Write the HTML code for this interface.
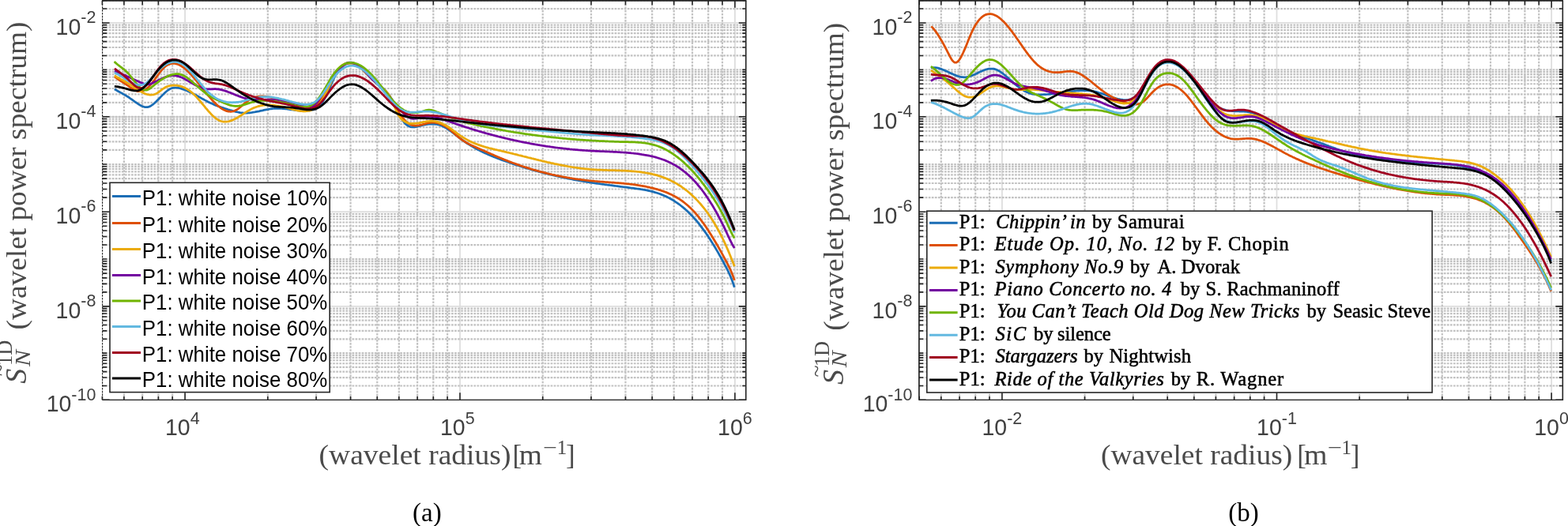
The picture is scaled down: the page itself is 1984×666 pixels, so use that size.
<!DOCTYPE html>
<html><head><meta charset="utf-8"><title>Wavelet power spectrum</title><style>html,body{margin:0;padding:0;background:#fff;overflow:hidden}svg{display:block}</style></head><body>
<svg width="1984" height="666" viewBox="0 0 1984 666">
<style>.tk{font-family:"Liberation Sans",Arial,sans-serif;font-size:28.5px;fill:#404040}.tx{font-size:21.5px}.sr{font-family:"Liberation Serif","Times New Roman",serif;fill:#4a4a4a}.lg{font-family:"Liberation Sans",Arial,sans-serif;font-size:28px;fill:#000}.lb{font-family:"Liberation Serif","Times New Roman",serif;font-size:24.5px;fill:#000;stroke:#000;stroke-width:0.55px}.cap{font-family:"Liberation Serif","Times New Roman",serif;font-size:33px;fill:#000}</style>
<rect width="100%" height="100%" fill="#fff"/>
<path d="M234.1 0.7V506.3M582 0.7V506.3M929.9 0.7V506.3M129.6 506.3H943.8M129.6 387.9H943.8M129.6 268.25H943.8M129.6 147.8H943.8M129.6 28.93H943.8" stroke="#dedede" stroke-width="1.8" fill="none"/>
<path d="M156.92 0.7V506.3M180.21 0.7V506.3M200.39 0.7V506.3M218.18 0.7V506.3M338.83 0.7V506.3M400.09 0.7V506.3M443.56 0.7V506.3M477.27 0.7V506.3M504.82 0.7V506.3M528.11 0.7V506.3M548.29 0.7V506.3M566.08 0.7V506.3M686.73 0.7V506.3M747.99 0.7V506.3M791.46 0.7V506.3M825.17 0.7V506.3M852.72 0.7V506.3M876.01 0.7V506.3M896.19 0.7V506.3M913.98 0.7V506.3M129.6 488.48H943.8M129.6 478.05H943.8M129.6 470.66H943.8M129.6 464.92H943.8M129.6 460.23H943.8M129.6 456.27H943.8M129.6 452.84H943.8M129.6 449.81H943.8M129.6 447.1H943.8M129.6 429.28H943.8M129.6 418.85H943.8M129.6 411.46H943.8M129.6 405.72H943.8M129.6 401.03H943.8M129.6 397.07H943.8M129.6 393.64H943.8M129.6 390.61H943.8M129.6 369.89H943.8M129.6 359.36H943.8M129.6 351.88H943.8M129.6 346.08H943.8M129.6 341.35H943.8M129.6 337.34H943.8M129.6 333.87H943.8M129.6 330.81H943.8M129.6 328.07H943.8M129.6 310.07H943.8M129.6 299.53H943.8M129.6 292.06H943.8M129.6 286.26H943.8M129.6 281.52H943.8M129.6 277.52H943.8M129.6 274.05H943.8M129.6 270.99H943.8M129.6 250.12H943.8M129.6 239.52H943.8M129.6 231.99H943.8M129.6 226.15H943.8M129.6 221.39H943.8M129.6 217.35H943.8M129.6 213.86H943.8M129.6 210.78H943.8M129.6 208.03H943.8M129.6 189.9H943.8M129.6 179.29H943.8M129.6 171.77H943.8M129.6 165.93H943.8M129.6 161.16H943.8M129.6 157.13H943.8M129.6 153.64H943.8M129.6 150.56H943.8M129.6 129.91H943.8M129.6 119.44H943.8M129.6 112.02H943.8M129.6 106.26H943.8M129.6 101.55H943.8M129.6 97.57H943.8M129.6 94.12H943.8M129.6 91.08H943.8M129.6 88.37H943.8M129.6 70.47H943.8M129.6 60.01H943.8M129.6 52.58H943.8M129.6 46.82H943.8M129.6 42.12H943.8M129.6 38.14H943.8M129.6 34.69H943.8M129.6 31.65H943.8M129.6 11.04H943.8M129.6 0.57H943.8M129.6 147.8H943.8" stroke="#c2c2c2" stroke-width="2.2" stroke-dasharray="2.7 1.35" fill="none"/>
<path d="M234.1 506.3v-9.0M234.1 0.7v9.0M582 506.3v-9.0M582 0.7v9.0M929.9 506.3v-9.0M929.9 0.7v9.0M129.37 506.3v-4.5M129.37 0.7v5.5M156.92 506.3v-4.5M156.92 0.7v5.5M180.21 506.3v-4.5M180.21 0.7v5.5M200.39 506.3v-4.5M200.39 0.7v5.5M218.18 506.3v-4.5M218.18 0.7v5.5M338.83 506.3v-4.5M338.83 0.7v5.5M400.09 506.3v-4.5M400.09 0.7v5.5M443.56 506.3v-4.5M443.56 0.7v5.5M477.27 506.3v-4.5M477.27 0.7v5.5M504.82 506.3v-4.5M504.82 0.7v5.5M528.11 506.3v-4.5M528.11 0.7v5.5M548.29 506.3v-4.5M548.29 0.7v5.5M566.08 506.3v-4.5M566.08 0.7v5.5M686.73 506.3v-4.5M686.73 0.7v5.5M747.99 506.3v-4.5M747.99 0.7v5.5M791.46 506.3v-4.5M791.46 0.7v5.5M825.17 506.3v-4.5M825.17 0.7v5.5M852.72 506.3v-4.5M852.72 0.7v5.5M876.01 506.3v-4.5M876.01 0.7v5.5M896.19 506.3v-4.5M896.19 0.7v5.5M913.98 506.3v-4.5M913.98 0.7v5.5M129.6 506.3h9.0M943.8 506.3h-9.0M129.6 387.9h9.0M943.8 387.9h-9.0M129.6 268.25h9.0M943.8 268.25h-9.0M129.6 147.8h9.0M943.8 147.8h-9.0M129.6 28.93h9.0M943.8 28.93h-9.0M129.6 488.48h5.5M943.8 488.48h-4.5M129.6 478.05h5.5M943.8 478.05h-4.5M129.6 470.66h5.5M943.8 470.66h-4.5M129.6 464.92h5.5M943.8 464.92h-4.5M129.6 460.23h5.5M943.8 460.23h-4.5M129.6 456.27h5.5M943.8 456.27h-4.5M129.6 452.84h5.5M943.8 452.84h-4.5M129.6 449.81h5.5M943.8 449.81h-4.5M129.6 447.1h5.5M943.8 447.1h-4.5M129.6 429.28h5.5M943.8 429.28h-4.5M129.6 418.85h5.5M943.8 418.85h-4.5M129.6 411.46h5.5M943.8 411.46h-4.5M129.6 405.72h5.5M943.8 405.72h-4.5M129.6 401.03h5.5M943.8 401.03h-4.5M129.6 397.07h5.5M943.8 397.07h-4.5M129.6 393.64h5.5M943.8 393.64h-4.5M129.6 390.61h5.5M943.8 390.61h-4.5M129.6 369.89h5.5M943.8 369.89h-4.5M129.6 359.36h5.5M943.8 359.36h-4.5M129.6 351.88h5.5M943.8 351.88h-4.5M129.6 346.08h5.5M943.8 346.08h-4.5M129.6 341.35h5.5M943.8 341.35h-4.5M129.6 337.34h5.5M943.8 337.34h-4.5M129.6 333.87h5.5M943.8 333.87h-4.5M129.6 330.81h5.5M943.8 330.81h-4.5M129.6 328.07h5.5M943.8 328.07h-4.5M129.6 310.07h5.5M943.8 310.07h-4.5M129.6 299.53h5.5M943.8 299.53h-4.5M129.6 292.06h5.5M943.8 292.06h-4.5M129.6 286.26h5.5M943.8 286.26h-4.5M129.6 281.52h5.5M943.8 281.52h-4.5M129.6 277.52h5.5M943.8 277.52h-4.5M129.6 274.05h5.5M943.8 274.05h-4.5M129.6 270.99h5.5M943.8 270.99h-4.5M129.6 250.12h5.5M943.8 250.12h-4.5M129.6 239.52h5.5M943.8 239.52h-4.5M129.6 231.99h5.5M943.8 231.99h-4.5M129.6 226.15h5.5M943.8 226.15h-4.5M129.6 221.39h5.5M943.8 221.39h-4.5M129.6 217.35h5.5M943.8 217.35h-4.5M129.6 213.86h5.5M943.8 213.86h-4.5M129.6 210.78h5.5M943.8 210.78h-4.5M129.6 208.03h5.5M943.8 208.03h-4.5M129.6 189.9h5.5M943.8 189.9h-4.5M129.6 179.29h5.5M943.8 179.29h-4.5M129.6 171.77h5.5M943.8 171.77h-4.5M129.6 165.93h5.5M943.8 165.93h-4.5M129.6 161.16h5.5M943.8 161.16h-4.5M129.6 157.13h5.5M943.8 157.13h-4.5M129.6 153.64h5.5M943.8 153.64h-4.5M129.6 150.56h5.5M943.8 150.56h-4.5M129.6 129.91h5.5M943.8 129.91h-4.5M129.6 119.44h5.5M943.8 119.44h-4.5M129.6 112.02h5.5M943.8 112.02h-4.5M129.6 106.26h5.5M943.8 106.26h-4.5M129.6 101.55h5.5M943.8 101.55h-4.5M129.6 97.57h5.5M943.8 97.57h-4.5M129.6 94.12h5.5M943.8 94.12h-4.5M129.6 91.08h5.5M943.8 91.08h-4.5M129.6 88.37h5.5M943.8 88.37h-4.5M129.6 70.47h5.5M943.8 70.47h-4.5M129.6 60.01h5.5M943.8 60.01h-4.5M129.6 52.58h5.5M943.8 52.58h-4.5M129.6 46.82h5.5M943.8 46.82h-4.5M129.6 42.12h5.5M943.8 42.12h-4.5M129.6 38.14h5.5M943.8 38.14h-4.5M129.6 34.69h5.5M943.8 34.69h-4.5M129.6 31.65h5.5M943.8 31.65h-4.5M129.6 11.04h5.5M943.8 11.04h-4.5M129.6 0.57h5.5M943.8 0.57h-4.5" stroke="#262626" stroke-width="1.6" fill="none"/>
<path d="M129.6 506.3H943.8" stroke="#262626" stroke-width="1.3" fill="none"/>
<path d="M943.8 506.95V0.7" stroke="#262626" stroke-width="1.6" fill="none"/>
<path d="M129 0.8H944.4" stroke="#262626" stroke-width="1.7" fill="none"/>
<path d="M129.6 0.7V506.3" stroke="#262626" stroke-width="1.1" stroke-dasharray="2.7 1.1" fill="none"/>
<g transform="translate(121.4,43.83) scale(1,1.035)"><text x="0" y="0" text-anchor="end" class="tk">10<tspan dy="-14.2" class="tx">-2</tspan></text></g>
<g transform="translate(121.4,162.7) scale(1,1.035)"><text x="0" y="0" text-anchor="end" class="tk">10<tspan dy="-14.2" class="tx">-4</tspan></text></g>
<g transform="translate(121.4,283.15) scale(1,1.035)"><text x="0" y="0" text-anchor="end" class="tk">10<tspan dy="-14.2" class="tx">-6</tspan></text></g>
<g transform="translate(121.4,402.8) scale(1,1.035)"><text x="0" y="0" text-anchor="end" class="tk">10<tspan dy="-14.2" class="tx">-8</tspan></text></g>
<g transform="translate(121.4,521.2) scale(1,1.035)"><text x="0" y="0" text-anchor="end" class="tk">10<tspan dy="-14.2" class="tx">-10</tspan></text></g>
<g transform="translate(230.8,551) scale(1,1.035)"><text x="0" y="0" text-anchor="middle" class="tk">10<tspan dy="-13.3" class="tx">4</tspan></text></g>
<g transform="translate(578.8,551) scale(1,1.035)"><text x="0" y="0" text-anchor="middle" class="tk">10<tspan dy="-13.3" class="tx">5</tspan></text></g>
<g transform="translate(929.9,551) scale(1,1.035)"><text x="0" y="0" text-anchor="middle" class="tk">10<tspan dy="-13.3" class="tx">6</tspan></text></g>
<path d="M1267.9 0.7V506.3M1615.5 0.7V506.3M1963.1 0.7V506.3M1162.6 506.3H1977.3M1162.6 387.9H1977.3M1162.6 268.25H1977.3M1162.6 147.8H1977.3M1162.6 28.93H1977.3" stroke="#dedede" stroke-width="1.8" fill="none"/>
<path d="M1190.79 0.7V506.3M1214.06 0.7V506.3M1234.21 0.7V506.3M1251.99 0.7V506.3M1372.54 0.7V506.3M1433.75 0.7V506.3M1477.18 0.7V506.3M1510.86 0.7V506.3M1538.39 0.7V506.3M1561.66 0.7V506.3M1581.81 0.7V506.3M1599.59 0.7V506.3M1720.14 0.7V506.3M1781.35 0.7V506.3M1824.78 0.7V506.3M1858.46 0.7V506.3M1885.99 0.7V506.3M1909.26 0.7V506.3M1929.41 0.7V506.3M1947.19 0.7V506.3M1162.6 488.48H1977.3M1162.6 478.05H1977.3M1162.6 470.66H1977.3M1162.6 464.92H1977.3M1162.6 460.23H1977.3M1162.6 456.27H1977.3M1162.6 452.84H1977.3M1162.6 449.81H1977.3M1162.6 447.1H1977.3M1162.6 429.28H1977.3M1162.6 418.85H1977.3M1162.6 411.46H1977.3M1162.6 405.72H1977.3M1162.6 401.03H1977.3M1162.6 397.07H1977.3M1162.6 393.64H1977.3M1162.6 390.61H1977.3M1162.6 369.89H1977.3M1162.6 359.36H1977.3M1162.6 351.88H1977.3M1162.6 346.08H1977.3M1162.6 341.35H1977.3M1162.6 337.34H1977.3M1162.6 333.87H1977.3M1162.6 330.81H1977.3M1162.6 328.07H1977.3M1162.6 310.07H1977.3M1162.6 299.53H1977.3M1162.6 292.06H1977.3M1162.6 286.26H1977.3M1162.6 281.52H1977.3M1162.6 277.52H1977.3M1162.6 274.05H1977.3M1162.6 270.99H1977.3M1162.6 250.12H1977.3M1162.6 239.52H1977.3M1162.6 231.99H1977.3M1162.6 226.15H1977.3M1162.6 221.39H1977.3M1162.6 217.35H1977.3M1162.6 213.86H1977.3M1162.6 210.78H1977.3M1162.6 208.03H1977.3M1162.6 189.9H1977.3M1162.6 179.29H1977.3M1162.6 171.77H1977.3M1162.6 165.93H1977.3M1162.6 161.16H1977.3M1162.6 157.13H1977.3M1162.6 153.64H1977.3M1162.6 150.56H1977.3M1162.6 129.91H1977.3M1162.6 119.44H1977.3M1162.6 112.02H1977.3M1162.6 106.26H1977.3M1162.6 101.55H1977.3M1162.6 97.57H1977.3M1162.6 94.12H1977.3M1162.6 91.08H1977.3M1162.6 88.37H1977.3M1162.6 70.47H1977.3M1162.6 60.01H1977.3M1162.6 52.58H1977.3M1162.6 46.82H1977.3M1162.6 42.12H1977.3M1162.6 38.14H1977.3M1162.6 34.69H1977.3M1162.6 31.65H1977.3M1162.6 11.04H1977.3M1162.6 0.57H1977.3M1162.6 147.8H1977.3" stroke="#c2c2c2" stroke-width="2.2" stroke-dasharray="2.7 1.35" fill="none"/>
<path d="M1267.9 506.3v-9.0M1267.9 0.7v9.0M1615.5 506.3v-9.0M1615.5 0.7v9.0M1963.1 506.3v-9.0M1963.1 0.7v9.0M1163.26 506.3v-4.5M1163.26 0.7v5.5M1190.79 506.3v-4.5M1190.79 0.7v5.5M1214.06 506.3v-4.5M1214.06 0.7v5.5M1234.21 506.3v-4.5M1234.21 0.7v5.5M1251.99 506.3v-4.5M1251.99 0.7v5.5M1372.54 506.3v-4.5M1372.54 0.7v5.5M1433.75 506.3v-4.5M1433.75 0.7v5.5M1477.18 506.3v-4.5M1477.18 0.7v5.5M1510.86 506.3v-4.5M1510.86 0.7v5.5M1538.39 506.3v-4.5M1538.39 0.7v5.5M1561.66 506.3v-4.5M1561.66 0.7v5.5M1581.81 506.3v-4.5M1581.81 0.7v5.5M1599.59 506.3v-4.5M1599.59 0.7v5.5M1720.14 506.3v-4.5M1720.14 0.7v5.5M1781.35 506.3v-4.5M1781.35 0.7v5.5M1824.78 506.3v-4.5M1824.78 0.7v5.5M1858.46 506.3v-4.5M1858.46 0.7v5.5M1885.99 506.3v-4.5M1885.99 0.7v5.5M1909.26 506.3v-4.5M1909.26 0.7v5.5M1929.41 506.3v-4.5M1929.41 0.7v5.5M1947.19 506.3v-4.5M1947.19 0.7v5.5M1162.6 506.3h9.0M1977.3 506.3h-9.0M1162.6 387.9h9.0M1977.3 387.9h-9.0M1162.6 268.25h9.0M1977.3 268.25h-9.0M1162.6 147.8h9.0M1977.3 147.8h-9.0M1162.6 28.93h9.0M1977.3 28.93h-9.0M1162.6 488.48h5.5M1977.3 488.48h-4.5M1162.6 478.05h5.5M1977.3 478.05h-4.5M1162.6 470.66h5.5M1977.3 470.66h-4.5M1162.6 464.92h5.5M1977.3 464.92h-4.5M1162.6 460.23h5.5M1977.3 460.23h-4.5M1162.6 456.27h5.5M1977.3 456.27h-4.5M1162.6 452.84h5.5M1977.3 452.84h-4.5M1162.6 449.81h5.5M1977.3 449.81h-4.5M1162.6 447.1h5.5M1977.3 447.1h-4.5M1162.6 429.28h5.5M1977.3 429.28h-4.5M1162.6 418.85h5.5M1977.3 418.85h-4.5M1162.6 411.46h5.5M1977.3 411.46h-4.5M1162.6 405.72h5.5M1977.3 405.72h-4.5M1162.6 401.03h5.5M1977.3 401.03h-4.5M1162.6 397.07h5.5M1977.3 397.07h-4.5M1162.6 393.64h5.5M1977.3 393.64h-4.5M1162.6 390.61h5.5M1977.3 390.61h-4.5M1162.6 369.89h5.5M1977.3 369.89h-4.5M1162.6 359.36h5.5M1977.3 359.36h-4.5M1162.6 351.88h5.5M1977.3 351.88h-4.5M1162.6 346.08h5.5M1977.3 346.08h-4.5M1162.6 341.35h5.5M1977.3 341.35h-4.5M1162.6 337.34h5.5M1977.3 337.34h-4.5M1162.6 333.87h5.5M1977.3 333.87h-4.5M1162.6 330.81h5.5M1977.3 330.81h-4.5M1162.6 328.07h5.5M1977.3 328.07h-4.5M1162.6 310.07h5.5M1977.3 310.07h-4.5M1162.6 299.53h5.5M1977.3 299.53h-4.5M1162.6 292.06h5.5M1977.3 292.06h-4.5M1162.6 286.26h5.5M1977.3 286.26h-4.5M1162.6 281.52h5.5M1977.3 281.52h-4.5M1162.6 277.52h5.5M1977.3 277.52h-4.5M1162.6 274.05h5.5M1977.3 274.05h-4.5M1162.6 270.99h5.5M1977.3 270.99h-4.5M1162.6 250.12h5.5M1977.3 250.12h-4.5M1162.6 239.52h5.5M1977.3 239.52h-4.5M1162.6 231.99h5.5M1977.3 231.99h-4.5M1162.6 226.15h5.5M1977.3 226.15h-4.5M1162.6 221.39h5.5M1977.3 221.39h-4.5M1162.6 217.35h5.5M1977.3 217.35h-4.5M1162.6 213.86h5.5M1977.3 213.86h-4.5M1162.6 210.78h5.5M1977.3 210.78h-4.5M1162.6 208.03h5.5M1977.3 208.03h-4.5M1162.6 189.9h5.5M1977.3 189.9h-4.5M1162.6 179.29h5.5M1977.3 179.29h-4.5M1162.6 171.77h5.5M1977.3 171.77h-4.5M1162.6 165.93h5.5M1977.3 165.93h-4.5M1162.6 161.16h5.5M1977.3 161.16h-4.5M1162.6 157.13h5.5M1977.3 157.13h-4.5M1162.6 153.64h5.5M1977.3 153.64h-4.5M1162.6 150.56h5.5M1977.3 150.56h-4.5M1162.6 129.91h5.5M1977.3 129.91h-4.5M1162.6 119.44h5.5M1977.3 119.44h-4.5M1162.6 112.02h5.5M1977.3 112.02h-4.5M1162.6 106.26h5.5M1977.3 106.26h-4.5M1162.6 101.55h5.5M1977.3 101.55h-4.5M1162.6 97.57h5.5M1977.3 97.57h-4.5M1162.6 94.12h5.5M1977.3 94.12h-4.5M1162.6 91.08h5.5M1977.3 91.08h-4.5M1162.6 88.37h5.5M1977.3 88.37h-4.5M1162.6 70.47h5.5M1977.3 70.47h-4.5M1162.6 60.01h5.5M1977.3 60.01h-4.5M1162.6 52.58h5.5M1977.3 52.58h-4.5M1162.6 46.82h5.5M1977.3 46.82h-4.5M1162.6 42.12h5.5M1977.3 42.12h-4.5M1162.6 38.14h5.5M1977.3 38.14h-4.5M1162.6 34.69h5.5M1977.3 34.69h-4.5M1162.6 31.65h5.5M1977.3 31.65h-4.5M1162.6 11.04h5.5M1977.3 11.04h-4.5M1162.6 0.57h5.5M1977.3 0.57h-4.5" stroke="#262626" stroke-width="1.6" fill="none"/>
<path d="M1162.6 506.3H1977.3" stroke="#262626" stroke-width="1.3" fill="none"/>
<path d="M1977.3 506.95V0.7" stroke="#262626" stroke-width="1.6" fill="none"/>
<path d="M1162 0.8H1977.9" stroke="#262626" stroke-width="1.7" fill="none"/>
<path d="M1162.9 0.7V506.3" stroke="#262626" stroke-width="1.7" fill="none"/>
<g transform="translate(1154.4,43.83) scale(1,1.035)"><text x="0" y="0" text-anchor="end" class="tk">10<tspan dy="-14.2" class="tx">-2</tspan></text></g>
<g transform="translate(1154.4,162.7) scale(1,1.035)"><text x="0" y="0" text-anchor="end" class="tk">10<tspan dy="-14.2" class="tx">-4</tspan></text></g>
<g transform="translate(1154.4,283.15) scale(1,1.035)"><text x="0" y="0" text-anchor="end" class="tk">10<tspan dy="-14.2" class="tx">-6</tspan></text></g>
<g transform="translate(1154.4,402.8) scale(1,1.035)"><text x="0" y="0" text-anchor="end" class="tk">10<tspan dy="-14.2" class="tx">-8</tspan></text></g>
<g transform="translate(1154.4,521.2) scale(1,1.035)"><text x="0" y="0" text-anchor="end" class="tk">10<tspan dy="-14.2" class="tx">-10</tspan></text></g>
<g transform="translate(1267.9,551) scale(1,1.035)"><text x="0" y="0" text-anchor="middle" class="tk">10<tspan dy="-13.3" class="tx">-2</tspan></text></g>
<g transform="translate(1615.5,551) scale(1,1.035)"><text x="0" y="0" text-anchor="middle" class="tk">10<tspan dy="-13.3" class="tx">-1</tspan></text></g>
<g transform="translate(1963.1,551) scale(1,1.035)"><text x="0" y="0" text-anchor="middle" class="tk">10<tspan dy="-13.3" class="tx">0</tspan></text></g>
<g fill="none" stroke-width="2.75" stroke-linejoin="round" stroke-linecap="butt">
<path d="M144.9 112.8 L146.4 113.7 L147.9 114.6 L149.4 115.5 L150.9 116.3 L152.4 117.1 L153.9 117.9 L155.4 118.8 L156.9 119.6 L158.4 120.5 L159.9 121.3 L161.4 122.3 L162.9 123.2 L164.4 124.3 L165.9 125.3 L167.4 126.4 L168.9 127.5 L170.4 128.6 L171.9 129.6 L173.4 130.7 L174.9 131.7 L176.4 132.6 L177.9 133.5 L179.4 134.2 L180.9 134.8 L182.4 135.3 L183.9 135.6 L185.4 135.7 L186.9 135.6 L188.4 135.2 L189.9 134.6 L191.4 133.7 L192.9 132.7 L194.4 131.5 L195.9 130.2 L197.4 128.8 L198.9 127.3 L200.4 125.8 L201.9 124.2 L203.4 122.6 L204.9 121.1 L206.4 119.6 L207.9 118.1 L209.4 116.8 L210.9 115.5 L212.4 114.3 L213.9 113.3 L215.4 112.5 L216.9 111.8 L218.4 111.4 L219.9 111.1 L221.4 111.0 L222.9 111.0 L224.4 111.1 L225.9 111.4 L227.4 111.7 L228.9 112.1 L230.4 112.6 L231.9 113.1 L233.4 113.6 L234.9 114.2 L236.4 114.8 L237.9 115.5 L239.4 116.2 L240.9 116.9 L242.4 117.6 L243.9 118.4 L245.4 119.2 L246.9 120.0 L248.4 120.8 L249.9 121.6 L251.4 122.5 L252.9 123.3 L254.4 124.1 L255.9 125.0 L257.4 125.8 L258.9 126.6 L260.4 127.4 L261.9 128.2 L263.4 129.0 L264.9 129.7 L266.4 130.4 L267.9 131.1 L269.4 131.8 L270.9 132.5 L272.4 133.1 L273.9 133.7 L275.4 134.2 L276.9 134.8 L278.4 135.3 L279.9 135.9 L281.4 136.4 L282.9 136.9 L284.4 137.4 L285.9 137.8 L287.4 138.3 L288.9 138.8 L290.4 139.2 L291.9 139.7 L293.4 140.1 L294.9 140.6 L296.4 141.0 L297.9 141.3 L299.4 141.7 L300.9 142.0 L302.4 142.3 L303.9 142.6 L305.4 142.8 L306.9 142.9 L308.4 143.0 L309.9 143.1 L311.4 143.1 L312.9 143.1 L314.4 143.0 L315.9 142.8 L317.4 142.7 L318.9 142.5 L320.4 142.2 L321.9 142.0 L323.4 141.7 L324.9 141.4 L326.4 141.1 L327.9 140.8 L329.4 140.4 L330.9 140.1 L332.4 139.8 L333.9 139.4 L335.4 139.1 L336.9 138.8 L338.4 138.5 L339.9 138.3 L341.4 138.0 L342.9 137.8 L344.4 137.6 L345.9 137.5 L347.4 137.4 L348.9 137.3 L350.4 137.3 L351.9 137.3 L353.4 137.3 L354.9 137.4 L356.4 137.5 L357.9 137.6 L359.4 137.7 L360.9 137.9 L362.4 138.0 L363.9 138.2 L365.4 138.4 L366.9 138.6 L368.4 138.8 L369.9 139.0 L371.4 139.2 L372.9 139.4 L374.4 139.6 L375.9 139.7 L377.4 139.9 L378.9 140.0 L380.4 140.1 L381.9 140.2 L383.4 140.2 L384.9 140.2 L386.4 140.2 L387.9 140.2 L389.4 140.1 L390.9 139.9 L392.4 139.8 L393.9 139.5 L395.4 139.2 L396.9 138.8 L398.4 138.2 L399.9 137.4 L401.4 136.5 L402.9 135.4 L404.4 134.0 L405.9 132.3 L407.4 130.4 L408.9 128.1 L410.4 125.6 L411.9 122.9 L413.4 119.9 L414.9 116.7 L416.4 113.2 L417.9 109.7 L419.4 106.2 L420.9 102.7 L422.4 99.5 L423.9 96.5 L425.4 93.7 L426.9 91.2 L428.4 88.9 L429.9 86.9 L431.4 85.1 L432.9 83.6 L434.4 82.3 L435.9 81.2 L437.4 80.3 L438.9 79.7 L440.4 79.3 L441.9 79.0 L443.4 79.0 L444.9 79.2 L446.4 79.5 L447.9 80.0 L449.4 80.7 L450.9 81.5 L452.4 82.5 L453.9 83.6 L455.4 84.8 L456.9 86.2 L458.4 87.6 L459.9 89.1 L461.4 90.6 L462.9 92.2 L464.4 93.8 L465.9 95.4 L467.4 97.0 L468.9 98.5 L470.4 100.0 L471.9 101.4 L473.4 102.7 L474.9 103.9 L476.4 105.1 L477.9 106.3 L479.4 107.5 L480.9 108.7 L482.4 109.9 L483.9 111.2 L485.4 112.5 L486.9 114.0 L488.4 115.5 L489.9 117.3 L491.4 119.1 L492.9 121.2 L494.4 123.5 L495.9 126.0 L497.4 128.7 L498.9 131.6 L500.4 134.7 L501.9 137.8 L503.4 140.9 L504.9 144.0 L506.4 146.9 L507.9 149.6 L509.4 152.1 L510.9 154.3 L512.4 156.1 L513.9 157.6 L515.4 158.7 L516.9 159.6 L518.4 160.3 L519.9 160.7 L521.4 160.9 L522.9 160.9 L524.4 160.9 L525.9 160.6 L527.4 160.4 L528.9 160.0 L530.4 159.6 L531.9 159.2 L533.4 158.8 L534.9 158.5 L536.4 158.1 L537.9 157.8 L539.4 157.6 L540.9 157.4 L542.4 157.2 L543.9 157.1 L545.4 157.0 L546.9 157.0 L548.4 157.0 L549.9 157.1 L551.4 157.3 L552.9 157.5 L554.4 157.9 L555.9 158.2 L557.4 158.7 L558.9 159.3 L560.4 159.9 L561.9 160.7 L563.4 161.5 L564.9 162.3 L566.4 163.3 L567.9 164.3 L569.4 165.3 L570.9 166.4 L572.4 167.6 L573.9 168.7 L575.4 169.9 L576.9 171.1 L578.4 172.2 L579.9 173.4 L581.4 174.6 L582.9 175.7 L584.4 176.8 L585.9 177.9 L587.4 179.0 L588.9 180.0 L590.4 181.0 L591.9 182.0 L593.4 182.9 L594.9 183.9 L596.4 184.8 L597.9 185.6 L599.4 186.5 L600.9 187.4 L602.4 188.2 L603.9 189.0 L605.4 189.8 L606.9 190.5 L608.4 191.3 L609.9 192.0 L611.4 192.8 L612.9 193.5 L614.4 194.1 L615.9 194.8 L617.4 195.5 L618.9 196.1 L620.4 196.8 L621.9 197.4 L623.4 198.0 L624.9 198.6 L626.4 199.2 L627.9 199.8 L629.4 200.4 L630.9 200.9 L632.4 201.5 L633.9 202.1 L635.4 202.6 L636.9 203.2 L638.4 203.7 L639.9 204.2 L641.4 204.8 L642.9 205.3 L644.4 205.8 L645.9 206.3 L647.4 206.8 L648.9 207.4 L650.4 207.9 L651.9 208.4 L653.4 208.8 L654.9 209.3 L656.4 209.8 L657.9 210.3 L659.4 210.8 L660.9 211.2 L662.4 211.7 L663.9 212.2 L665.4 212.6 L666.9 213.1 L668.4 213.5 L669.9 214.0 L671.4 214.4 L672.9 214.8 L674.4 215.3 L675.9 215.7 L677.4 216.1 L678.9 216.5 L680.4 216.9 L681.9 217.3 L683.4 217.7 L684.9 218.1 L686.4 218.5 L687.9 218.9 L689.4 219.3 L690.9 219.7 L692.4 220.0 L693.9 220.4 L695.4 220.8 L696.9 221.1 L698.4 221.5 L699.9 221.9 L701.4 222.2 L702.9 222.6 L704.4 222.9 L705.9 223.2 L707.4 223.6 L708.9 223.9 L710.4 224.2 L711.9 224.6 L713.4 224.9 L714.9 225.2 L716.4 225.5 L717.9 225.8 L719.4 226.1 L720.9 226.4 L722.4 226.7 L723.9 227.0 L725.4 227.3 L726.9 227.6 L728.4 227.8 L729.9 228.1 L731.4 228.4 L732.9 228.7 L734.4 228.9 L735.9 229.2 L737.4 229.5 L738.9 229.7 L740.4 230.0 L741.9 230.2 L743.4 230.5 L744.9 230.7 L746.4 230.9 L747.9 231.2 L749.4 231.4 L750.9 231.6 L752.4 231.8 L753.9 232.1 L755.4 232.3 L756.9 232.5 L758.4 232.7 L759.9 232.9 L761.4 233.1 L762.9 233.3 L764.4 233.5 L765.9 233.8 L767.4 234.0 L768.9 234.2 L770.4 234.3 L771.9 234.5 L773.4 234.7 L774.9 234.9 L776.4 235.1 L777.9 235.3 L779.4 235.5 L780.9 235.7 L782.4 235.9 L783.9 236.1 L785.4 236.3 L786.9 236.5 L788.4 236.7 L789.9 236.8 L791.4 237.0 L792.9 237.2 L794.4 237.4 L795.9 237.6 L797.4 237.8 L798.9 238.0 L800.4 238.2 L801.9 238.4 L803.4 238.6 L804.9 238.8 L806.4 239.0 L807.9 239.2 L809.4 239.4 L810.9 239.7 L812.4 239.9 L813.9 240.2 L815.4 240.4 L816.9 240.7 L818.4 241.0 L819.9 241.3 L821.4 241.6 L822.9 242.0 L824.4 242.3 L825.9 242.7 L827.4 243.1 L828.9 243.6 L830.4 244.0 L831.9 244.5 L833.4 245.0 L834.9 245.5 L836.4 246.1 L837.9 246.7 L839.4 247.3 L840.9 248.0 L842.4 248.6 L843.9 249.3 L845.4 250.1 L846.9 250.9 L848.4 251.7 L849.9 252.5 L851.4 253.4 L852.9 254.3 L854.4 255.3 L855.9 256.3 L857.4 257.3 L858.9 258.4 L860.4 259.5 L861.9 260.7 L863.4 261.9 L864.9 263.1 L866.4 264.4 L867.9 265.7 L869.4 267.1 L870.9 268.5 L872.4 270.0 L873.9 271.5 L875.4 273.0 L876.9 274.6 L878.4 276.3 L879.9 278.0 L881.4 279.7 L882.9 281.5 L884.4 283.4 L885.9 285.3 L887.4 287.3 L888.9 289.3 L890.4 291.3 L891.9 293.4 L893.4 295.5 L894.9 297.7 L896.4 300.0 L897.9 302.2 L899.4 304.6 L900.9 306.9 L902.4 309.4 L903.9 311.8 L905.4 314.3 L906.9 316.9 L908.4 319.4 L909.9 322.1 L911.4 324.7 L912.9 327.5 L914.4 330.2 L915.9 333.0 L917.4 335.8 L918.9 338.7 L920.4 341.7 L921.9 344.7 L923.4 348.0 L924.9 351.5 L926.4 355.3 L927.9 359.5 L929.3 363.8" stroke="#1a6db5"/>
<path d="M144.9 97.1 L146.4 98.2 L147.9 99.2 L149.4 100.3 L150.9 101.3 L152.4 102.3 L153.9 103.2 L155.4 104.2 L156.9 105.2 L158.4 106.2 L159.9 107.2 L161.4 108.2 L162.9 109.2 L164.4 110.3 L165.9 111.3 L167.4 112.3 L168.9 113.2 L170.4 114.0 L171.9 114.7 L173.4 115.3 L174.9 115.6 L176.4 115.7 L177.9 115.6 L179.4 115.4 L180.9 114.9 L182.4 114.2 L183.9 113.4 L185.4 112.4 L186.9 111.1 L188.4 109.7 L189.9 108.1 L191.4 106.4 L192.9 104.5 L194.4 102.5 L195.9 100.5 L197.4 98.4 L198.9 96.3 L200.4 94.2 L201.9 92.2 L203.4 90.2 L204.9 88.4 L206.4 86.8 L207.9 85.3 L209.4 84.0 L210.9 82.9 L212.4 82.1 L213.9 81.4 L215.4 80.9 L216.9 80.5 L218.4 80.3 L219.9 80.3 L221.4 80.5 L222.9 80.8 L224.4 81.2 L225.9 81.8 L227.4 82.5 L228.9 83.3 L230.4 84.3 L231.9 85.3 L233.4 86.5 L234.9 87.7 L236.4 89.1 L237.9 90.5 L239.4 92.0 L240.9 93.5 L242.4 95.2 L243.9 96.8 L245.4 98.6 L246.9 100.4 L248.4 102.2 L249.9 104.0 L251.4 105.9 L252.9 107.8 L254.4 109.7 L255.9 111.6 L257.4 113.5 L258.9 115.3 L260.4 117.2 L261.9 119.1 L263.4 120.9 L264.9 122.7 L266.4 124.4 L267.9 126.1 L269.4 127.7 L270.9 129.3 L272.4 130.8 L273.9 132.3 L275.4 133.6 L276.9 134.9 L278.4 136.0 L279.9 137.1 L281.4 138.1 L282.9 138.9 L284.4 139.6 L285.9 140.3 L287.4 140.7 L288.9 141.1 L290.4 141.2 L291.9 141.3 L293.4 141.2 L294.9 140.9 L296.4 140.5 L297.9 139.8 L299.4 139.0 L300.9 138.1 L302.4 137.0 L303.9 135.8 L305.4 134.5 L306.9 133.2 L308.4 131.9 L309.9 130.6 L311.4 129.4 L312.9 128.3 L314.4 127.2 L315.9 126.2 L317.4 125.4 L318.9 124.7 L320.4 124.0 L321.9 123.5 L323.4 123.0 L324.9 122.6 L326.4 122.3 L327.9 122.1 L329.4 122.0 L330.9 121.9 L332.4 121.9 L333.9 122.0 L335.4 122.1 L336.9 122.3 L338.4 122.5 L339.9 122.8 L341.4 123.1 L342.9 123.4 L344.4 123.8 L345.9 124.2 L347.4 124.7 L348.9 125.1 L350.4 125.6 L351.9 126.1 L353.4 126.6 L354.9 127.1 L356.4 127.6 L357.9 128.1 L359.4 128.6 L360.9 129.0 L362.4 129.5 L363.9 129.9 L365.4 130.4 L366.9 130.8 L368.4 131.2 L369.9 131.6 L371.4 132.0 L372.9 132.3 L374.4 132.7 L375.9 133.0 L377.4 133.3 L378.9 133.7 L380.4 134.0 L381.9 134.2 L383.4 134.5 L384.9 134.8 L386.4 135.0 L387.9 135.3 L389.4 135.5 L390.9 135.7 L392.4 135.7 L393.9 135.5 L395.4 135.2 L396.9 134.5 L398.4 133.6 L399.9 132.4 L401.4 130.9 L402.9 129.2 L404.4 127.3 L405.9 125.2 L407.4 122.9 L408.9 120.5 L410.4 118.0 L411.9 115.3 L413.4 112.7 L414.9 109.9 L416.4 107.2 L417.9 104.5 L419.4 101.8 L420.9 99.1 L422.4 96.6 L423.9 94.1 L425.4 91.8 L426.9 89.7 L428.4 87.7 L429.9 86.0 L431.4 84.5 L432.9 83.2 L434.4 82.1 L435.9 81.2 L437.4 80.5 L438.9 80.0 L440.4 79.7 L441.9 79.5 L443.4 79.5 L444.9 79.6 L446.4 79.9 L447.9 80.3 L449.4 80.9 L450.9 81.7 L452.4 82.6 L453.9 83.7 L455.4 85.0 L456.9 86.4 L458.4 87.9 L459.9 89.4 L461.4 90.8 L462.9 92.2 L464.4 93.6 L465.9 95.0 L467.4 96.4 L468.9 97.7 L470.4 99.1 L471.9 100.4 L473.4 101.8 L474.9 103.1 L476.4 104.5 L477.9 105.9 L479.4 107.3 L480.9 108.8 L482.4 110.3 L483.9 111.8 L485.4 113.4 L486.9 115.0 L488.4 116.7 L489.9 118.5 L491.4 120.4 L492.9 122.5 L494.4 124.8 L495.9 127.2 L497.4 129.8 L498.9 132.5 L500.4 135.3 L501.9 138.0 L503.4 140.6 L504.9 143.0 L506.4 145.2 L507.9 147.3 L509.4 149.2 L510.9 151.0 L512.4 152.5 L513.9 154.0 L515.4 155.2 L516.9 156.3 L518.4 157.1 L519.9 157.9 L521.4 158.4 L522.9 158.7 L524.4 159.0 L525.9 159.0 L527.4 159.0 L528.9 158.8 L530.4 158.6 L531.9 158.3 L533.4 158.0 L534.9 157.6 L536.4 157.2 L537.9 156.7 L539.4 156.3 L540.9 156.0 L542.4 155.7 L543.9 155.4 L545.4 155.2 L546.9 155.1 L548.4 155.1 L549.9 155.2 L551.4 155.3 L552.9 155.6 L554.4 156.0 L555.9 156.4 L557.4 156.9 L558.9 157.5 L560.4 158.2 L561.9 159.0 L563.4 159.9 L564.9 160.9 L566.4 161.9 L567.9 163.0 L569.4 164.3 L570.9 165.5 L572.4 166.8 L573.9 168.1 L575.4 169.5 L576.9 170.8 L578.4 172.1 L579.9 173.4 L581.4 174.6 L582.9 175.8 L584.4 176.9 L585.9 178.0 L587.4 178.9 L588.9 179.9 L590.4 180.8 L591.9 181.6 L593.4 182.4 L594.9 183.1 L596.4 183.9 L597.9 184.6 L599.4 185.3 L600.9 185.9 L602.4 186.6 L603.9 187.2 L605.4 187.9 L606.9 188.6 L608.4 189.2 L609.9 189.9 L611.4 190.5 L612.9 191.2 L614.4 191.9 L615.9 192.5 L617.4 193.2 L618.9 193.9 L620.4 194.5 L621.9 195.2 L623.4 195.8 L624.9 196.5 L626.4 197.2 L627.9 197.8 L629.4 198.5 L630.9 199.1 L632.4 199.7 L633.9 200.4 L635.4 201.0 L636.9 201.6 L638.4 202.2 L639.9 202.8 L641.4 203.4 L642.9 204.0 L644.4 204.6 L645.9 205.1 L647.4 205.7 L648.9 206.3 L650.4 206.8 L651.9 207.3 L653.4 207.9 L654.9 208.4 L656.4 208.9 L657.9 209.5 L659.4 210.0 L660.9 210.5 L662.4 211.0 L663.9 211.5 L665.4 211.9 L666.9 212.4 L668.4 212.9 L669.9 213.4 L671.4 213.8 L672.9 214.3 L674.4 214.7 L675.9 215.2 L677.4 215.6 L678.9 216.0 L680.4 216.4 L681.9 216.8 L683.4 217.3 L684.9 217.7 L686.4 218.0 L687.9 218.4 L689.4 218.8 L690.9 219.2 L692.4 219.6 L693.9 219.9 L695.4 220.3 L696.9 220.6 L698.4 221.0 L699.9 221.3 L701.4 221.6 L702.9 222.0 L704.4 222.3 L705.9 222.6 L707.4 222.9 L708.9 223.2 L710.4 223.5 L711.9 223.8 L713.4 224.1 L714.9 224.3 L716.4 224.6 L717.9 224.9 L719.4 225.1 L720.9 225.4 L722.4 225.6 L723.9 225.9 L725.4 226.1 L726.9 226.3 L728.4 226.6 L729.9 226.8 L731.4 227.0 L732.9 227.2 L734.4 227.4 L735.9 227.6 L737.4 227.8 L738.9 228.0 L740.4 228.2 L741.9 228.3 L743.4 228.5 L744.9 228.7 L746.4 228.8 L747.9 229.0 L749.4 229.1 L750.9 229.2 L752.4 229.4 L753.9 229.5 L755.4 229.6 L756.9 229.8 L758.4 229.9 L759.9 230.0 L761.4 230.1 L762.9 230.2 L764.4 230.3 L765.9 230.5 L767.4 230.6 L768.9 230.7 L770.4 230.8 L771.9 230.9 L773.4 231.0 L774.9 231.1 L776.4 231.2 L777.9 231.3 L779.4 231.5 L780.9 231.6 L782.4 231.7 L783.9 231.8 L785.4 231.9 L786.9 232.1 L788.4 232.2 L789.9 232.4 L791.4 232.5 L792.9 232.7 L794.4 232.8 L795.9 233.0 L797.4 233.2 L798.9 233.3 L800.4 233.5 L801.9 233.7 L803.4 233.9 L804.9 234.1 L806.4 234.3 L807.9 234.6 L809.4 234.8 L810.9 235.1 L812.4 235.3 L813.9 235.6 L815.4 235.9 L816.9 236.2 L818.4 236.5 L819.9 236.8 L821.4 237.1 L822.9 237.5 L824.4 237.8 L825.9 238.2 L827.4 238.6 L828.9 239.0 L830.4 239.4 L831.9 239.8 L833.4 240.3 L834.9 240.7 L836.4 241.2 L837.9 241.7 L839.4 242.2 L840.9 242.8 L842.4 243.3 L843.9 243.9 L845.4 244.6 L846.9 245.2 L848.4 245.9 L849.9 246.6 L851.4 247.4 L852.9 248.1 L854.4 249.0 L855.9 249.8 L857.4 250.7 L858.9 251.6 L860.4 252.6 L861.9 253.6 L863.4 254.7 L864.9 255.8 L866.4 257.0 L867.9 258.2 L869.4 259.5 L870.9 260.8 L872.4 262.2 L873.9 263.6 L875.4 265.1 L876.9 266.6 L878.4 268.2 L879.9 269.9 L881.4 271.7 L882.9 273.4 L884.4 275.3 L885.9 277.2 L887.4 279.2 L888.9 281.2 L890.4 283.3 L891.9 285.4 L893.4 287.6 L894.9 289.9 L896.4 292.1 L897.9 294.5 L899.4 296.8 L900.9 299.2 L902.4 301.7 L903.9 304.2 L905.4 306.7 L906.9 309.3 L908.4 311.9 L909.9 314.5 L911.4 317.2 L912.9 319.9 L914.4 322.6 L915.9 325.4 L917.4 328.2 L918.9 331.0 L920.4 333.8 L921.9 336.8 L923.4 339.9 L924.9 343.2 L926.4 346.8 L927.9 350.8 L929.3 354.9" stroke="#de4f00"/>
<path d="M144.9 95.7 L146.4 96.7 L147.9 97.6 L149.4 98.5 L150.9 99.3 L152.4 100.1 L153.9 100.9 L155.4 101.7 L156.9 102.5 L158.4 103.3 L159.9 104.2 L161.4 105.0 L162.9 105.9 L164.4 106.9 L165.9 107.9 L167.4 108.9 L168.9 109.9 L170.4 110.9 L171.9 111.9 L173.4 113.0 L174.9 113.9 L176.4 114.9 L177.9 115.8 L179.4 116.6 L180.9 117.4 L182.4 118.1 L183.9 118.7 L185.4 119.2 L186.9 119.7 L188.4 119.9 L189.9 120.1 L191.4 120.1 L192.9 120.0 L194.4 119.8 L195.9 119.3 L197.4 118.7 L198.9 117.9 L200.4 116.9 L201.9 115.8 L203.4 114.6 L204.9 113.4 L206.4 112.3 L207.9 111.3 L209.4 110.5 L210.9 109.8 L212.4 109.3 L213.9 108.8 L215.4 108.5 L216.9 108.3 L218.4 108.2 L219.9 108.1 L221.4 108.1 L222.9 108.2 L224.4 108.3 L225.9 108.6 L227.4 108.9 L228.9 109.3 L230.4 109.8 L231.9 110.4 L233.4 111.1 L234.9 111.8 L236.4 112.7 L237.9 113.6 L239.4 114.6 L240.9 115.7 L242.4 116.9 L243.9 118.2 L245.4 119.6 L246.9 121.1 L248.4 122.6 L249.9 124.3 L251.4 126.0 L252.9 127.7 L254.4 129.5 L255.9 131.3 L257.4 133.1 L258.9 134.9 L260.4 136.8 L261.9 138.5 L263.4 140.3 L264.9 142.0 L266.4 143.6 L267.9 145.2 L269.4 146.7 L270.9 148.0 L272.4 149.3 L273.9 150.4 L275.4 151.4 L276.9 152.3 L278.4 153.0 L279.9 153.5 L281.4 153.9 L282.9 154.1 L284.4 154.2 L285.9 154.2 L287.4 154.0 L288.9 153.8 L290.4 153.4 L291.9 152.9 L293.4 152.4 L294.9 151.8 L296.4 151.1 L297.9 150.3 L299.4 149.5 L300.9 148.6 L302.4 147.7 L303.9 146.8 L305.4 145.8 L306.9 144.8 L308.4 143.9 L309.9 142.9 L311.4 141.9 L312.9 141.0 L314.4 140.1 L315.9 139.2 L317.4 138.4 L318.9 137.6 L320.4 136.9 L321.9 136.3 L323.4 135.7 L324.9 135.2 L326.4 134.7 L327.9 134.3 L329.4 133.9 L330.9 133.7 L332.4 133.4 L333.9 133.2 L335.4 133.1 L336.9 133.0 L338.4 132.9 L339.9 132.9 L341.4 132.9 L342.9 133.0 L344.4 133.1 L345.9 133.2 L347.4 133.3 L348.9 133.5 L350.4 133.8 L351.9 134.0 L353.4 134.3 L354.9 134.6 L356.4 134.9 L357.9 135.2 L359.4 135.6 L360.9 136.0 L362.4 136.3 L363.9 136.7 L365.4 137.1 L366.9 137.5 L368.4 137.9 L369.9 138.4 L371.4 138.7 L372.9 139.1 L374.4 139.5 L375.9 139.8 L377.4 140.1 L378.9 140.4 L380.4 140.6 L381.9 140.7 L383.4 140.8 L384.9 140.9 L386.4 140.8 L387.9 140.7 L389.4 140.5 L390.9 140.3 L392.4 139.9 L393.9 139.4 L395.4 138.8 L396.9 138.1 L398.4 137.2 L399.9 136.1 L401.4 134.8 L402.9 133.3 L404.4 131.5 L405.9 129.5 L407.4 127.1 L408.9 124.6 L410.4 121.8 L411.9 118.9 L413.4 115.8 L414.9 112.7 L416.4 109.5 L417.9 106.3 L419.4 103.1 L420.9 100.0 L422.4 97.1 L423.9 94.2 L425.4 91.6 L426.9 89.2 L428.4 87.1 L429.9 85.3 L431.4 83.8 L432.9 82.6 L434.4 81.8 L435.9 81.1 L437.4 80.7 L438.9 80.4 L440.4 80.3 L441.9 80.3 L443.4 80.3 L444.9 80.3 L446.4 80.4 L447.9 80.5 L449.4 80.7 L450.9 81.2 L452.4 81.9 L453.9 83.0 L455.4 84.3 L456.9 85.8 L458.4 87.5 L459.9 89.1 L461.4 90.7 L462.9 92.3 L464.4 93.9 L465.9 95.4 L467.4 96.9 L468.9 98.3 L470.4 99.8 L471.9 101.1 L473.4 102.5 L474.9 103.9 L476.4 105.2 L477.9 106.5 L479.4 107.8 L480.9 109.0 L482.4 110.3 L483.9 111.5 L485.4 112.8 L486.9 114.1 L488.4 115.5 L489.9 117.1 L491.4 119.0 L492.9 121.2 L494.4 123.8 L495.9 126.8 L497.4 130.4 L498.9 134.2 L500.4 138.0 L501.9 141.5 L503.4 144.5 L504.9 147.0 L506.4 149.0 L507.9 150.7 L509.4 152.0 L510.9 153.1 L512.4 154.0 L513.9 154.8 L515.4 155.4 L516.9 155.8 L518.4 156.1 L519.9 156.3 L521.4 156.4 L522.9 156.4 L524.4 156.4 L525.9 156.2 L527.4 156.1 L528.9 155.8 L530.4 155.6 L531.9 155.3 L533.4 155.0 L534.9 154.7 L536.4 154.4 L537.9 154.2 L539.4 153.9 L540.9 153.7 L542.4 153.5 L543.9 153.4 L545.4 153.4 L546.9 153.4 L548.4 153.5 L549.9 153.6 L551.4 153.9 L552.9 154.2 L554.4 154.6 L555.9 155.1 L557.4 155.6 L558.9 156.2 L560.4 156.9 L561.9 157.7 L563.4 158.5 L564.9 159.3 L566.4 160.2 L567.9 161.2 L569.4 162.2 L570.9 163.3 L572.4 164.4 L573.9 165.5 L575.4 166.6 L576.9 167.7 L578.4 168.8 L579.9 169.9 L581.4 171.0 L582.9 172.1 L584.4 173.0 L585.9 174.0 L587.4 174.9 L588.9 175.8 L590.4 176.6 L591.9 177.4 L593.4 178.2 L594.9 179.0 L596.4 179.7 L597.9 180.4 L599.4 181.0 L600.9 181.6 L602.4 182.2 L603.9 182.8 L605.4 183.4 L606.9 183.9 L608.4 184.4 L609.9 184.9 L611.4 185.3 L612.9 185.8 L614.4 186.2 L615.9 186.7 L617.4 187.1 L618.9 187.5 L620.4 187.8 L621.9 188.2 L623.4 188.6 L624.9 188.9 L626.4 189.3 L627.9 189.6 L629.4 190.0 L630.9 190.3 L632.4 190.7 L633.9 191.0 L635.4 191.4 L636.9 191.7 L638.4 192.1 L639.9 192.4 L641.4 192.8 L642.9 193.1 L644.4 193.5 L645.9 193.9 L647.4 194.2 L648.9 194.6 L650.4 195.0 L651.9 195.3 L653.4 195.7 L654.9 196.1 L656.4 196.5 L657.9 196.8 L659.4 197.2 L660.9 197.6 L662.4 198.0 L663.9 198.3 L665.4 198.7 L666.9 199.1 L668.4 199.5 L669.9 199.8 L671.4 200.2 L672.9 200.6 L674.4 200.9 L675.9 201.3 L677.4 201.7 L678.9 202.1 L680.4 202.4 L681.9 202.8 L683.4 203.1 L684.9 203.5 L686.4 203.9 L687.9 204.2 L689.4 204.6 L690.9 204.9 L692.4 205.3 L693.9 205.6 L695.4 205.9 L696.9 206.3 L698.4 206.6 L699.9 206.9 L701.4 207.3 L702.9 207.6 L704.4 207.9 L705.9 208.2 L707.4 208.5 L708.9 208.8 L710.4 209.1 L711.9 209.4 L713.4 209.7 L714.9 210.0 L716.4 210.2 L717.9 210.5 L719.4 210.8 L720.9 211.0 L722.4 211.3 L723.9 211.5 L725.4 211.8 L726.9 212.0 L728.4 212.2 L729.9 212.5 L731.4 212.7 L732.9 212.9 L734.4 213.1 L735.9 213.3 L737.4 213.4 L738.9 213.6 L740.4 213.8 L741.9 213.9 L743.4 214.1 L744.9 214.2 L746.4 214.4 L747.9 214.5 L749.4 214.6 L750.9 214.7 L752.4 214.8 L753.9 214.9 L755.4 215.0 L756.9 215.0 L758.4 215.1 L759.9 215.2 L761.4 215.2 L762.9 215.3 L764.4 215.3 L765.9 215.4 L767.4 215.4 L768.9 215.5 L770.4 215.5 L771.9 215.6 L773.4 215.6 L774.9 215.6 L776.4 215.7 L777.9 215.7 L779.4 215.8 L780.9 215.8 L782.4 215.8 L783.9 215.9 L785.4 216.0 L786.9 216.0 L788.4 216.1 L789.9 216.1 L791.4 216.2 L792.9 216.3 L794.4 216.4 L795.9 216.5 L797.4 216.6 L798.9 216.7 L800.4 216.8 L801.9 216.9 L803.4 217.0 L804.9 217.2 L806.4 217.3 L807.9 217.5 L809.4 217.7 L810.9 217.9 L812.4 218.1 L813.9 218.3 L815.4 218.5 L816.9 218.8 L818.4 219.0 L819.9 219.3 L821.4 219.6 L822.9 219.9 L824.4 220.2 L825.9 220.6 L827.4 220.9 L828.9 221.3 L830.4 221.7 L831.9 222.1 L833.4 222.6 L834.9 223.1 L836.4 223.5 L837.9 224.1 L839.4 224.6 L840.9 225.2 L842.4 225.8 L843.9 226.4 L845.4 227.0 L846.9 227.7 L848.4 228.4 L849.9 229.2 L851.4 229.9 L852.9 230.7 L854.4 231.6 L855.9 232.4 L857.4 233.3 L858.9 234.3 L860.4 235.2 L861.9 236.2 L863.4 237.3 L864.9 238.3 L866.4 239.5 L867.9 240.6 L869.4 241.8 L870.9 243.0 L872.4 244.3 L873.9 245.6 L875.4 247.0 L876.9 248.4 L878.4 249.8 L879.9 251.3 L881.4 252.9 L882.9 254.4 L884.4 256.1 L885.9 257.7 L887.4 259.5 L888.9 261.3 L890.4 263.1 L891.9 265.0 L893.4 267.0 L894.9 269.0 L896.4 271.1 L897.9 273.3 L899.4 275.5 L900.9 277.8 L902.4 280.2 L903.9 282.6 L905.4 285.2 L906.9 287.8 L908.4 290.5 L909.9 293.2 L911.4 296.1 L912.9 299.0 L914.4 302.0 L915.9 305.2 L917.4 308.4 L918.9 311.7 L920.4 315.1 L921.9 318.6 L923.4 322.2 L924.9 325.9 L926.4 329.7 L927.9 333.6 L929.3 337.3" stroke="#ebab0b"/>
<path d="M144.9 90.0 L146.4 90.6 L147.9 91.2 L149.4 91.8 L150.9 92.4 L152.4 93.0 L153.9 93.6 L155.4 94.3 L156.9 94.9 L158.4 95.6 L159.9 96.3 L161.4 97.0 L162.9 97.6 L164.4 98.3 L165.9 99.0 L167.4 99.7 L168.9 100.4 L170.4 101.1 L171.9 101.7 L173.4 102.4 L174.9 103.1 L176.4 103.7 L177.9 104.4 L179.4 105.0 L180.9 105.6 L182.4 106.2 L183.9 106.7 L185.4 106.9 L186.9 107.0 L188.4 106.8 L189.9 106.4 L191.4 105.9 L192.9 105.2 L194.4 104.5 L195.9 103.8 L197.4 103.1 L198.9 102.4 L200.4 101.6 L201.9 100.9 L203.4 100.2 L204.9 99.5 L206.4 98.8 L207.9 98.2 L209.4 97.6 L210.9 97.0 L212.4 96.6 L213.9 96.2 L215.4 95.9 L216.9 95.6 L218.4 95.5 L219.9 95.5 L221.4 95.6 L222.9 95.8 L224.4 96.1 L225.9 96.6 L227.4 97.1 L228.9 97.7 L230.4 98.3 L231.9 99.1 L233.4 99.8 L234.9 100.7 L236.4 101.5 L237.9 102.4 L239.4 103.2 L240.9 104.1 L242.4 105.0 L243.9 105.9 L245.4 106.7 L246.9 107.5 L248.4 108.3 L249.9 109.1 L251.4 109.8 L252.9 110.4 L254.4 111.0 L255.9 111.6 L257.4 112.0 L258.9 112.4 L260.4 112.7 L261.9 112.9 L263.4 112.9 L264.9 112.9 L266.4 112.9 L267.9 112.8 L269.4 112.8 L270.9 112.7 L272.4 112.7 L273.9 112.8 L275.4 112.9 L276.9 113.1 L278.4 113.4 L279.9 113.7 L281.4 114.1 L282.9 114.5 L284.4 114.9 L285.9 115.4 L287.4 115.9 L288.9 116.5 L290.4 117.0 L291.9 117.6 L293.4 118.2 L294.9 118.8 L296.4 119.5 L297.9 120.1 L299.4 120.7 L300.9 121.3 L302.4 121.9 L303.9 122.4 L305.4 123.0 L306.9 123.5 L308.4 124.0 L309.9 124.4 L311.4 124.8 L312.9 125.2 L314.4 125.5 L315.9 125.7 L317.4 126.0 L318.9 126.1 L320.4 126.2 L321.9 126.3 L323.4 126.4 L324.9 126.4 L326.4 126.4 L327.9 126.4 L329.4 126.4 L330.9 126.4 L332.4 126.3 L333.9 126.3 L335.4 126.2 L336.9 126.2 L338.4 126.2 L339.9 126.2 L341.4 126.2 L342.9 126.3 L344.4 126.3 L345.9 126.4 L347.4 126.6 L348.9 126.8 L350.4 127.0 L351.9 127.2 L353.4 127.5 L354.9 127.8 L356.4 128.2 L357.9 128.5 L359.4 128.9 L360.9 129.3 L362.4 129.6 L363.9 130.0 L365.4 130.4 L366.9 130.8 L368.4 131.2 L369.9 131.6 L371.4 132.0 L372.9 132.4 L374.4 132.7 L375.9 133.1 L377.4 133.4 L378.9 133.7 L380.4 133.9 L381.9 134.2 L383.4 134.4 L384.9 134.7 L386.4 134.9 L387.9 135.1 L389.4 135.2 L390.9 135.3 L392.4 135.3 L393.9 135.0 L395.4 134.5 L396.9 133.6 L398.4 132.4 L399.9 130.8 L401.4 129.0 L402.9 127.0 L404.4 124.7 L405.9 122.3 L407.4 119.8 L408.9 117.3 L410.4 114.7 L411.9 112.2 L413.4 109.7 L414.9 107.3 L416.4 105.1 L417.9 103.0 L419.4 101.0 L420.9 98.9 L422.4 96.9 L423.9 94.9 L425.4 92.9 L426.9 91.0 L428.4 89.2 L429.9 87.5 L431.4 85.9 L432.9 84.5 L434.4 83.2 L435.9 82.1 L437.4 81.2 L438.9 80.5 L440.4 80.0 L441.9 79.7 L443.4 79.5 L444.9 79.6 L446.4 79.9 L447.9 80.3 L449.4 80.9 L450.9 81.6 L452.4 82.5 L453.9 83.5 L455.4 84.7 L456.9 86.0 L458.4 87.3 L459.9 88.8 L461.4 90.3 L462.9 91.9 L464.4 93.4 L465.9 95.0 L467.4 96.6 L468.9 98.2 L470.4 99.7 L471.9 101.2 L473.4 102.6 L474.9 104.0 L476.4 105.3 L477.9 106.6 L479.4 108.0 L480.9 109.3 L482.4 110.7 L483.9 112.2 L485.4 113.7 L486.9 115.3 L488.4 117.0 L489.9 118.8 L491.4 120.6 L492.9 122.4 L494.4 124.3 L495.9 126.1 L497.4 128.0 L498.9 129.9 L500.4 131.8 L501.9 133.6 L503.4 135.5 L504.9 137.2 L506.4 139.0 L507.9 140.6 L509.4 142.2 L510.9 143.7 L512.4 145.1 L513.9 146.4 L515.4 147.5 L516.9 148.5 L518.4 149.2 L519.9 149.8 L521.4 150.1 L522.9 150.3 L524.4 150.2 L525.9 150.1 L527.4 149.8 L528.9 149.4 L530.4 149.0 L531.9 148.6 L533.4 148.2 L534.9 147.9 L536.4 147.6 L537.9 147.4 L539.4 147.3 L540.9 147.3 L542.4 147.3 L543.9 147.4 L545.4 147.5 L546.9 147.7 L548.4 147.9 L549.9 148.2 L551.4 148.5 L552.9 148.9 L554.4 149.3 L555.9 149.7 L557.4 150.2 L558.9 150.6 L560.4 151.1 L561.9 151.6 L563.4 152.2 L564.9 152.7 L566.4 153.2 L567.9 153.7 L569.4 154.3 L570.9 154.8 L572.4 155.3 L573.9 155.8 L575.4 156.3 L576.9 156.9 L578.4 157.4 L579.9 157.9 L581.4 158.4 L582.9 158.9 L584.4 159.4 L585.9 159.9 L587.4 160.4 L588.9 160.9 L590.4 161.3 L591.9 161.8 L593.4 162.3 L594.9 162.8 L596.4 163.2 L597.9 163.7 L599.4 164.2 L600.9 164.6 L602.4 165.1 L603.9 165.5 L605.4 166.0 L606.9 166.4 L608.4 166.8 L609.9 167.3 L611.4 167.7 L612.9 168.1 L614.4 168.6 L615.9 169.0 L617.4 169.4 L618.9 169.8 L620.4 170.2 L621.9 170.6 L623.4 171.0 L624.9 171.4 L626.4 171.8 L627.9 172.2 L629.4 172.6 L630.9 173.0 L632.4 173.3 L633.9 173.7 L635.4 174.1 L636.9 174.4 L638.4 174.8 L639.9 175.2 L641.4 175.5 L642.9 175.9 L644.4 176.2 L645.9 176.6 L647.4 176.9 L648.9 177.2 L650.4 177.6 L651.9 177.9 L653.4 178.2 L654.9 178.5 L656.4 178.8 L657.9 179.2 L659.4 179.5 L660.9 179.8 L662.4 180.1 L663.9 180.4 L665.4 180.7 L666.9 181.0 L668.4 181.2 L669.9 181.5 L671.4 181.8 L672.9 182.1 L674.4 182.3 L675.9 182.6 L677.4 182.9 L678.9 183.1 L680.4 183.4 L681.9 183.6 L683.4 183.9 L684.9 184.1 L686.4 184.4 L687.9 184.6 L689.4 184.8 L690.9 185.1 L692.4 185.3 L693.9 185.5 L695.4 185.7 L696.9 186.0 L698.4 186.2 L699.9 186.4 L701.4 186.6 L702.9 186.8 L704.4 187.0 L705.9 187.2 L707.4 187.3 L708.9 187.5 L710.4 187.7 L711.9 187.9 L713.4 188.1 L714.9 188.2 L716.4 188.4 L717.9 188.6 L719.4 188.7 L720.9 188.9 L722.4 189.0 L723.9 189.2 L725.4 189.3 L726.9 189.4 L728.4 189.6 L729.9 189.7 L731.4 189.8 L732.9 190.0 L734.4 190.1 L735.9 190.2 L737.4 190.3 L738.9 190.4 L740.4 190.5 L741.9 190.6 L743.4 190.7 L744.9 190.8 L746.4 190.9 L747.9 191.0 L749.4 191.1 L750.9 191.1 L752.4 191.2 L753.9 191.3 L755.4 191.3 L756.9 191.4 L758.4 191.5 L759.9 191.5 L761.4 191.6 L762.9 191.7 L764.4 191.7 L765.9 191.8 L767.4 191.9 L768.9 191.9 L770.4 192.0 L771.9 192.1 L773.4 192.1 L774.9 192.2 L776.4 192.3 L777.9 192.3 L779.4 192.4 L780.9 192.5 L782.4 192.6 L783.9 192.7 L785.4 192.8 L786.9 192.9 L788.4 193.0 L789.9 193.1 L791.4 193.2 L792.9 193.3 L794.4 193.4 L795.9 193.6 L797.4 193.7 L798.9 193.9 L800.4 194.0 L801.9 194.2 L803.4 194.3 L804.9 194.5 L806.4 194.7 L807.9 194.9 L809.4 195.1 L810.9 195.3 L812.4 195.6 L813.9 195.8 L815.4 196.1 L816.9 196.3 L818.4 196.6 L819.9 196.9 L821.4 197.2 L822.9 197.5 L824.4 197.8 L825.9 198.2 L827.4 198.5 L828.9 198.9 L830.4 199.3 L831.9 199.8 L833.4 200.2 L834.9 200.7 L836.4 201.2 L837.9 201.7 L839.4 202.2 L840.9 202.8 L842.4 203.4 L843.9 204.1 L845.4 204.7 L846.9 205.4 L848.4 206.1 L849.9 206.9 L851.4 207.7 L852.9 208.5 L854.4 209.4 L855.9 210.3 L857.4 211.2 L858.9 212.2 L860.4 213.2 L861.9 214.3 L863.4 215.4 L864.9 216.5 L866.4 217.7 L867.9 218.9 L869.4 220.2 L870.9 221.5 L872.4 222.9 L873.9 224.3 L875.4 225.8 L876.9 227.3 L878.4 228.9 L879.9 230.5 L881.4 232.2 L882.9 234.0 L884.4 235.8 L885.9 237.6 L887.4 239.5 L888.9 241.5 L890.4 243.5 L891.9 245.6 L893.4 247.7 L894.9 249.9 L896.4 252.2 L897.9 254.5 L899.4 256.9 L900.9 259.3 L902.4 261.8 L903.9 264.4 L905.4 267.0 L906.9 269.7 L908.4 272.5 L909.9 275.3 L911.4 278.1 L912.9 281.1 L914.4 284.1 L915.9 287.1 L917.4 290.2 L918.9 293.4 L920.4 296.7 L921.9 299.9 L923.4 303.1 L924.9 306.2 L926.4 309.1 L927.9 311.8 L929.3 314.1" stroke="#7300a0"/>
<path d="M144.6 78.0 L146.1 79.4 L147.6 80.7 L149.1 82.0 L150.6 83.1 L152.1 84.3 L153.6 85.4 L155.1 86.6 L156.6 87.8 L158.1 89.0 L159.6 90.4 L161.1 91.8 L162.6 93.4 L164.1 95.1 L165.6 97.0 L167.1 98.9 L168.6 100.8 L170.1 102.8 L171.6 104.7 L173.1 106.5 L174.6 108.2 L176.1 109.8 L177.6 111.2 L179.1 112.3 L180.6 113.2 L182.1 113.8 L183.6 114.1 L185.1 114.1 L186.6 113.8 L188.1 113.1 L189.6 112.2 L191.1 111.0 L192.6 109.8 L194.1 108.6 L195.6 107.3 L197.1 106.1 L198.6 104.9 L200.1 103.8 L201.6 102.7 L203.1 101.7 L204.6 100.7 L206.1 99.8 L207.6 98.9 L209.1 98.1 L210.6 97.3 L212.1 96.6 L213.6 95.9 L215.1 95.4 L216.6 94.8 L218.1 94.4 L219.6 94.1 L221.1 93.8 L222.6 93.7 L224.1 93.6 L225.6 93.7 L227.1 93.9 L228.6 94.3 L230.1 94.7 L231.6 95.4 L233.1 96.1 L234.6 97.0 L236.1 97.9 L237.6 99.0 L239.1 100.1 L240.6 101.3 L242.1 102.6 L243.6 103.9 L245.1 105.2 L246.6 106.5 L248.1 107.8 L249.6 109.2 L251.1 110.5 L252.6 111.8 L254.1 113.1 L255.6 114.3 L257.1 115.6 L258.6 116.8 L260.1 117.9 L261.6 119.1 L263.1 120.1 L264.6 121.1 L266.1 122.1 L267.6 123.0 L269.1 123.8 L270.6 124.6 L272.1 125.3 L273.6 126.0 L275.1 126.6 L276.6 127.3 L278.1 128.0 L279.6 128.6 L281.1 129.3 L282.6 130.0 L284.1 130.6 L285.6 131.3 L287.1 131.8 L288.6 132.4 L290.1 132.9 L291.6 133.3 L293.1 133.7 L294.6 134.0 L296.1 134.2 L297.6 134.4 L299.1 134.4 L300.6 134.3 L302.1 134.2 L303.6 133.9 L305.1 133.6 L306.6 133.2 L308.1 132.8 L309.6 132.4 L311.1 131.9 L312.6 131.4 L314.1 130.9 L315.6 130.4 L317.1 130.0 L318.6 129.5 L320.1 129.1 L321.6 128.8 L323.1 128.5 L324.6 128.2 L326.1 128.0 L327.6 127.8 L329.1 127.6 L330.6 127.5 L332.1 127.4 L333.6 127.4 L335.1 127.3 L336.6 127.4 L338.1 127.4 L339.6 127.5 L341.1 127.5 L342.6 127.7 L344.1 127.8 L345.6 128.0 L347.1 128.1 L348.6 128.3 L350.1 128.5 L351.6 128.8 L353.1 129.0 L354.6 129.2 L356.1 129.5 L357.6 129.8 L359.1 130.1 L360.6 130.4 L362.1 130.7 L363.6 131.0 L365.1 131.4 L366.6 131.7 L368.1 132.0 L369.6 132.4 L371.1 132.8 L372.6 133.1 L374.1 133.5 L375.6 133.9 L377.1 134.2 L378.6 134.6 L380.1 134.9 L381.6 135.1 L383.1 135.3 L384.6 135.4 L386.1 135.4 L387.6 135.3 L389.1 135.0 L390.6 134.6 L392.1 134.1 L393.6 133.4 L395.1 132.5 L396.6 131.4 L398.1 130.1 L399.6 128.6 L401.1 126.9 L402.6 125.1 L404.1 123.1 L405.6 120.9 L407.1 118.7 L408.6 116.3 L410.1 113.9 L411.6 111.4 L413.1 108.8 L414.6 106.2 L416.1 103.6 L417.6 101.0 L419.1 98.5 L420.6 96.1 L422.1 93.9 L423.6 91.9 L425.1 90.0 L426.6 88.3 L428.1 86.8 L429.6 85.4 L431.1 84.2 L432.6 83.1 L434.1 82.2 L435.6 81.4 L437.1 80.7 L438.6 80.2 L440.1 79.8 L441.6 79.6 L443.1 79.4 L444.6 79.4 L446.1 79.5 L447.6 79.7 L449.1 80.1 L450.6 80.5 L452.1 81.0 L453.6 81.7 L455.1 82.4 L456.6 83.3 L458.1 84.2 L459.6 85.2 L461.1 86.3 L462.6 87.5 L464.1 88.8 L465.6 90.1 L467.1 91.6 L468.6 93.0 L470.1 94.6 L471.6 96.2 L473.1 97.9 L474.6 99.6 L476.1 101.4 L477.6 103.2 L479.1 105.1 L480.6 107.0 L482.1 108.9 L483.6 110.8 L485.1 112.7 L486.6 114.6 L488.1 116.5 L489.6 118.4 L491.1 120.2 L492.6 122.1 L494.1 123.9 L495.6 125.6 L497.1 127.3 L498.6 129.0 L500.1 130.5 L501.6 132.0 L503.1 133.4 L504.6 134.8 L506.1 136.0 L507.6 137.1 L509.1 138.1 L510.6 139.1 L512.1 139.9 L513.6 140.6 L515.1 141.2 L516.6 141.7 L518.1 142.1 L519.6 142.4 L521.1 142.6 L522.6 142.7 L524.1 142.8 L525.6 142.7 L527.1 142.6 L528.6 142.4 L530.1 142.2 L531.6 141.8 L533.1 141.4 L534.6 141.0 L536.1 140.5 L537.6 140.1 L539.1 139.7 L540.6 139.4 L542.1 139.2 L543.6 139.1 L545.1 139.3 L546.6 139.6 L548.1 140.0 L549.6 140.5 L551.1 141.1 L552.6 141.7 L554.1 142.3 L555.6 142.9 L557.1 143.5 L558.6 144.1 L560.1 144.7 L561.6 145.3 L563.1 145.9 L564.6 146.5 L566.1 147.1 L567.6 147.7 L569.1 148.3 L570.6 148.8 L572.1 149.4 L573.6 149.9 L575.1 150.5 L576.6 151.0 L578.1 151.5 L579.6 152.0 L581.1 152.5 L582.6 152.9 L584.1 153.4 L585.6 153.8 L587.1 154.3 L588.6 154.7 L590.1 155.1 L591.6 155.5 L593.1 155.9 L594.6 156.2 L596.1 156.6 L597.6 157.0 L599.1 157.3 L600.6 157.7 L602.1 158.0 L603.6 158.3 L605.1 158.7 L606.6 159.0 L608.1 159.3 L609.6 159.7 L611.1 160.0 L612.6 160.3 L614.1 160.6 L615.6 160.9 L617.1 161.2 L618.6 161.5 L620.1 161.8 L621.6 162.1 L623.1 162.4 L624.6 162.7 L626.1 163.0 L627.6 163.3 L629.1 163.6 L630.6 163.9 L632.1 164.1 L633.6 164.4 L635.1 164.7 L636.6 165.0 L638.1 165.2 L639.6 165.5 L641.1 165.8 L642.6 166.0 L644.1 166.3 L645.6 166.5 L647.1 166.8 L648.6 167.0 L650.1 167.3 L651.6 167.5 L653.1 167.8 L654.6 168.0 L656.1 168.2 L657.6 168.5 L659.1 168.7 L660.6 168.9 L662.1 169.1 L663.6 169.4 L665.1 169.6 L666.6 169.8 L668.1 170.0 L669.6 170.2 L671.1 170.4 L672.6 170.6 L674.1 170.8 L675.6 171.0 L677.1 171.2 L678.6 171.4 L680.1 171.6 L681.6 171.8 L683.1 172.0 L684.6 172.2 L686.1 172.4 L687.6 172.6 L689.1 172.7 L690.6 172.9 L692.1 173.1 L693.6 173.3 L695.1 173.4 L696.6 173.6 L698.1 173.8 L699.6 173.9 L701.1 174.1 L702.6 174.2 L704.1 174.4 L705.6 174.5 L707.1 174.7 L708.6 174.8 L710.1 175.0 L711.6 175.1 L713.1 175.3 L714.6 175.4 L716.1 175.5 L717.6 175.7 L719.1 175.8 L720.6 175.9 L722.1 176.1 L723.6 176.2 L725.1 176.3 L726.6 176.4 L728.1 176.5 L729.6 176.7 L731.1 176.8 L732.6 176.9 L734.1 177.0 L735.6 177.1 L737.1 177.2 L738.6 177.3 L740.1 177.4 L741.6 177.5 L743.1 177.6 L744.6 177.7 L746.1 177.8 L747.6 177.9 L749.1 178.0 L750.6 178.1 L752.1 178.1 L753.6 178.2 L755.1 178.3 L756.6 178.4 L758.1 178.5 L759.6 178.5 L761.1 178.6 L762.6 178.7 L764.1 178.7 L765.6 178.8 L767.1 178.9 L768.6 178.9 L770.1 179.0 L771.6 179.1 L773.1 179.1 L774.6 179.2 L776.1 179.2 L777.6 179.3 L779.1 179.3 L780.6 179.4 L782.1 179.4 L783.6 179.5 L785.1 179.5 L786.6 179.5 L788.1 179.6 L789.6 179.6 L791.1 179.6 L792.6 179.7 L794.1 179.7 L795.6 179.8 L797.1 179.8 L798.6 179.8 L800.1 179.9 L801.6 179.9 L803.1 180.0 L804.6 180.1 L806.1 180.2 L807.6 180.3 L809.1 180.4 L810.6 180.5 L812.1 180.7 L813.6 180.8 L815.1 181.0 L816.6 181.2 L818.1 181.5 L819.6 181.7 L821.1 182.0 L822.6 182.3 L824.1 182.6 L825.6 183.0 L827.1 183.4 L828.6 183.8 L830.1 184.3 L831.6 184.8 L833.1 185.3 L834.6 185.9 L836.1 186.5 L837.6 187.1 L839.1 187.8 L840.6 188.5 L842.1 189.3 L843.6 190.1 L845.1 190.9 L846.6 191.8 L848.1 192.7 L849.6 193.6 L851.1 194.6 L852.6 195.6 L854.1 196.7 L855.6 197.8 L857.1 198.9 L858.6 200.1 L860.1 201.3 L861.6 202.5 L863.1 203.8 L864.6 205.1 L866.1 206.5 L867.6 207.9 L869.1 209.3 L870.6 210.8 L872.1 212.3 L873.6 213.8 L875.1 215.4 L876.6 217.0 L878.1 218.7 L879.6 220.4 L881.1 222.1 L882.6 223.9 L884.1 225.7 L885.6 227.5 L887.1 229.4 L888.6 231.3 L890.1 233.3 L891.6 235.2 L893.1 237.3 L894.6 239.3 L896.1 241.4 L897.6 243.6 L899.1 245.8 L900.6 248.0 L902.1 250.2 L903.6 252.5 L905.1 254.9 L906.6 257.3 L908.1 259.8 L909.6 262.4 L911.1 265.1 L912.6 267.8 L914.1 270.6 L915.6 273.6 L917.1 276.6 L918.6 279.8 L920.1 283.0 L921.6 286.4 L923.1 289.7 L924.6 292.9 L926.1 295.9 L927.6 298.7 L929.1 301.3 L929.3 301.6" stroke="#70b400"/>
<path d="M144.9 92.0 L146.4 92.7 L147.9 93.4 L149.4 94.2 L150.9 95.0 L152.4 96.0 L153.9 96.9 L155.4 97.9 L156.9 98.8 L158.4 99.8 L159.9 100.8 L161.4 101.8 L162.9 102.7 L164.4 103.6 L165.9 104.4 L167.4 105.1 L168.9 105.8 L170.4 106.4 L171.9 106.9 L173.4 107.3 L174.9 107.5 L176.4 107.6 L177.9 107.6 L179.4 107.4 L180.9 107.0 L182.4 106.5 L183.9 105.8 L185.4 104.8 L186.9 103.7 L188.4 102.3 L189.9 100.8 L191.4 99.1 L192.9 97.4 L194.4 95.7 L195.9 94.0 L197.4 92.4 L198.9 90.8 L200.4 89.2 L201.9 87.7 L203.4 86.3 L204.9 85.1 L206.4 83.9 L207.9 82.8 L209.4 81.9 L210.9 81.0 L212.4 80.3 L213.9 79.6 L215.4 79.1 L216.9 78.8 L218.4 78.5 L219.9 78.4 L221.4 78.3 L222.9 78.4 L224.4 78.7 L225.9 79.1 L227.4 79.6 L228.9 80.2 L230.4 81.0 L231.9 81.9 L233.4 83.0 L234.9 84.2 L236.4 85.5 L237.9 86.9 L239.4 88.5 L240.9 90.1 L242.4 91.8 L243.9 93.5 L245.4 95.3 L246.9 97.2 L248.4 99.1 L249.9 101.0 L251.4 102.9 L252.9 104.7 L254.4 106.6 L255.9 108.4 L257.4 110.2 L258.9 111.9 L260.4 113.6 L261.9 115.2 L263.4 116.7 L264.9 118.0 L266.4 119.3 L267.9 120.5 L269.4 121.7 L270.9 122.7 L272.4 123.7 L273.9 124.6 L275.4 125.4 L276.9 126.1 L278.4 126.7 L279.9 127.3 L281.4 127.8 L282.9 128.3 L284.4 128.7 L285.9 129.0 L287.4 129.3 L288.9 129.5 L290.4 129.6 L291.9 129.7 L293.4 129.8 L294.9 129.7 L296.4 129.7 L297.9 129.6 L299.4 129.4 L300.9 129.3 L302.4 129.0 L303.9 128.8 L305.4 128.5 L306.9 128.1 L308.4 127.8 L309.9 127.4 L311.4 127.0 L312.9 126.6 L314.4 126.2 L315.9 125.8 L317.4 125.4 L318.9 125.0 L320.4 124.6 L321.9 124.2 L323.4 123.9 L324.9 123.6 L326.4 123.3 L327.9 123.1 L329.4 122.9 L330.9 122.7 L332.4 122.6 L333.9 122.5 L335.4 122.5 L336.9 122.5 L338.4 122.6 L339.9 122.7 L341.4 122.8 L342.9 122.9 L344.4 123.1 L345.9 123.3 L347.4 123.6 L348.9 123.8 L350.4 124.1 L351.9 124.4 L353.4 124.8 L354.9 125.1 L356.4 125.5 L357.9 125.8 L359.4 126.2 L360.9 126.6 L362.4 127.0 L363.9 127.4 L365.4 127.8 L366.9 128.3 L368.4 128.7 L369.9 129.1 L371.4 129.5 L372.9 129.9 L374.4 130.3 L375.9 130.7 L377.4 131.1 L378.9 131.4 L380.4 131.7 L381.9 131.9 L383.4 132.1 L384.9 132.3 L386.4 132.3 L387.9 132.3 L389.4 132.2 L390.9 132.0 L392.4 131.7 L393.9 131.2 L395.4 130.6 L396.9 129.9 L398.4 129.1 L399.9 128.1 L401.4 126.9 L402.9 125.5 L404.4 124.0 L405.9 122.3 L407.4 120.3 L408.9 118.3 L410.4 116.1 L411.9 113.8 L413.4 111.4 L414.9 109.1 L416.4 106.7 L417.9 104.4 L419.4 102.1 L420.9 100.0 L422.4 98.0 L423.9 96.1 L425.4 94.3 L426.9 92.7 L428.4 91.2 L429.9 89.8 L431.4 88.6 L432.9 87.4 L434.4 86.5 L435.9 85.6 L437.4 84.9 L438.9 84.3 L440.4 83.8 L441.9 83.4 L443.4 83.2 L444.9 83.2 L446.4 83.2 L447.9 83.4 L449.4 83.7 L450.9 84.1 L452.4 84.7 L453.9 85.3 L455.4 86.1 L456.9 86.9 L458.4 87.9 L459.9 88.9 L461.4 90.0 L462.9 91.2 L464.4 92.5 L465.9 93.9 L467.4 95.3 L468.9 96.8 L470.4 98.3 L471.9 99.9 L473.4 101.5 L474.9 103.2 L476.4 105.0 L477.9 106.7 L479.4 108.5 L480.9 110.3 L482.4 112.2 L483.9 114.0 L485.4 115.9 L486.9 117.7 L488.4 119.6 L489.9 121.4 L491.4 123.2 L492.9 125.0 L494.4 126.8 L495.9 128.4 L497.4 130.1 L498.9 131.6 L500.4 133.1 L501.9 134.5 L503.4 135.7 L504.9 136.9 L506.4 138.0 L507.9 138.9 L509.4 139.7 L510.9 140.4 L512.4 140.9 L513.9 141.3 L515.4 141.7 L516.9 141.9 L518.4 142.1 L519.9 142.2 L521.4 142.2 L522.9 142.2 L524.4 142.1 L525.9 142.0 L527.4 141.9 L528.9 141.7 L530.4 141.6 L531.9 141.4 L533.4 141.3 L534.9 141.2 L536.4 141.1 L537.9 141.0 L539.4 141.0 L540.9 141.0 L542.4 141.1 L543.9 141.2 L545.4 141.4 L546.9 141.6 L548.4 141.8 L549.9 142.1 L551.4 142.4 L552.9 142.7 L554.4 143.1 L555.9 143.5 L557.4 143.9 L558.9 144.3 L560.4 144.7 L561.9 145.2 L563.4 145.6 L564.9 146.1 L566.4 146.6 L567.9 147.1 L569.4 147.6 L570.9 148.1 L572.4 148.6 L573.9 149.1 L575.4 149.6 L576.9 150.1 L578.4 150.5 L579.9 151.0 L581.4 151.5 L582.9 151.9 L584.4 152.3 L585.9 152.7 L587.4 153.1 L588.9 153.5 L590.4 153.8 L591.9 154.2 L593.4 154.5 L594.9 154.8 L596.4 155.1 L597.9 155.4 L599.4 155.7 L600.9 156.0 L602.4 156.2 L603.9 156.5 L605.4 156.7 L606.9 157.0 L608.4 157.2 L609.9 157.4 L611.4 157.6 L612.9 157.8 L614.4 158.0 L615.9 158.2 L617.4 158.3 L618.9 158.5 L620.4 158.7 L621.9 158.9 L623.4 159.0 L624.9 159.2 L626.4 159.3 L627.9 159.5 L629.4 159.6 L630.9 159.8 L632.4 159.9 L633.9 160.1 L635.4 160.2 L636.9 160.4 L638.4 160.5 L639.9 160.7 L641.4 160.9 L642.9 161.0 L644.4 161.2 L645.9 161.3 L647.4 161.5 L648.9 161.6 L650.4 161.8 L651.9 161.9 L653.4 162.1 L654.9 162.3 L656.4 162.4 L657.9 162.6 L659.4 162.7 L660.9 162.9 L662.4 163.1 L663.9 163.2 L665.4 163.4 L666.9 163.5 L668.4 163.7 L669.9 163.9 L671.4 164.0 L672.9 164.2 L674.4 164.3 L675.9 164.5 L677.4 164.7 L678.9 164.8 L680.4 165.0 L681.9 165.1 L683.4 165.3 L684.9 165.4 L686.4 165.6 L687.9 165.8 L689.4 165.9 L690.9 166.1 L692.4 166.2 L693.9 166.4 L695.4 166.5 L696.9 166.7 L698.4 166.8 L699.9 167.0 L701.4 167.1 L702.9 167.2 L704.4 167.4 L705.9 167.5 L707.4 167.7 L708.9 167.8 L710.4 168.0 L711.9 168.1 L713.4 168.2 L714.9 168.4 L716.4 168.5 L717.9 168.6 L719.4 168.7 L720.9 168.9 L722.4 169.0 L723.9 169.1 L725.4 169.2 L726.9 169.4 L728.4 169.5 L729.9 169.6 L731.4 169.7 L732.9 169.8 L734.4 169.9 L735.9 170.0 L737.4 170.1 L738.9 170.2 L740.4 170.3 L741.9 170.4 L743.4 170.5 L744.9 170.6 L746.4 170.7 L747.9 170.8 L749.4 170.9 L750.9 171.0 L752.4 171.1 L753.9 171.1 L755.4 171.2 L756.9 171.3 L758.4 171.4 L759.9 171.4 L761.4 171.5 L762.9 171.6 L764.4 171.6 L765.9 171.7 L767.4 171.8 L768.9 171.9 L770.4 171.9 L771.9 172.0 L773.4 172.1 L774.9 172.1 L776.4 172.2 L777.9 172.3 L779.4 172.4 L780.9 172.5 L782.4 172.5 L783.9 172.6 L785.4 172.7 L786.9 172.8 L788.4 172.9 L789.9 173.0 L791.4 173.1 L792.9 173.2 L794.4 173.3 L795.9 173.4 L797.4 173.5 L798.9 173.7 L800.4 173.8 L801.9 173.9 L803.4 174.1 L804.9 174.2 L806.4 174.4 L807.9 174.5 L809.4 174.7 L810.9 174.8 L812.4 175.0 L813.9 175.2 L815.4 175.4 L816.9 175.6 L818.4 175.8 L819.9 176.0 L821.4 176.2 L822.9 176.5 L824.4 176.7 L825.9 177.0 L827.4 177.3 L828.9 177.6 L830.4 178.0 L831.9 178.4 L833.4 178.8 L834.9 179.2 L836.4 179.7 L837.9 180.3 L839.4 180.8 L840.9 181.4 L842.4 182.1 L843.9 182.8 L845.4 183.5 L846.9 184.3 L848.4 185.2 L849.9 186.1 L851.4 187.1 L852.9 188.1 L854.4 189.2 L855.9 190.4 L857.4 191.6 L858.9 192.8 L860.4 194.1 L861.9 195.4 L863.4 196.8 L864.9 198.2 L866.4 199.7 L867.9 201.2 L869.4 202.8 L870.9 204.3 L872.4 205.9 L873.9 207.6 L875.4 209.2 L876.9 210.9 L878.4 212.7 L879.9 214.4 L881.4 216.2 L882.9 218.0 L884.4 219.8 L885.9 221.6 L887.4 223.4 L888.9 225.3 L890.4 227.2 L891.9 229.2 L893.4 231.1 L894.9 233.1 L896.4 235.2 L897.9 237.3 L899.4 239.4 L900.9 241.6 L902.4 243.8 L903.9 246.1 L905.4 248.4 L906.9 250.8 L908.4 253.2 L909.9 255.7 L911.4 258.3 L912.9 260.9 L914.4 263.6 L915.9 266.3 L917.4 269.2 L918.9 272.1 L920.4 275.1 L921.9 278.1 L923.4 281.3 L924.9 284.5 L926.4 287.8 L927.9 291.2 L929.3 294.5" stroke="#62b9e0"/>
<path d="M144.9 86.8 L146.4 87.9 L147.9 89.0 L149.4 90.1 L150.9 91.2 L152.4 92.3 L153.9 93.5 L155.4 94.7 L156.9 95.9 L158.4 97.2 L159.9 98.5 L161.4 99.8 L162.9 101.2 L164.4 102.7 L165.9 104.2 L167.4 105.6 L168.9 107.0 L170.4 108.3 L171.9 109.4 L173.4 110.4 L174.9 111.1 L176.4 111.5 L177.9 111.7 L179.4 111.5 L180.9 110.9 L182.4 110.0 L183.9 108.9 L185.4 107.5 L186.9 105.9 L188.4 104.1 L189.9 102.2 L191.4 100.1 L192.9 98.0 L194.4 95.9 L195.9 93.7 L197.4 91.5 L198.9 89.4 L200.4 87.4 L201.9 85.5 L203.4 83.8 L204.9 82.3 L206.4 80.9 L207.9 79.6 L209.4 78.6 L210.9 77.7 L212.4 76.9 L213.9 76.3 L215.4 75.9 L216.9 75.5 L218.4 75.4 L219.9 75.3 L221.4 75.4 L222.9 75.6 L224.4 75.9 L225.9 76.3 L227.4 76.9 L228.9 77.5 L230.4 78.3 L231.9 79.1 L233.4 80.1 L234.9 81.1 L236.4 82.2 L237.9 83.4 L239.4 84.6 L240.9 85.9 L242.4 87.2 L243.9 88.6 L245.4 89.9 L246.9 91.3 L248.4 92.6 L249.9 93.9 L251.4 95.2 L252.9 96.5 L254.4 97.7 L255.9 98.8 L257.4 99.9 L258.9 100.9 L260.4 101.8 L261.9 102.5 L263.4 103.2 L264.9 103.8 L266.4 104.3 L267.9 104.7 L269.4 105.0 L270.9 105.3 L272.4 105.6 L273.9 105.8 L275.4 106.0 L276.9 106.2 L278.4 106.5 L279.9 106.7 L281.4 107.0 L282.9 107.3 L284.4 107.7 L285.9 108.2 L287.4 108.7 L288.9 109.2 L290.4 109.8 L291.9 110.5 L293.4 111.1 L294.9 111.8 L296.4 112.5 L297.9 113.1 L299.4 113.8 L300.9 114.5 L302.4 115.2 L303.9 115.9 L305.4 116.6 L306.9 117.2 L308.4 117.9 L309.9 118.5 L311.4 119.1 L312.9 119.6 L314.4 120.2 L315.9 120.7 L317.4 121.3 L318.9 121.8 L320.4 122.3 L321.9 122.7 L323.4 123.2 L324.9 123.7 L326.4 124.1 L327.9 124.5 L329.4 124.9 L330.9 125.3 L332.4 125.7 L333.9 126.1 L335.4 126.4 L336.9 126.8 L338.4 127.1 L339.9 127.4 L341.4 127.8 L342.9 128.1 L344.4 128.4 L345.9 128.7 L347.4 129.0 L348.9 129.3 L350.4 129.6 L351.9 129.9 L353.4 130.2 L354.9 130.5 L356.4 130.8 L357.9 131.1 L359.4 131.4 L360.9 131.7 L362.4 132.0 L363.9 132.4 L365.4 132.7 L366.9 133.0 L368.4 133.4 L369.9 133.7 L371.4 134.1 L372.9 134.5 L374.4 134.8 L375.9 135.2 L377.4 135.6 L378.9 136.0 L380.4 136.4 L381.9 136.7 L383.4 137.0 L384.9 137.3 L386.4 137.5 L387.9 137.6 L389.4 137.7 L390.9 137.6 L392.4 137.5 L393.9 137.2 L395.4 136.8 L396.9 136.4 L398.4 135.7 L399.9 134.9 L401.4 134.0 L402.9 132.9 L404.4 131.6 L405.9 130.1 L407.4 128.5 L408.9 126.6 L410.4 124.7 L411.9 122.7 L413.4 120.6 L414.9 118.5 L416.4 116.3 L417.9 114.3 L419.4 112.3 L420.9 110.4 L422.4 108.6 L423.9 106.9 L425.4 105.4 L426.9 104.0 L428.4 102.7 L429.9 101.5 L431.4 100.4 L432.9 99.4 L434.4 98.5 L435.9 97.8 L437.4 97.1 L438.9 96.6 L440.4 96.1 L441.9 95.8 L443.4 95.6 L444.9 95.5 L446.4 95.5 L447.9 95.5 L449.4 95.7 L450.9 96.0 L452.4 96.4 L453.9 96.8 L455.4 97.4 L456.9 98.0 L458.4 98.7 L459.9 99.4 L461.4 100.3 L462.9 101.2 L464.4 102.2 L465.9 103.2 L467.4 104.3 L468.9 105.4 L470.4 106.6 L471.9 107.9 L473.4 109.2 L474.9 110.5 L476.4 111.9 L477.9 113.3 L479.4 114.8 L480.9 116.2 L482.4 117.7 L483.9 119.3 L485.4 120.8 L486.9 122.4 L488.4 123.9 L489.9 125.5 L491.4 127.0 L492.9 128.6 L494.4 130.1 L495.9 131.5 L497.4 133.0 L498.9 134.4 L500.4 135.7 L501.9 136.9 L503.4 138.1 L504.9 139.3 L506.4 140.3 L507.9 141.2 L509.4 142.1 L510.9 142.8 L512.4 143.5 L513.9 144.1 L515.4 144.5 L516.9 145.0 L518.4 145.3 L519.9 145.6 L521.4 145.8 L522.9 146.0 L524.4 146.2 L525.9 146.3 L527.4 146.3 L528.9 146.3 L530.4 146.4 L531.9 146.3 L533.4 146.3 L534.9 146.3 L536.4 146.3 L537.9 146.2 L539.4 146.2 L540.9 146.2 L542.4 146.2 L543.9 146.3 L545.4 146.3 L546.9 146.4 L548.4 146.4 L549.9 146.5 L551.4 146.6 L552.9 146.7 L554.4 146.9 L555.9 147.0 L557.4 147.1 L558.9 147.3 L560.4 147.4 L561.9 147.6 L563.4 147.8 L564.9 148.0 L566.4 148.2 L567.9 148.4 L569.4 148.6 L570.9 148.8 L572.4 149.0 L573.9 149.2 L575.4 149.4 L576.9 149.6 L578.4 149.9 L579.9 150.1 L581.4 150.3 L582.9 150.5 L584.4 150.7 L585.9 150.9 L587.4 151.2 L588.9 151.4 L590.4 151.6 L591.9 151.8 L593.4 152.0 L594.9 152.2 L596.4 152.4 L597.9 152.6 L599.4 152.8 L600.9 153.0 L602.4 153.2 L603.9 153.4 L605.4 153.6 L606.9 153.8 L608.4 154.0 L609.9 154.1 L611.4 154.3 L612.9 154.5 L614.4 154.7 L615.9 154.9 L617.4 155.1 L618.9 155.3 L620.4 155.4 L621.9 155.6 L623.4 155.8 L624.9 156.0 L626.4 156.2 L627.9 156.3 L629.4 156.5 L630.9 156.7 L632.4 156.8 L633.9 157.0 L635.4 157.2 L636.9 157.4 L638.4 157.5 L639.9 157.7 L641.4 157.9 L642.9 158.0 L644.4 158.2 L645.9 158.4 L647.4 158.5 L648.9 158.7 L650.4 158.8 L651.9 159.0 L653.4 159.2 L654.9 159.3 L656.4 159.5 L657.9 159.6 L659.4 159.8 L660.9 159.9 L662.4 160.1 L663.9 160.3 L665.4 160.4 L666.9 160.6 L668.4 160.7 L669.9 160.9 L671.4 161.0 L672.9 161.2 L674.4 161.3 L675.9 161.5 L677.4 161.6 L678.9 161.8 L680.4 161.9 L681.9 162.0 L683.4 162.2 L684.9 162.3 L686.4 162.5 L687.9 162.6 L689.4 162.8 L690.9 162.9 L692.4 163.1 L693.9 163.2 L695.4 163.4 L696.9 163.5 L698.4 163.6 L699.9 163.8 L701.4 163.9 L702.9 164.1 L704.4 164.2 L705.9 164.3 L707.4 164.5 L708.9 164.6 L710.4 164.8 L711.9 164.9 L713.4 165.1 L714.9 165.2 L716.4 165.3 L717.9 165.5 L719.4 165.6 L720.9 165.8 L722.4 165.9 L723.9 166.0 L725.4 166.2 L726.9 166.3 L728.4 166.5 L729.9 166.6 L731.4 166.7 L732.9 166.9 L734.4 167.0 L735.9 167.2 L737.4 167.3 L738.9 167.5 L740.4 167.6 L741.9 167.7 L743.4 167.9 L744.9 168.0 L746.4 168.2 L747.9 168.3 L749.4 168.4 L750.9 168.6 L752.4 168.7 L753.9 168.9 L755.4 169.0 L756.9 169.2 L758.4 169.3 L759.9 169.4 L761.4 169.6 L762.9 169.7 L764.4 169.9 L765.9 170.0 L767.4 170.1 L768.9 170.2 L770.4 170.4 L771.9 170.5 L773.4 170.6 L774.9 170.7 L776.4 170.8 L777.9 171.0 L779.4 171.1 L780.9 171.2 L782.4 171.3 L783.9 171.3 L785.4 171.4 L786.9 171.5 L788.4 171.6 L789.9 171.7 L791.4 171.7 L792.9 171.8 L794.4 171.9 L795.9 171.9 L797.4 171.9 L798.9 172.0 L800.4 172.0 L801.9 172.0 L803.4 172.1 L804.9 172.1 L806.4 172.1 L807.9 172.1 L809.4 172.2 L810.9 172.3 L812.4 172.3 L813.9 172.4 L815.4 172.6 L816.9 172.7 L818.4 172.9 L819.9 173.2 L821.4 173.4 L822.9 173.7 L824.4 174.0 L825.9 174.4 L827.4 174.8 L828.9 175.2 L830.4 175.7 L831.9 176.2 L833.4 176.7 L834.9 177.3 L836.4 177.9 L837.9 178.5 L839.4 179.2 L840.9 179.9 L842.4 180.7 L843.9 181.5 L845.4 182.3 L846.9 183.1 L848.4 184.0 L849.9 184.9 L851.4 185.9 L852.9 186.9 L854.4 187.9 L855.9 189.0 L857.4 190.1 L858.9 191.3 L860.4 192.4 L861.9 193.7 L863.4 194.9 L864.9 196.2 L866.4 197.5 L867.9 198.8 L869.4 200.2 L870.9 201.6 L872.4 203.1 L873.9 204.5 L875.4 206.1 L876.9 207.6 L878.4 209.2 L879.9 210.7 L881.4 212.4 L882.9 214.0 L884.4 215.7 L885.9 217.4 L887.4 219.2 L888.9 221.0 L890.4 222.8 L891.9 224.7 L893.4 226.6 L894.9 228.6 L896.4 230.6 L897.9 232.6 L899.4 234.8 L900.9 236.9 L902.4 239.2 L903.9 241.5 L905.4 243.8 L906.9 246.3 L908.4 248.8 L909.9 251.3 L911.4 254.0 L912.9 256.7 L914.4 259.5 L915.9 262.4 L917.4 265.4 L918.9 268.4 L920.4 271.6 L921.9 274.8 L923.4 278.1 L924.9 281.6 L926.4 285.1 L927.9 288.7 L929.3 292.2" stroke="#a00020"/>
<path d="M144.9 109.4 L146.4 109.5 L147.9 109.7 L149.4 109.9 L150.9 110.2 L152.4 110.5 L153.9 110.8 L155.4 111.2 L156.9 111.6 L158.4 112.0 L159.9 112.4 L161.4 112.8 L162.9 113.3 L164.4 113.7 L165.9 114.1 L167.4 114.4 L168.9 114.7 L170.4 114.8 L171.9 114.9 L173.4 114.8 L174.9 114.6 L176.4 114.2 L177.9 113.6 L179.4 112.7 L180.9 111.7 L182.4 110.4 L183.9 109.0 L185.4 107.4 L186.9 105.7 L188.4 103.9 L189.9 102.1 L191.4 100.1 L192.9 98.1 L194.4 96.1 L195.9 94.1 L197.4 92.1 L198.9 90.2 L200.4 88.4 L201.9 86.6 L203.4 85.0 L204.9 83.5 L206.4 82.2 L207.9 80.9 L209.4 79.8 L210.9 78.9 L212.4 78.1 L213.9 77.4 L215.4 76.8 L216.9 76.4 L218.4 76.1 L219.9 76.0 L221.4 76.0 L222.9 76.1 L224.4 76.3 L225.9 76.7 L227.4 77.2 L228.9 77.8 L230.4 78.6 L231.9 79.4 L233.4 80.5 L234.9 81.6 L236.4 82.8 L237.9 84.1 L239.4 85.5 L240.9 86.9 L242.4 88.3 L243.9 89.7 L245.4 91.1 L246.9 92.5 L248.4 93.9 L249.9 95.1 L251.4 96.3 L252.9 97.3 L254.4 98.3 L255.9 99.1 L257.4 99.7 L258.9 100.1 L260.4 100.5 L261.9 100.7 L263.4 100.8 L264.9 100.8 L266.4 100.8 L267.9 100.8 L269.4 100.7 L270.9 100.6 L272.4 100.6 L273.9 100.7 L275.4 100.8 L276.9 101.0 L278.4 101.3 L279.9 101.7 L281.4 102.3 L282.9 102.9 L284.4 103.7 L285.9 104.5 L287.4 105.4 L288.9 106.4 L290.4 107.3 L291.9 108.4 L293.4 109.5 L294.9 110.5 L296.4 111.6 L297.9 112.7 L299.4 113.8 L300.9 114.8 L302.4 115.8 L303.9 116.9 L305.4 117.8 L306.9 118.8 L308.4 119.8 L309.9 120.7 L311.4 121.6 L312.9 122.4 L314.4 123.3 L315.9 124.1 L317.4 124.9 L318.9 125.7 L320.4 126.4 L321.9 127.1 L323.4 127.8 L324.9 128.5 L326.4 129.1 L327.9 129.7 L329.4 130.3 L330.9 130.8 L332.4 131.3 L333.9 131.8 L335.4 132.3 L336.9 132.7 L338.4 133.1 L339.9 133.4 L341.4 133.8 L342.9 134.1 L344.4 134.3 L345.9 134.6 L347.4 134.8 L348.9 135.0 L350.4 135.1 L351.9 135.2 L353.4 135.3 L354.9 135.4 L356.4 135.5 L357.9 135.6 L359.4 135.7 L360.9 135.7 L362.4 135.8 L363.9 135.9 L365.4 135.9 L366.9 136.0 L368.4 136.1 L369.9 136.2 L371.4 136.4 L372.9 136.6 L374.4 136.8 L375.9 137.0 L377.4 137.2 L378.9 137.5 L380.4 137.7 L381.9 138.0 L383.4 138.2 L384.9 138.4 L386.4 138.6 L387.9 138.8 L389.4 138.9 L390.9 138.9 L392.4 138.9 L393.9 138.8 L395.4 138.7 L396.9 138.4 L398.4 138.1 L399.9 137.6 L401.4 137.0 L402.9 136.3 L404.4 135.5 L405.9 134.5 L407.4 133.4 L408.9 132.2 L410.4 130.9 L411.9 129.5 L413.4 128.0 L414.9 126.5 L416.4 125.0 L417.9 123.4 L419.4 121.9 L420.9 120.4 L422.4 119.0 L423.9 117.6 L425.4 116.2 L426.9 115.0 L428.4 113.8 L429.9 112.7 L431.4 111.6 L432.9 110.6 L434.4 109.8 L435.9 109.0 L437.4 108.3 L438.9 107.8 L440.4 107.3 L441.9 107.0 L443.4 106.8 L444.9 106.7 L446.4 106.8 L447.9 106.9 L449.4 107.2 L450.9 107.6 L452.4 108.2 L453.9 108.8 L455.4 109.5 L456.9 110.3 L458.4 111.2 L459.9 112.1 L461.4 113.1 L462.9 114.2 L464.4 115.3 L465.9 116.5 L467.4 117.7 L468.9 119.0 L470.4 120.3 L471.9 121.6 L473.4 122.9 L474.9 124.2 L476.4 125.6 L477.9 126.9 L479.4 128.2 L480.9 129.5 L482.4 130.7 L483.9 132.0 L485.4 133.2 L486.9 134.3 L488.4 135.4 L489.9 136.5 L491.4 137.5 L492.9 138.5 L494.4 139.5 L495.9 140.4 L497.4 141.2 L498.9 142.0 L500.4 142.8 L501.9 143.5 L503.4 144.2 L504.9 144.8 L506.4 145.4 L507.9 145.9 L509.4 146.4 L510.9 146.8 L512.4 147.2 L513.9 147.6 L515.4 147.9 L516.9 148.1 L518.4 148.4 L519.9 148.6 L521.4 148.8 L522.9 148.9 L524.4 149.0 L525.9 149.2 L527.4 149.2 L528.9 149.3 L530.4 149.4 L531.9 149.5 L533.4 149.5 L534.9 149.6 L536.4 149.7 L537.9 149.7 L539.4 149.8 L540.9 149.9 L542.4 149.9 L543.9 150.0 L545.4 150.1 L546.9 150.2 L548.4 150.4 L549.9 150.5 L551.4 150.6 L552.9 150.7 L554.4 150.8 L555.9 151.0 L557.4 151.1 L558.9 151.3 L560.4 151.4 L561.9 151.6 L563.4 151.7 L564.9 151.9 L566.4 152.0 L567.9 152.2 L569.4 152.3 L570.9 152.5 L572.4 152.7 L573.9 152.8 L575.4 153.0 L576.9 153.2 L578.4 153.3 L579.9 153.5 L581.4 153.7 L582.9 153.8 L584.4 154.0 L585.9 154.2 L587.4 154.3 L588.9 154.5 L590.4 154.7 L591.9 154.8 L593.4 155.0 L594.9 155.2 L596.4 155.3 L597.9 155.5 L599.4 155.6 L600.9 155.8 L602.4 155.9 L603.9 156.1 L605.4 156.3 L606.9 156.4 L608.4 156.6 L609.9 156.7 L611.4 156.9 L612.9 157.0 L614.4 157.2 L615.9 157.3 L617.4 157.5 L618.9 157.6 L620.4 157.8 L621.9 157.9 L623.4 158.1 L624.9 158.2 L626.4 158.4 L627.9 158.5 L629.4 158.7 L630.9 158.8 L632.4 158.9 L633.9 159.1 L635.4 159.2 L636.9 159.4 L638.4 159.5 L639.9 159.7 L641.4 159.8 L642.9 159.9 L644.4 160.1 L645.9 160.2 L647.4 160.3 L648.9 160.5 L650.4 160.6 L651.9 160.7 L653.4 160.9 L654.9 161.0 L656.4 161.1 L657.9 161.2 L659.4 161.4 L660.9 161.5 L662.4 161.6 L663.9 161.8 L665.4 161.9 L666.9 162.0 L668.4 162.1 L669.9 162.2 L671.4 162.4 L672.9 162.5 L674.4 162.6 L675.9 162.7 L677.4 162.8 L678.9 163.0 L680.4 163.1 L681.9 163.2 L683.4 163.3 L684.9 163.4 L686.4 163.5 L687.9 163.6 L689.4 163.7 L690.9 163.9 L692.4 164.0 L693.9 164.1 L695.4 164.2 L696.9 164.3 L698.4 164.4 L699.9 164.5 L701.4 164.6 L702.9 164.7 L704.4 164.8 L705.9 164.9 L707.4 165.0 L708.9 165.1 L710.4 165.2 L711.9 165.3 L713.4 165.4 L714.9 165.5 L716.4 165.6 L717.9 165.7 L719.4 165.8 L720.9 165.8 L722.4 165.9 L723.9 166.0 L725.4 166.1 L726.9 166.2 L728.4 166.3 L729.9 166.4 L731.4 166.4 L732.9 166.5 L734.4 166.6 L735.9 166.7 L737.4 166.8 L738.9 166.8 L740.4 166.9 L741.9 167.0 L743.4 167.1 L744.9 167.1 L746.4 167.2 L747.9 167.3 L749.4 167.4 L750.9 167.4 L752.4 167.5 L753.9 167.6 L755.4 167.6 L756.9 167.7 L758.4 167.8 L759.9 167.8 L761.4 167.9 L762.9 168.0 L764.4 168.0 L765.9 168.1 L767.4 168.2 L768.9 168.3 L770.4 168.3 L771.9 168.4 L773.4 168.5 L774.9 168.6 L776.4 168.7 L777.9 168.7 L779.4 168.8 L780.9 168.9 L782.4 169.0 L783.9 169.1 L785.4 169.2 L786.9 169.3 L788.4 169.4 L789.9 169.5 L791.4 169.6 L792.9 169.7 L794.4 169.9 L795.9 170.0 L797.4 170.1 L798.9 170.3 L800.4 170.4 L801.9 170.5 L803.4 170.7 L804.9 170.9 L806.4 171.0 L807.9 171.2 L809.4 171.4 L810.9 171.5 L812.4 171.7 L813.9 171.9 L815.4 172.1 L816.9 172.3 L818.4 172.5 L819.9 172.8 L821.4 173.0 L822.9 173.2 L824.4 173.5 L825.9 173.8 L827.4 174.1 L828.9 174.4 L830.4 174.8 L831.9 175.2 L833.4 175.6 L834.9 176.0 L836.4 176.5 L837.9 177.0 L839.4 177.5 L840.9 178.1 L842.4 178.8 L843.9 179.4 L845.4 180.2 L846.9 180.9 L848.4 181.7 L849.9 182.6 L851.4 183.6 L852.9 184.5 L854.4 185.6 L855.9 186.6 L857.4 187.8 L858.9 188.9 L860.4 190.2 L861.9 191.4 L863.4 192.7 L864.9 194.1 L866.4 195.4 L867.9 196.8 L869.4 198.3 L870.9 199.7 L872.4 201.2 L873.9 202.8 L875.4 204.3 L876.9 205.9 L878.4 207.5 L879.9 209.1 L881.4 210.8 L882.9 212.4 L884.4 214.1 L885.9 215.8 L887.4 217.5 L888.9 219.2 L890.4 221.0 L891.9 222.8 L893.4 224.7 L894.9 226.6 L896.4 228.5 L897.9 230.5 L899.4 232.5 L900.9 234.7 L902.4 236.8 L903.9 239.1 L905.4 241.4 L906.9 243.8 L908.4 246.2 L909.9 248.8 L911.4 251.4 L912.9 254.2 L914.4 257.0 L915.9 259.9 L917.4 262.9 L918.9 266.1 L920.4 269.3 L921.9 272.7 L923.4 276.1 L924.9 279.7 L926.4 283.5 L927.9 287.3 L929.3 291.0" stroke="#000000"/>
</g>
<g fill="none" stroke-width="2.75" stroke-linejoin="round" stroke-linecap="butt">
<path d="M1177.9 85.8 L1179.4 85.6 L1180.9 85.5 L1182.4 85.5 L1183.9 85.7 L1185.4 85.9 L1186.9 86.2 L1188.4 86.6 L1189.9 87.1 L1191.4 87.6 L1192.9 88.2 L1194.4 88.8 L1195.9 89.5 L1197.4 90.1 L1198.9 90.8 L1200.4 91.5 L1201.9 92.2 L1203.4 92.9 L1204.9 93.6 L1206.4 94.3 L1207.9 94.9 L1209.4 95.5 L1210.9 96.1 L1212.4 96.5 L1213.9 97.0 L1215.4 97.3 L1216.9 97.6 L1218.4 97.7 L1219.9 97.8 L1221.4 97.8 L1222.9 97.6 L1224.4 97.3 L1225.9 97.0 L1227.4 96.5 L1228.9 96.0 L1230.4 95.5 L1231.9 94.8 L1233.4 94.2 L1234.9 93.5 L1236.4 92.8 L1237.9 92.0 L1239.4 91.3 L1240.9 90.6 L1242.4 90.0 L1243.9 89.3 L1245.4 88.8 L1246.9 88.2 L1248.4 87.8 L1249.9 87.4 L1251.4 87.2 L1252.9 87.0 L1254.4 87.0 L1255.9 87.0 L1257.4 87.2 L1258.9 87.6 L1260.4 88.1 L1261.9 88.8 L1263.4 89.5 L1264.9 90.4 L1266.4 91.4 L1267.9 92.4 L1269.4 93.5 L1270.9 94.7 L1272.4 96.0 L1273.9 97.3 L1275.4 98.6 L1276.9 100.0 L1278.4 101.3 L1279.9 102.7 L1281.4 104.0 L1282.9 105.4 L1284.4 106.7 L1285.9 107.9 L1287.4 109.1 L1288.9 110.3 L1290.4 111.4 L1291.9 112.4 L1293.4 113.4 L1294.9 114.3 L1296.4 115.2 L1297.9 116.0 L1299.4 116.7 L1300.9 117.3 L1302.4 117.9 L1303.9 118.3 L1305.4 118.7 L1306.9 119.1 L1308.4 119.3 L1309.9 119.5 L1311.4 119.7 L1312.9 119.8 L1314.4 119.8 L1315.9 119.8 L1317.4 119.8 L1318.9 119.8 L1320.4 119.7 L1321.9 119.6 L1323.4 119.6 L1324.9 119.5 L1326.4 119.4 L1327.9 119.3 L1329.4 119.1 L1330.9 119.0 L1332.4 118.9 L1333.9 118.7 L1335.4 118.5 L1336.9 118.4 L1338.4 118.2 L1339.9 118.0 L1341.4 117.8 L1342.9 117.6 L1344.4 117.4 L1345.9 117.2 L1347.4 116.9 L1348.9 116.7 L1350.4 116.5 L1351.9 116.3 L1353.4 116.1 L1354.9 115.9 L1356.4 115.7 L1357.9 115.5 L1359.4 115.3 L1360.9 115.2 L1362.4 115.0 L1363.9 114.9 L1365.4 114.8 L1366.9 114.7 L1368.4 114.7 L1369.9 114.6 L1371.4 114.6 L1372.9 114.6 L1374.4 114.6 L1375.9 114.7 L1377.4 114.8 L1378.9 115.0 L1380.4 115.1 L1381.9 115.3 L1383.4 115.6 L1384.9 115.9 L1386.4 116.2 L1387.9 116.6 L1389.4 117.0 L1390.9 117.5 L1392.4 117.9 L1393.9 118.4 L1395.4 118.9 L1396.9 119.4 L1398.4 120.0 L1399.9 120.5 L1401.4 121.1 L1402.9 121.6 L1404.4 122.1 L1405.9 122.7 L1407.4 123.2 L1408.9 123.7 L1410.4 124.1 L1411.9 124.6 L1413.4 125.0 L1414.9 125.4 L1416.4 125.7 L1417.9 126.0 L1419.4 126.2 L1420.9 126.4 L1422.4 126.5 L1423.9 126.6 L1425.4 126.6 L1426.9 126.5 L1428.4 126.2 L1429.9 125.8 L1431.4 125.3 L1432.9 124.6 L1434.4 123.7 L1435.9 122.7 L1437.4 121.4 L1438.9 119.8 L1440.4 118.1 L1441.9 116.1 L1443.4 113.9 L1444.9 111.5 L1446.4 109.0 L1447.9 106.5 L1449.4 103.9 L1450.9 101.4 L1452.4 98.9 L1453.9 96.5 L1455.4 94.3 L1456.9 92.1 L1458.4 90.1 L1459.9 88.2 L1461.4 86.5 L1462.9 84.9 L1464.4 83.4 L1465.9 82.1 L1467.4 81.0 L1468.9 80.0 L1470.4 79.1 L1471.9 78.4 L1473.4 77.9 L1474.9 77.4 L1476.4 77.2 L1477.9 77.0 L1479.4 77.1 L1480.9 77.2 L1482.4 77.5 L1483.9 77.9 L1485.4 78.4 L1486.9 79.1 L1488.4 79.9 L1489.9 80.7 L1491.4 81.7 L1492.9 82.8 L1494.4 84.0 L1495.9 85.3 L1497.4 86.6 L1498.9 88.1 L1500.4 89.6 L1501.9 91.1 L1503.4 92.8 L1504.9 94.5 L1506.4 96.2 L1507.9 98.0 L1509.4 99.8 L1510.9 101.7 L1512.4 103.6 L1513.9 105.5 L1515.4 107.4 L1516.9 109.4 L1518.4 111.4 L1519.9 113.3 L1521.4 115.3 L1522.9 117.3 L1524.4 119.2 L1525.9 121.1 L1527.4 122.9 L1528.9 124.7 L1530.4 126.4 L1531.9 128.1 L1533.4 129.6 L1534.9 131.0 L1536.4 132.3 L1537.9 133.4 L1539.4 134.5 L1540.9 135.4 L1542.4 136.2 L1543.9 137.0 L1545.4 137.6 L1546.9 138.2 L1548.4 138.7 L1549.9 139.1 L1551.4 139.5 L1552.9 139.8 L1554.4 140.1 L1555.9 140.3 L1557.4 140.5 L1558.9 140.6 L1560.4 140.7 L1561.9 140.8 L1563.4 140.8 L1564.9 140.9 L1566.4 140.9 L1567.9 141.0 L1569.4 141.0 L1570.9 141.1 L1572.4 141.1 L1573.9 141.2 L1575.4 141.3 L1576.9 141.4 L1578.4 141.6 L1579.9 141.8 L1581.4 142.0 L1582.9 142.3 L1584.4 142.7 L1585.9 143.1 L1587.4 143.6 L1588.9 144.1 L1590.4 144.7 L1591.9 145.3 L1593.4 146.0 L1594.9 146.7 L1596.4 147.4 L1597.9 148.2 L1599.4 149.0 L1600.9 149.9 L1602.4 150.7 L1603.9 151.6 L1605.4 152.5 L1606.9 153.4 L1608.4 154.4 L1609.9 155.3 L1611.4 156.2 L1612.9 157.1 L1614.4 158.0 L1615.9 158.9 L1617.4 159.8 L1618.9 160.7 L1620.4 161.6 L1621.9 162.4 L1623.4 163.2 L1624.9 163.9 L1626.4 164.7 L1627.9 165.4 L1629.4 166.0 L1630.9 166.7 L1632.4 167.3 L1633.9 167.9 L1635.4 168.5 L1636.9 169.1 L1638.4 169.6 L1639.9 170.2 L1641.4 170.7 L1642.9 171.2 L1644.4 171.8 L1645.9 172.3 L1647.4 172.8 L1648.9 173.3 L1650.4 173.9 L1651.9 174.4 L1653.4 174.9 L1654.9 175.4 L1656.4 175.9 L1657.9 176.5 L1659.4 177.0 L1660.9 177.5 L1662.4 178.1 L1663.9 178.6 L1665.4 179.1 L1666.9 179.7 L1668.4 180.2 L1669.9 180.7 L1671.4 181.3 L1672.9 181.8 L1674.4 182.4 L1675.9 182.9 L1677.4 183.5 L1678.9 184.1 L1680.4 184.6 L1681.9 185.2 L1683.4 185.7 L1684.9 186.3 L1686.4 186.8 L1687.9 187.4 L1689.4 187.9 L1690.9 188.5 L1692.4 189.0 L1693.9 189.5 L1695.4 190.0 L1696.9 190.6 L1698.4 191.1 L1699.9 191.5 L1701.4 192.0 L1702.9 192.5 L1704.4 192.9 L1705.9 193.4 L1707.4 193.8 L1708.9 194.2 L1710.4 194.7 L1711.9 195.1 L1713.4 195.5 L1714.9 195.8 L1716.4 196.2 L1717.9 196.6 L1719.4 196.9 L1720.9 197.3 L1722.4 197.6 L1723.9 197.9 L1725.4 198.2 L1726.9 198.5 L1728.4 198.8 L1729.9 199.1 L1731.4 199.4 L1732.9 199.7 L1734.4 200.0 L1735.9 200.2 L1737.4 200.5 L1738.9 200.7 L1740.4 200.9 L1741.9 201.2 L1743.4 201.4 L1744.9 201.6 L1746.4 201.8 L1747.9 202.0 L1749.4 202.2 L1750.9 202.4 L1752.4 202.6 L1753.9 202.8 L1755.4 202.9 L1756.9 203.1 L1758.4 203.3 L1759.9 203.4 L1761.4 203.6 L1762.9 203.7 L1764.4 203.9 L1765.9 204.0 L1767.4 204.1 L1768.9 204.3 L1770.4 204.4 L1771.9 204.5 L1773.4 204.6 L1774.9 204.7 L1776.4 204.8 L1777.9 204.9 L1779.4 205.1 L1780.9 205.2 L1782.4 205.3 L1783.9 205.3 L1785.4 205.4 L1786.9 205.5 L1788.4 205.6 L1789.9 205.7 L1791.4 205.8 L1792.9 205.9 L1794.4 206.0 L1795.9 206.0 L1797.4 206.1 L1798.9 206.2 L1800.4 206.3 L1801.9 206.4 L1803.4 206.4 L1804.9 206.5 L1806.4 206.6 L1807.9 206.7 L1809.4 206.7 L1810.9 206.8 L1812.4 206.9 L1813.9 207.0 L1815.4 207.1 L1816.9 207.1 L1818.4 207.2 L1819.9 207.3 L1821.4 207.4 L1822.9 207.5 L1824.4 207.6 L1825.9 207.7 L1827.4 207.8 L1828.9 207.9 L1830.4 208.0 L1831.9 208.1 L1833.4 208.2 L1834.9 208.4 L1836.4 208.5 L1837.9 208.7 L1839.4 208.8 L1840.9 209.0 L1842.4 209.2 L1843.9 209.4 L1845.4 209.6 L1846.9 209.9 L1848.4 210.1 L1849.9 210.4 L1851.4 210.7 L1852.9 211.0 L1854.4 211.3 L1855.9 211.6 L1857.4 212.0 L1858.9 212.4 L1860.4 212.8 L1861.9 213.2 L1863.4 213.7 L1864.9 214.1 L1866.4 214.6 L1867.9 215.2 L1869.4 215.7 L1870.9 216.3 L1872.4 216.9 L1873.9 217.6 L1875.4 218.3 L1876.9 219.0 L1878.4 219.7 L1879.9 220.5 L1881.4 221.3 L1882.9 222.1 L1884.4 223.0 L1885.9 223.9 L1887.4 224.8 L1888.9 225.8 L1890.4 226.9 L1891.9 227.9 L1893.4 229.0 L1894.9 230.2 L1896.4 231.4 L1897.9 232.6 L1899.4 233.9 L1900.9 235.2 L1902.4 236.5 L1903.9 237.9 L1905.4 239.4 L1906.9 240.9 L1908.4 242.4 L1909.9 244.0 L1911.4 245.7 L1912.9 247.3 L1914.4 249.1 L1915.9 250.9 L1917.4 252.7 L1918.9 254.5 L1920.4 256.5 L1921.9 258.4 L1923.4 260.4 L1924.9 262.5 L1926.4 264.6 L1927.9 266.8 L1929.4 269.0 L1930.9 271.2 L1932.4 273.5 L1933.9 275.9 L1935.4 278.3 L1936.9 280.7 L1938.4 283.2 L1939.9 285.8 L1941.4 288.4 L1942.9 291.0 L1944.4 293.7 L1945.9 296.5 L1947.4 299.3 L1948.9 302.2 L1950.4 305.1 L1951.9 308.0 L1953.4 311.1 L1954.9 314.1 L1956.4 317.2 L1957.9 320.4 L1959.4 323.6 L1960.9 326.9 L1962.4 330.3 L1962.6 330.7" stroke="#1a6db5"/>
<path d="M1178.3 33.4 L1179.8 34.9 L1181.3 36.5 L1182.8 38.4 L1184.3 40.4 L1185.8 42.5 L1187.3 44.8 L1188.8 47.2 L1190.3 49.7 L1191.8 52.2 L1193.3 54.9 L1194.8 57.7 L1196.3 60.5 L1197.8 63.3 L1199.3 66.3 L1200.8 69.2 L1202.3 72.1 L1203.8 74.7 L1205.3 76.9 L1206.8 78.4 L1208.3 79.2 L1209.8 79.2 L1211.3 78.4 L1212.8 77.0 L1214.3 75.0 L1215.8 72.5 L1217.3 69.7 L1218.8 66.5 L1220.3 63.1 L1221.8 59.6 L1223.3 55.9 L1224.8 52.1 L1226.3 48.4 L1227.8 44.8 L1229.3 41.4 L1230.8 38.2 L1232.3 35.2 L1233.8 32.5 L1235.3 30.1 L1236.8 27.9 L1238.3 25.9 L1239.8 24.1 L1241.3 22.6 L1242.8 21.3 L1244.3 20.2 L1245.8 19.3 L1247.3 18.6 L1248.8 18.1 L1250.3 17.8 L1251.8 17.7 L1253.3 17.7 L1254.8 17.9 L1256.3 18.2 L1257.8 18.7 L1259.3 19.4 L1260.8 20.1 L1262.3 21.0 L1263.8 22.1 L1265.3 23.2 L1266.8 24.5 L1268.3 25.9 L1269.8 27.3 L1271.3 28.9 L1272.8 30.5 L1274.3 32.3 L1275.8 34.1 L1277.3 35.9 L1278.8 37.9 L1280.3 39.8 L1281.8 41.9 L1283.3 43.9 L1284.8 46.0 L1286.3 48.2 L1287.8 50.3 L1289.3 52.5 L1290.8 54.6 L1292.3 56.8 L1293.8 59.0 L1295.3 61.1 L1296.8 63.2 L1298.3 65.3 L1299.8 67.3 L1301.3 69.3 L1302.8 71.2 L1304.3 73.1 L1305.8 74.9 L1307.3 76.6 L1308.8 78.3 L1310.3 79.8 L1311.8 81.3 L1313.3 82.6 L1314.8 83.8 L1316.3 85.0 L1317.8 86.0 L1319.3 86.9 L1320.8 87.8 L1322.3 88.5 L1323.8 89.2 L1325.3 89.8 L1326.8 90.3 L1328.3 90.7 L1329.8 91.0 L1331.3 91.3 L1332.8 91.5 L1334.3 91.6 L1335.8 91.7 L1337.3 91.7 L1338.8 91.7 L1340.3 91.6 L1341.8 91.4 L1343.3 91.3 L1344.8 91.1 L1346.3 90.9 L1347.8 90.7 L1349.3 90.5 L1350.8 90.4 L1352.3 90.3 L1353.8 90.2 L1355.3 90.3 L1356.8 90.4 L1358.3 90.6 L1359.8 91.0 L1361.3 91.4 L1362.8 91.9 L1364.3 92.5 L1365.8 93.2 L1367.3 94.0 L1368.8 94.9 L1370.3 95.8 L1371.8 96.8 L1373.3 97.8 L1374.8 98.9 L1376.3 100.0 L1377.8 101.2 L1379.3 102.3 L1380.8 103.5 L1382.3 104.8 L1383.8 106.0 L1385.3 107.2 L1386.8 108.5 L1388.3 109.7 L1389.8 110.9 L1391.3 112.1 L1392.8 113.3 L1394.3 114.4 L1395.8 115.5 L1397.3 116.6 L1398.8 117.6 L1400.3 118.6 L1401.8 119.6 L1403.3 120.5 L1404.8 121.4 L1406.3 122.2 L1407.8 123.1 L1409.3 123.9 L1410.8 124.6 L1412.3 125.3 L1413.8 126.0 L1415.3 126.6 L1416.8 127.3 L1418.3 127.8 L1419.8 128.4 L1421.3 128.9 L1422.8 129.4 L1424.3 129.8 L1425.8 130.3 L1427.3 130.7 L1428.8 131.0 L1430.3 131.3 L1431.8 131.6 L1433.3 131.9 L1434.8 132.0 L1436.3 132.1 L1437.8 132.1 L1439.3 131.9 L1440.8 131.6 L1442.3 131.1 L1443.8 130.4 L1445.3 129.6 L1446.8 128.5 L1448.3 127.2 L1449.8 125.8 L1451.3 124.2 L1452.8 122.6 L1454.3 121.0 L1455.8 119.3 L1457.3 117.7 L1458.8 116.2 L1460.3 114.7 L1461.8 113.4 L1463.3 112.2 L1464.8 111.1 L1466.3 110.1 L1467.8 109.3 L1469.3 108.6 L1470.8 108.0 L1472.3 107.5 L1473.8 107.2 L1475.3 106.9 L1476.8 106.8 L1478.3 106.8 L1479.8 106.9 L1481.3 107.1 L1482.8 107.5 L1484.3 107.9 L1485.8 108.5 L1487.3 109.2 L1488.8 110.0 L1490.3 110.9 L1491.8 111.9 L1493.3 113.0 L1494.8 114.2 L1496.3 115.5 L1497.8 116.9 L1499.3 118.4 L1500.8 120.0 L1502.3 121.7 L1503.8 123.5 L1505.3 125.3 L1506.8 127.2 L1508.3 129.2 L1509.8 131.1 L1511.3 133.2 L1512.8 135.2 L1514.3 137.2 L1515.8 139.3 L1517.3 141.4 L1518.8 143.4 L1520.3 145.4 L1521.8 147.4 L1523.3 149.4 L1524.8 151.3 L1526.3 153.1 L1527.8 154.9 L1529.3 156.6 L1530.8 158.3 L1532.3 159.9 L1533.8 161.4 L1535.3 162.8 L1536.8 164.2 L1538.3 165.5 L1539.8 166.7 L1541.3 167.8 L1542.8 168.9 L1544.3 169.9 L1545.8 170.8 L1547.3 171.7 L1548.8 172.5 L1550.3 173.2 L1551.8 173.8 L1553.3 174.4 L1554.8 174.8 L1556.3 175.3 L1557.8 175.6 L1559.3 175.8 L1560.8 176.0 L1562.3 176.1 L1563.8 176.2 L1565.3 176.2 L1566.8 176.1 L1568.3 176.0 L1569.8 175.9 L1571.3 175.8 L1572.8 175.7 L1574.3 175.6 L1575.8 175.5 L1577.3 175.4 L1578.8 175.3 L1580.3 175.3 L1581.8 175.3 L1583.3 175.4 L1584.8 175.6 L1586.3 175.8 L1587.8 176.1 L1589.3 176.4 L1590.8 176.8 L1592.3 177.3 L1593.8 177.7 L1595.3 178.3 L1596.8 178.8 L1598.3 179.4 L1599.8 180.1 L1601.3 180.7 L1602.8 181.4 L1604.3 182.2 L1605.8 182.9 L1607.3 183.7 L1608.8 184.5 L1610.3 185.3 L1611.8 186.1 L1613.3 186.9 L1614.8 187.8 L1616.3 188.6 L1617.8 189.4 L1619.3 190.3 L1620.8 191.1 L1622.3 191.9 L1623.8 192.8 L1625.3 193.6 L1626.8 194.4 L1628.3 195.1 L1629.8 195.9 L1631.3 196.7 L1632.8 197.4 L1634.3 198.1 L1635.8 198.9 L1637.3 199.6 L1638.8 200.3 L1640.3 201.0 L1641.8 201.6 L1643.3 202.3 L1644.8 203.0 L1646.3 203.6 L1647.8 204.2 L1649.3 204.9 L1650.8 205.5 L1652.3 206.1 L1653.8 206.7 L1655.3 207.3 L1656.8 207.9 L1658.3 208.4 L1659.8 209.0 L1661.3 209.6 L1662.8 210.1 L1664.3 210.7 L1665.8 211.2 L1667.3 211.7 L1668.8 212.3 L1670.3 212.8 L1671.8 213.3 L1673.3 213.8 L1674.8 214.3 L1676.3 214.8 L1677.8 215.3 L1679.3 215.8 L1680.8 216.3 L1682.3 216.7 L1683.8 217.2 L1685.3 217.7 L1686.8 218.2 L1688.3 218.6 L1689.8 219.1 L1691.3 219.5 L1692.8 220.0 L1694.3 220.4 L1695.8 220.9 L1697.3 221.3 L1698.8 221.8 L1700.3 222.2 L1701.8 222.6 L1703.3 223.1 L1704.8 223.5 L1706.3 223.9 L1707.8 224.4 L1709.3 224.8 L1710.8 225.2 L1712.3 225.7 L1713.8 226.1 L1715.3 226.5 L1716.8 226.9 L1718.3 227.3 L1719.8 227.8 L1721.3 228.2 L1722.8 228.6 L1724.3 229.0 L1725.8 229.4 L1727.3 229.8 L1728.8 230.2 L1730.3 230.6 L1731.8 231.0 L1733.3 231.4 L1734.8 231.7 L1736.3 232.1 L1737.8 232.5 L1739.3 232.9 L1740.8 233.3 L1742.3 233.6 L1743.8 234.0 L1745.3 234.3 L1746.8 234.7 L1748.3 235.1 L1749.8 235.4 L1751.3 235.8 L1752.8 236.1 L1754.3 236.4 L1755.8 236.8 L1757.3 237.1 L1758.8 237.4 L1760.3 237.7 L1761.8 238.1 L1763.3 238.4 L1764.8 238.7 L1766.3 239.0 L1767.8 239.3 L1769.3 239.6 L1770.8 239.9 L1772.3 240.1 L1773.8 240.4 L1775.3 240.7 L1776.8 241.0 L1778.3 241.2 L1779.8 241.5 L1781.3 241.7 L1782.8 242.0 L1784.3 242.2 L1785.8 242.4 L1787.3 242.7 L1788.8 242.9 L1790.3 243.1 L1791.8 243.3 L1793.3 243.5 L1794.8 243.7 L1796.3 243.9 L1797.8 244.1 L1799.3 244.3 L1800.8 244.5 L1802.3 244.6 L1803.8 244.8 L1805.3 245.0 L1806.8 245.1 L1808.3 245.2 L1809.8 245.4 L1811.3 245.5 L1812.8 245.6 L1814.3 245.7 L1815.8 245.8 L1817.3 246.0 L1818.8 246.0 L1820.3 246.1 L1821.8 246.2 L1823.3 246.3 L1824.8 246.4 L1826.3 246.4 L1827.8 246.5 L1829.3 246.5 L1830.8 246.6 L1832.3 246.7 L1833.8 246.7 L1835.3 246.8 L1836.8 246.9 L1838.3 247.0 L1839.8 247.1 L1841.3 247.2 L1842.8 247.3 L1844.3 247.4 L1845.8 247.5 L1847.3 247.7 L1848.8 247.9 L1850.3 248.0 L1851.8 248.2 L1853.3 248.5 L1854.8 248.7 L1856.3 249.0 L1857.8 249.3 L1859.3 249.6 L1860.8 249.9 L1862.3 250.3 L1863.8 250.7 L1865.3 251.1 L1866.8 251.5 L1868.3 252.0 L1869.8 252.5 L1871.3 253.1 L1872.8 253.7 L1874.3 254.3 L1875.8 254.9 L1877.3 255.6 L1878.8 256.4 L1880.3 257.2 L1881.8 258.0 L1883.3 258.9 L1884.8 259.8 L1886.3 260.7 L1887.8 261.8 L1889.3 262.8 L1890.8 263.9 L1892.3 265.1 L1893.8 266.3 L1895.3 267.6 L1896.8 268.9 L1898.3 270.3 L1899.8 271.7 L1901.3 273.2 L1902.8 274.8 L1904.3 276.4 L1905.8 278.1 L1907.3 279.8 L1908.8 281.5 L1910.3 283.4 L1911.8 285.2 L1913.3 287.1 L1914.8 289.0 L1916.3 291.0 L1917.8 293.0 L1919.3 295.0 L1920.8 297.1 L1922.3 299.2 L1923.8 301.3 L1925.3 303.4 L1926.8 305.5 L1928.3 307.7 L1929.8 309.9 L1931.3 312.0 L1932.8 314.2 L1934.3 316.5 L1935.8 318.7 L1937.3 321.0 L1938.8 323.3 L1940.3 325.7 L1941.8 328.1 L1943.3 330.5 L1944.8 333.1 L1946.3 335.6 L1947.8 338.3 L1949.3 341.0 L1950.8 343.8 L1952.3 346.6 L1953.8 349.6 L1955.3 352.6 L1956.8 355.7 L1958.3 359.0 L1959.8 362.3 L1961.3 365.7 L1962.6 368.8" stroke="#de4f00"/>
<path d="M1177.9 88.9 L1179.4 90.0 L1180.9 91.0 L1182.4 92.0 L1183.9 93.1 L1185.4 94.1 L1186.9 95.2 L1188.4 96.3 L1189.9 97.3 L1191.4 98.4 L1192.9 99.5 L1194.4 100.7 L1195.9 101.8 L1197.4 103.0 L1198.9 104.2 L1200.4 105.4 L1201.9 106.6 L1203.4 107.9 L1204.9 109.3 L1206.4 110.6 L1207.9 112.0 L1209.4 113.3 L1210.9 114.7 L1212.4 115.9 L1213.9 117.2 L1215.4 118.3 L1216.9 119.4 L1218.4 120.4 L1219.9 121.2 L1221.4 121.9 L1222.9 122.4 L1224.4 122.8 L1225.9 123.1 L1227.4 123.2 L1228.9 123.2 L1230.4 123.0 L1231.9 122.7 L1233.4 122.2 L1234.9 121.6 L1236.4 120.9 L1237.9 120.1 L1239.4 119.2 L1240.9 118.2 L1242.4 117.2 L1243.9 116.1 L1245.4 115.1 L1246.9 114.0 L1248.4 113.1 L1249.9 112.2 L1251.4 111.3 L1252.9 110.6 L1254.4 110.1 L1255.9 109.6 L1257.4 109.3 L1258.9 109.1 L1260.4 109.0 L1261.9 108.9 L1263.4 109.0 L1264.9 109.1 L1266.4 109.3 L1267.9 109.6 L1269.4 109.9 L1270.9 110.2 L1272.4 110.6 L1273.9 111.0 L1275.4 111.4 L1276.9 111.7 L1278.4 112.1 L1279.9 112.5 L1281.4 112.8 L1282.9 113.1 L1284.4 113.3 L1285.9 113.5 L1287.4 113.6 L1288.9 113.7 L1290.4 113.7 L1291.9 113.7 L1293.4 113.7 L1294.9 113.6 L1296.4 113.6 L1297.9 113.5 L1299.4 113.4 L1300.9 113.4 L1302.4 113.3 L1303.9 113.3 L1305.4 113.4 L1306.9 113.4 L1308.4 113.5 L1309.9 113.6 L1311.4 113.7 L1312.9 113.8 L1314.4 114.0 L1315.9 114.1 L1317.4 114.3 L1318.9 114.4 L1320.4 114.6 L1321.9 114.8 L1323.4 114.9 L1324.9 115.1 L1326.4 115.3 L1327.9 115.4 L1329.4 115.6 L1330.9 115.7 L1332.4 115.9 L1333.9 116.0 L1335.4 116.2 L1336.9 116.3 L1338.4 116.4 L1339.9 116.6 L1341.4 116.7 L1342.9 116.9 L1344.4 117.0 L1345.9 117.1 L1347.4 117.2 L1348.9 117.4 L1350.4 117.5 L1351.9 117.6 L1353.4 117.7 L1354.9 117.8 L1356.4 117.9 L1357.9 118.0 L1359.4 118.1 L1360.9 118.2 L1362.4 118.3 L1363.9 118.4 L1365.4 118.5 L1366.9 118.6 L1368.4 118.7 L1369.9 118.9 L1371.4 119.0 L1372.9 119.2 L1374.4 119.3 L1375.9 119.5 L1377.4 119.7 L1378.9 119.8 L1380.4 120.1 L1381.9 120.3 L1383.4 120.5 L1384.9 120.8 L1386.4 121.0 L1387.9 121.3 L1389.4 121.7 L1390.9 122.0 L1392.4 122.4 L1393.9 122.8 L1395.4 123.2 L1396.9 123.6 L1398.4 124.1 L1399.9 124.6 L1401.4 125.0 L1402.9 125.5 L1404.4 126.1 L1405.9 126.6 L1407.4 127.1 L1408.9 127.6 L1410.4 128.1 L1411.9 128.6 L1413.4 129.1 L1414.9 129.6 L1416.4 130.1 L1417.9 130.4 L1419.4 130.7 L1420.9 131.0 L1422.4 131.1 L1423.9 131.0 L1425.4 130.9 L1426.9 130.6 L1428.4 130.1 L1429.9 129.4 L1431.4 128.5 L1432.9 127.5 L1434.4 126.2 L1435.9 124.7 L1437.4 123.1 L1438.9 121.4 L1440.4 119.5 L1441.9 117.4 L1443.4 115.2 L1444.9 113.0 L1446.4 110.6 L1447.9 108.1 L1449.4 105.6 L1450.9 103.1 L1452.4 100.6 L1453.9 98.1 L1455.4 95.7 L1456.9 93.3 L1458.4 91.2 L1459.9 89.1 L1461.4 87.2 L1462.9 85.5 L1464.4 84.0 L1465.9 82.6 L1467.4 81.4 L1468.9 80.4 L1470.4 79.5 L1471.9 78.8 L1473.4 78.3 L1474.9 77.9 L1476.4 77.6 L1477.9 77.5 L1479.4 77.5 L1480.9 77.7 L1482.4 78.0 L1483.9 78.4 L1485.4 78.9 L1486.9 79.6 L1488.4 80.3 L1489.9 81.2 L1491.4 82.2 L1492.9 83.2 L1494.4 84.4 L1495.9 85.7 L1497.4 87.0 L1498.9 88.4 L1500.4 89.9 L1501.9 91.5 L1503.4 93.1 L1504.9 94.8 L1506.4 96.5 L1507.9 98.3 L1509.4 100.2 L1510.9 102.1 L1512.4 104.0 L1513.9 105.9 L1515.4 107.9 L1516.9 109.9 L1518.4 111.9 L1519.9 113.8 L1521.4 115.8 L1522.9 117.8 L1524.4 119.8 L1525.9 121.7 L1527.4 123.6 L1528.9 125.4 L1530.4 127.3 L1531.9 129.0 L1533.4 130.7 L1534.9 132.4 L1536.4 134.0 L1537.9 135.5 L1539.4 136.9 L1540.9 138.3 L1542.4 139.5 L1543.9 140.7 L1545.4 141.7 L1546.9 142.7 L1548.4 143.5 L1549.9 144.2 L1551.4 144.8 L1552.9 145.3 L1554.4 145.7 L1555.9 146.0 L1557.4 146.2 L1558.9 146.4 L1560.4 146.5 L1561.9 146.5 L1563.4 146.5 L1564.9 146.5 L1566.4 146.4 L1567.9 146.3 L1569.4 146.2 L1570.9 146.1 L1572.4 146.0 L1573.9 145.8 L1575.4 145.7 L1576.9 145.6 L1578.4 145.6 L1579.9 145.6 L1581.4 145.6 L1582.9 145.7 L1584.4 145.8 L1585.9 146.0 L1587.4 146.3 L1588.9 146.7 L1590.4 147.1 L1591.9 147.5 L1593.4 148.0 L1594.9 148.6 L1596.4 149.2 L1597.9 149.8 L1599.4 150.5 L1600.9 151.2 L1602.4 152.0 L1603.9 152.8 L1605.4 153.6 L1606.9 154.4 L1608.4 155.2 L1609.9 156.0 L1611.4 156.9 L1612.9 157.7 L1614.4 158.5 L1615.9 159.4 L1617.4 160.2 L1618.9 161.0 L1620.4 161.8 L1621.9 162.5 L1623.4 163.3 L1624.9 164.0 L1626.4 164.6 L1627.9 165.3 L1629.4 165.9 L1630.9 166.5 L1632.4 167.1 L1633.9 167.6 L1635.4 168.1 L1636.9 168.6 L1638.4 169.1 L1639.9 169.5 L1641.4 170.0 L1642.9 170.4 L1644.4 170.8 L1645.9 171.2 L1647.4 171.6 L1648.9 171.9 L1650.4 172.3 L1651.9 172.6 L1653.4 173.0 L1654.9 173.3 L1656.4 173.6 L1657.9 174.0 L1659.4 174.3 L1660.9 174.6 L1662.4 174.9 L1663.9 175.2 L1665.4 175.6 L1666.9 175.9 L1668.4 176.2 L1669.9 176.6 L1671.4 176.9 L1672.9 177.2 L1674.4 177.6 L1675.9 177.9 L1677.4 178.3 L1678.9 178.6 L1680.4 179.0 L1681.9 179.3 L1683.4 179.6 L1684.9 180.0 L1686.4 180.3 L1687.9 180.7 L1689.4 181.0 L1690.9 181.4 L1692.4 181.7 L1693.9 182.1 L1695.4 182.4 L1696.9 182.7 L1698.4 183.1 L1699.9 183.4 L1701.4 183.8 L1702.9 184.1 L1704.4 184.4 L1705.9 184.8 L1707.4 185.1 L1708.9 185.4 L1710.4 185.8 L1711.9 186.1 L1713.4 186.4 L1714.9 186.7 L1716.4 187.0 L1717.9 187.4 L1719.4 187.7 L1720.9 188.0 L1722.4 188.3 L1723.9 188.6 L1725.4 188.9 L1726.9 189.2 L1728.4 189.5 L1729.9 189.7 L1731.4 190.0 L1732.9 190.3 L1734.4 190.6 L1735.9 190.8 L1737.4 191.1 L1738.9 191.4 L1740.4 191.6 L1741.9 191.9 L1743.4 192.1 L1744.9 192.4 L1746.4 192.6 L1747.9 192.8 L1749.4 193.1 L1750.9 193.3 L1752.4 193.5 L1753.9 193.8 L1755.4 194.0 L1756.9 194.2 L1758.4 194.4 L1759.9 194.6 L1761.4 194.8 L1762.9 195.0 L1764.4 195.2 L1765.9 195.4 L1767.4 195.6 L1768.9 195.8 L1770.4 196.0 L1771.9 196.2 L1773.4 196.4 L1774.9 196.6 L1776.4 196.7 L1777.9 196.9 L1779.4 197.1 L1780.9 197.3 L1782.4 197.4 L1783.9 197.6 L1785.4 197.8 L1786.9 198.0 L1788.4 198.1 L1789.9 198.3 L1791.4 198.4 L1792.9 198.6 L1794.4 198.8 L1795.9 198.9 L1797.4 199.1 L1798.9 199.2 L1800.4 199.4 L1801.9 199.5 L1803.4 199.7 L1804.9 199.8 L1806.4 200.0 L1807.9 200.1 L1809.4 200.3 L1810.9 200.4 L1812.4 200.6 L1813.9 200.7 L1815.4 200.9 L1816.9 201.0 L1818.4 201.2 L1819.9 201.3 L1821.4 201.5 L1822.9 201.6 L1824.4 201.8 L1825.9 201.9 L1827.4 202.0 L1828.9 202.2 L1830.4 202.3 L1831.9 202.5 L1833.4 202.6 L1834.9 202.8 L1836.4 202.9 L1837.9 203.1 L1839.4 203.2 L1840.9 203.4 L1842.4 203.5 L1843.9 203.7 L1845.4 203.8 L1846.9 204.0 L1848.4 204.2 L1849.9 204.4 L1851.4 204.6 L1852.9 204.8 L1854.4 205.0 L1855.9 205.3 L1857.4 205.6 L1858.9 205.9 L1860.4 206.2 L1861.9 206.6 L1863.4 206.9 L1864.9 207.4 L1866.4 207.8 L1867.9 208.3 L1869.4 208.8 L1870.9 209.4 L1872.4 210.0 L1873.9 210.6 L1875.4 211.3 L1876.9 212.1 L1878.4 212.8 L1879.9 213.6 L1881.4 214.5 L1882.9 215.4 L1884.4 216.3 L1885.9 217.2 L1887.4 218.3 L1888.9 219.3 L1890.4 220.4 L1891.9 221.5 L1893.4 222.7 L1894.9 223.9 L1896.4 225.1 L1897.9 226.4 L1899.4 227.7 L1900.9 229.1 L1902.4 230.5 L1903.9 231.9 L1905.4 233.4 L1906.9 234.9 L1908.4 236.5 L1909.9 238.1 L1911.4 239.7 L1912.9 241.4 L1914.4 243.2 L1915.9 244.9 L1917.4 246.8 L1918.9 248.6 L1920.4 250.6 L1921.9 252.5 L1923.4 254.5 L1924.9 256.6 L1926.4 258.7 L1927.9 260.8 L1929.4 263.0 L1930.9 265.3 L1932.4 267.6 L1933.9 270.0 L1935.4 272.4 L1936.9 274.8 L1938.4 277.3 L1939.9 279.9 L1941.4 282.5 L1942.9 285.2 L1944.4 287.9 L1945.9 290.7 L1947.4 293.5 L1948.9 296.4 L1950.4 299.4 L1951.9 302.4 L1953.4 305.4 L1954.9 308.6 L1956.4 311.7 L1957.9 315.0 L1959.4 318.3 L1960.9 321.6 L1962.4 325.1 L1962.6 325.5" stroke="#ebab0b"/>
<path d="M1177.9 102.6 L1179.4 101.5 L1180.9 100.6 L1182.4 99.8 L1183.9 99.3 L1185.4 98.9 L1186.9 98.6 L1188.4 98.5 L1189.9 98.5 L1191.4 98.6 L1192.9 98.8 L1194.4 99.2 L1195.9 99.6 L1197.4 100.0 L1198.9 100.5 L1200.4 101.1 L1201.9 101.7 L1203.4 102.3 L1204.9 102.9 L1206.4 103.5 L1207.9 104.1 L1209.4 104.6 L1210.9 105.1 L1212.4 105.6 L1213.9 106.0 L1215.4 106.3 L1216.9 106.6 L1218.4 106.8 L1219.9 106.9 L1221.4 107.0 L1222.9 107.0 L1224.4 107.0 L1225.9 106.8 L1227.4 106.7 L1228.9 106.4 L1230.4 106.1 L1231.9 105.7 L1233.4 105.3 L1234.9 104.8 L1236.4 104.2 L1237.9 103.6 L1239.4 102.9 L1240.9 102.2 L1242.4 101.4 L1243.9 100.6 L1245.4 99.8 L1246.9 99.0 L1248.4 98.2 L1249.9 97.4 L1251.4 96.7 L1252.9 96.2 L1254.4 95.7 L1255.9 95.3 L1257.4 95.1 L1258.9 95.0 L1260.4 95.1 L1261.9 95.3 L1263.4 95.6 L1264.9 96.0 L1266.4 96.5 L1267.9 97.2 L1269.4 97.9 L1270.9 98.6 L1272.4 99.4 L1273.9 100.2 L1275.4 101.1 L1276.9 101.9 L1278.4 102.8 L1279.9 103.6 L1281.4 104.4 L1282.9 105.2 L1284.4 105.9 L1285.9 106.5 L1287.4 107.1 L1288.9 107.6 L1290.4 108.1 L1291.9 108.5 L1293.4 108.8 L1294.9 109.1 L1296.4 109.4 L1297.9 109.7 L1299.4 110.0 L1300.9 110.2 L1302.4 110.4 L1303.9 110.7 L1305.4 111.0 L1306.9 111.2 L1308.4 111.5 L1309.9 111.8 L1311.4 112.1 L1312.9 112.4 L1314.4 112.7 L1315.9 113.1 L1317.4 113.4 L1318.9 113.8 L1320.4 114.2 L1321.9 114.7 L1323.4 115.1 L1324.9 115.6 L1326.4 116.0 L1327.9 116.5 L1329.4 117.0 L1330.9 117.5 L1332.4 117.9 L1333.9 118.4 L1335.4 118.8 L1336.9 119.3 L1338.4 119.7 L1339.9 120.0 L1341.4 120.4 L1342.9 120.7 L1344.4 120.9 L1345.9 121.2 L1347.4 121.4 L1348.9 121.6 L1350.4 121.7 L1351.9 121.9 L1353.4 122.0 L1354.9 122.1 L1356.4 122.3 L1357.9 122.4 L1359.4 122.5 L1360.9 122.6 L1362.4 122.7 L1363.9 122.8 L1365.4 122.9 L1366.9 123.1 L1368.4 123.2 L1369.9 123.4 L1371.4 123.5 L1372.9 123.7 L1374.4 124.0 L1375.9 124.2 L1377.4 124.5 L1378.9 124.8 L1380.4 125.1 L1381.9 125.5 L1383.4 125.9 L1384.9 126.4 L1386.4 126.9 L1387.9 127.5 L1389.4 128.0 L1390.9 128.6 L1392.4 129.3 L1393.9 129.9 L1395.4 130.6 L1396.9 131.2 L1398.4 131.9 L1399.9 132.5 L1401.4 133.1 L1402.9 133.7 L1404.4 134.3 L1405.9 134.8 L1407.4 135.3 L1408.9 135.8 L1410.4 136.2 L1411.9 136.5 L1413.4 136.8 L1414.9 137.0 L1416.4 137.1 L1417.9 137.1 L1419.4 137.0 L1420.9 136.9 L1422.4 136.6 L1423.9 136.2 L1425.4 135.7 L1426.9 135.1 L1428.4 134.3 L1429.9 133.4 L1431.4 132.3 L1432.9 131.0 L1434.4 129.6 L1435.9 128.0 L1437.4 126.1 L1438.9 124.1 L1440.4 121.8 L1441.9 119.3 L1443.4 116.7 L1444.9 113.9 L1446.4 111.0 L1447.9 108.1 L1449.4 105.3 L1450.9 102.5 L1452.4 99.8 L1453.9 97.3 L1455.4 94.9 L1456.9 92.7 L1458.4 90.6 L1459.9 88.7 L1461.4 86.9 L1462.9 85.3 L1464.4 83.9 L1465.9 82.6 L1467.4 81.4 L1468.9 80.4 L1470.4 79.6 L1471.9 78.9 L1473.4 78.3 L1474.9 77.9 L1476.4 77.6 L1477.9 77.5 L1479.4 77.5 L1480.9 77.6 L1482.4 77.9 L1483.9 78.3 L1485.4 78.9 L1486.9 79.5 L1488.4 80.3 L1489.9 81.2 L1491.4 82.2 L1492.9 83.3 L1494.4 84.5 L1495.9 85.8 L1497.4 87.2 L1498.9 88.7 L1500.4 90.2 L1501.9 91.8 L1503.4 93.5 L1504.9 95.2 L1506.4 96.9 L1507.9 98.8 L1509.4 100.6 L1510.9 102.5 L1512.4 104.4 L1513.9 106.4 L1515.4 108.3 L1516.9 110.3 L1518.4 112.3 L1519.9 114.3 L1521.4 116.3 L1522.9 118.2 L1524.4 120.2 L1525.9 122.1 L1527.4 124.0 L1528.9 125.9 L1530.4 127.8 L1531.9 129.6 L1533.4 131.4 L1534.9 133.2 L1536.4 134.9 L1537.9 136.6 L1539.4 138.2 L1540.9 139.8 L1542.4 141.3 L1543.9 142.6 L1545.4 143.9 L1546.9 145.0 L1548.4 146.0 L1549.9 146.9 L1551.4 147.6 L1552.9 148.2 L1554.4 148.7 L1555.9 149.0 L1557.4 149.3 L1558.9 149.5 L1560.4 149.5 L1561.9 149.5 L1563.4 149.5 L1564.9 149.4 L1566.4 149.2 L1567.9 149.0 L1569.4 148.8 L1570.9 148.6 L1572.4 148.4 L1573.9 148.1 L1575.4 147.9 L1576.9 147.7 L1578.4 147.6 L1579.9 147.5 L1581.4 147.5 L1582.9 147.5 L1584.4 147.6 L1585.9 147.8 L1587.4 148.1 L1588.9 148.4 L1590.4 148.9 L1591.9 149.4 L1593.4 150.0 L1594.9 150.6 L1596.4 151.2 L1597.9 151.9 L1599.4 152.7 L1600.9 153.4 L1602.4 154.2 L1603.9 155.0 L1605.4 155.8 L1606.9 156.6 L1608.4 157.3 L1609.9 158.1 L1611.4 158.9 L1612.9 159.7 L1614.4 160.5 L1615.9 161.3 L1617.4 162.0 L1618.9 162.8 L1620.4 163.6 L1621.9 164.4 L1623.4 165.1 L1624.9 165.9 L1626.4 166.6 L1627.9 167.4 L1629.4 168.1 L1630.9 168.8 L1632.4 169.5 L1633.9 170.2 L1635.4 170.9 L1636.9 171.6 L1638.4 172.3 L1639.9 173.0 L1641.4 173.6 L1642.9 174.3 L1644.4 174.9 L1645.9 175.5 L1647.4 176.1 L1648.9 176.7 L1650.4 177.3 L1651.9 177.9 L1653.4 178.4 L1654.9 179.0 L1656.4 179.5 L1657.9 180.1 L1659.4 180.6 L1660.9 181.1 L1662.4 181.6 L1663.9 182.1 L1665.4 182.5 L1666.9 183.0 L1668.4 183.5 L1669.9 183.9 L1671.4 184.3 L1672.9 184.8 L1674.4 185.2 L1675.9 185.6 L1677.4 186.0 L1678.9 186.4 L1680.4 186.8 L1681.9 187.2 L1683.4 187.6 L1684.9 188.0 L1686.4 188.3 L1687.9 188.7 L1689.4 189.0 L1690.9 189.4 L1692.4 189.7 L1693.9 190.1 L1695.4 190.4 L1696.9 190.7 L1698.4 191.1 L1699.9 191.4 L1701.4 191.7 L1702.9 192.0 L1704.4 192.3 L1705.9 192.6 L1707.4 192.9 L1708.9 193.2 L1710.4 193.5 L1711.9 193.8 L1713.4 194.1 L1714.9 194.4 L1716.4 194.6 L1717.9 194.9 L1719.4 195.2 L1720.9 195.5 L1722.4 195.7 L1723.9 196.0 L1725.4 196.2 L1726.9 196.5 L1728.4 196.8 L1729.9 197.0 L1731.4 197.2 L1732.9 197.5 L1734.4 197.7 L1735.9 198.0 L1737.4 198.2 L1738.9 198.4 L1740.4 198.6 L1741.9 198.9 L1743.4 199.1 L1744.9 199.3 L1746.4 199.5 L1747.9 199.7 L1749.4 199.9 L1750.9 200.1 L1752.4 200.3 L1753.9 200.5 L1755.4 200.7 L1756.9 200.9 L1758.4 201.1 L1759.9 201.3 L1761.4 201.5 L1762.9 201.7 L1764.4 201.8 L1765.9 202.0 L1767.4 202.2 L1768.9 202.3 L1770.4 202.5 L1771.9 202.7 L1773.4 202.8 L1774.9 203.0 L1776.4 203.2 L1777.9 203.3 L1779.4 203.5 L1780.9 203.6 L1782.4 203.8 L1783.9 203.9 L1785.4 204.0 L1786.9 204.2 L1788.4 204.3 L1789.9 204.5 L1791.4 204.6 L1792.9 204.7 L1794.4 204.8 L1795.9 205.0 L1797.4 205.1 L1798.9 205.2 L1800.4 205.3 L1801.9 205.5 L1803.4 205.6 L1804.9 205.7 L1806.4 205.8 L1807.9 205.9 L1809.4 206.0 L1810.9 206.1 L1812.4 206.2 L1813.9 206.3 L1815.4 206.4 L1816.9 206.5 L1818.4 206.6 L1819.9 206.7 L1821.4 206.8 L1822.9 206.9 L1824.4 207.0 L1825.9 207.1 L1827.4 207.2 L1828.9 207.3 L1830.4 207.4 L1831.9 207.5 L1833.4 207.6 L1834.9 207.7 L1836.4 207.8 L1837.9 208.0 L1839.4 208.1 L1840.9 208.3 L1842.4 208.4 L1843.9 208.6 L1845.4 208.8 L1846.9 209.0 L1848.4 209.2 L1849.9 209.5 L1851.4 209.7 L1852.9 210.0 L1854.4 210.3 L1855.9 210.6 L1857.4 210.9 L1858.9 211.2 L1860.4 211.6 L1861.9 212.0 L1863.4 212.4 L1864.9 212.9 L1866.4 213.3 L1867.9 213.8 L1869.4 214.3 L1870.9 214.9 L1872.4 215.5 L1873.9 216.1 L1875.4 216.7 L1876.9 217.4 L1878.4 218.1 L1879.9 218.9 L1881.4 219.6 L1882.9 220.4 L1884.4 221.3 L1885.9 222.2 L1887.4 223.1 L1888.9 224.1 L1890.4 225.1 L1891.9 226.1 L1893.4 227.2 L1894.9 228.4 L1896.4 229.5 L1897.9 230.8 L1899.4 232.0 L1900.9 233.4 L1902.4 234.7 L1903.9 236.1 L1905.4 237.6 L1906.9 239.1 L1908.4 240.7 L1909.9 242.3 L1911.4 243.9 L1912.9 245.6 L1914.4 247.4 L1915.9 249.2 L1917.4 251.0 L1918.9 252.9 L1920.4 254.8 L1921.9 256.8 L1923.4 258.8 L1924.9 260.9 L1926.4 263.0 L1927.9 265.2 L1929.4 267.4 L1930.9 269.7 L1932.4 272.0 L1933.9 274.3 L1935.4 276.8 L1936.9 279.2 L1938.4 281.7 L1939.9 284.2 L1941.4 286.8 L1942.9 289.5 L1944.4 292.2 L1945.9 294.9 L1947.4 297.7 L1948.9 300.5 L1950.4 303.4 L1951.9 306.3 L1953.4 309.2 L1954.9 312.3 L1956.4 315.3 L1957.9 318.4 L1959.4 321.6 L1960.9 324.8 L1962.4 328.0 L1962.6 328.4" stroke="#7300a0"/>
<path d="M1177.9 84.2 L1179.4 85.2 L1180.9 86.2 L1182.4 87.4 L1183.9 88.7 L1185.4 90.0 L1186.9 91.4 L1188.4 92.8 L1189.9 94.2 L1191.4 95.6 L1192.9 97.0 L1194.4 98.4 L1195.9 99.7 L1197.4 101.0 L1198.9 102.2 L1200.4 103.3 L1201.9 104.3 L1203.4 105.2 L1204.9 105.9 L1206.4 106.5 L1207.9 107.0 L1209.4 107.3 L1210.9 107.4 L1212.4 107.3 L1213.9 106.9 L1215.4 106.4 L1216.9 105.5 L1218.4 104.5 L1219.9 103.2 L1221.4 101.7 L1222.9 100.1 L1224.4 98.4 L1225.9 96.6 L1227.4 94.8 L1228.9 93.0 L1230.4 91.3 L1231.9 89.5 L1233.4 87.8 L1234.9 86.2 L1236.4 84.7 L1237.9 83.2 L1239.4 81.9 L1240.9 80.6 L1242.4 79.5 L1243.9 78.5 L1245.4 77.6 L1246.9 76.8 L1248.4 76.2 L1249.9 75.8 L1251.4 75.5 L1252.9 75.5 L1254.4 75.6 L1255.9 75.8 L1257.4 76.3 L1258.9 76.9 L1260.4 77.6 L1261.9 78.5 L1263.4 79.5 L1264.9 80.6 L1266.4 81.8 L1267.9 83.1 L1269.4 84.5 L1270.9 85.9 L1272.4 87.4 L1273.9 89.0 L1275.4 90.6 L1276.9 92.3 L1278.4 93.9 L1279.9 95.6 L1281.4 97.3 L1282.9 98.9 L1284.4 100.6 L1285.9 102.2 L1287.4 103.8 L1288.9 105.3 L1290.4 106.8 L1291.9 108.2 L1293.4 109.5 L1294.9 110.7 L1296.4 111.8 L1297.9 112.9 L1299.4 113.9 L1300.9 114.8 L1302.4 115.6 L1303.9 116.4 L1305.4 117.2 L1306.9 117.9 L1308.4 118.6 L1309.9 119.3 L1311.4 120.0 L1312.9 120.6 L1314.4 121.3 L1315.9 122.0 L1317.4 122.7 L1318.9 123.3 L1320.4 124.0 L1321.9 124.7 L1323.4 125.5 L1324.9 126.2 L1326.4 127.0 L1327.9 127.7 L1329.4 128.6 L1330.9 129.4 L1332.4 130.2 L1333.9 131.1 L1335.4 132.0 L1336.9 132.8 L1338.4 133.7 L1339.9 134.5 L1341.4 135.3 L1342.9 136.0 L1344.4 136.7 L1345.9 137.4 L1347.4 137.9 L1348.9 138.4 L1350.4 138.8 L1351.9 139.1 L1353.4 139.3 L1354.9 139.5 L1356.4 139.6 L1357.9 139.6 L1359.4 139.6 L1360.9 139.6 L1362.4 139.5 L1363.9 139.5 L1365.4 139.4 L1366.9 139.3 L1368.4 139.2 L1369.9 139.2 L1371.4 139.1 L1372.9 139.1 L1374.4 139.1 L1375.9 139.0 L1377.4 139.0 L1378.9 139.1 L1380.4 139.1 L1381.9 139.1 L1383.4 139.2 L1384.9 139.3 L1386.4 139.4 L1387.9 139.5 L1389.4 139.7 L1390.9 139.8 L1392.4 140.0 L1393.9 140.2 L1395.4 140.5 L1396.9 140.8 L1398.4 141.1 L1399.9 141.4 L1401.4 141.7 L1402.9 142.1 L1404.4 142.6 L1405.9 143.0 L1407.4 143.5 L1408.9 143.9 L1410.4 144.4 L1411.9 144.8 L1413.4 145.2 L1414.9 145.5 L1416.4 145.9 L1417.9 146.1 L1419.4 146.3 L1420.9 146.4 L1422.4 146.4 L1423.9 146.3 L1425.4 146.1 L1426.9 145.7 L1428.4 145.3 L1429.9 144.7 L1431.4 143.9 L1432.9 143.0 L1434.4 141.9 L1435.9 140.6 L1437.4 139.1 L1438.9 137.5 L1440.4 135.7 L1441.9 133.6 L1443.4 131.4 L1444.9 128.9 L1446.4 126.2 L1447.9 123.4 L1449.4 120.5 L1450.9 117.6 L1452.4 114.7 L1453.9 112.0 L1455.4 109.4 L1456.9 107.0 L1458.4 104.7 L1459.9 102.7 L1461.4 100.9 L1462.9 99.3 L1464.4 97.9 L1465.9 96.7 L1467.4 95.7 L1468.9 94.8 L1470.4 94.1 L1471.9 93.5 L1473.4 93.1 L1474.9 92.8 L1476.4 92.6 L1477.9 92.5 L1479.4 92.5 L1480.9 92.6 L1482.4 92.9 L1483.9 93.2 L1485.4 93.7 L1486.9 94.2 L1488.4 94.9 L1489.9 95.8 L1491.4 96.7 L1492.9 97.7 L1494.4 98.9 L1495.9 100.2 L1497.4 101.6 L1498.9 103.1 L1500.4 104.8 L1501.9 106.5 L1503.4 108.4 L1504.9 110.3 L1506.4 112.3 L1507.9 114.3 L1509.4 116.3 L1510.9 118.4 L1512.4 120.5 L1513.9 122.6 L1515.4 124.7 L1516.9 126.8 L1518.4 128.8 L1519.9 130.8 L1521.4 132.8 L1522.9 134.8 L1524.4 136.7 L1525.9 138.6 L1527.4 140.4 L1528.9 142.1 L1530.4 143.8 L1531.9 145.5 L1533.4 147.0 L1534.9 148.5 L1536.4 149.9 L1537.9 151.2 L1539.4 152.4 L1540.9 153.5 L1542.4 154.5 L1543.9 155.3 L1545.4 156.1 L1546.9 156.8 L1548.4 157.3 L1549.9 157.8 L1551.4 158.2 L1552.9 158.6 L1554.4 158.8 L1555.9 159.0 L1557.4 159.1 L1558.9 159.2 L1560.4 159.3 L1561.9 159.3 L1563.4 159.3 L1564.9 159.2 L1566.4 159.2 L1567.9 159.1 L1569.4 159.0 L1570.9 159.0 L1572.4 158.9 L1573.9 158.9 L1575.4 158.8 L1576.9 158.8 L1578.4 158.9 L1579.9 159.0 L1581.4 159.1 L1582.9 159.3 L1584.4 159.5 L1585.9 159.9 L1587.4 160.3 L1588.9 160.7 L1590.4 161.2 L1591.9 161.8 L1593.4 162.4 L1594.9 163.1 L1596.4 163.8 L1597.9 164.6 L1599.4 165.4 L1600.9 166.3 L1602.4 167.2 L1603.9 168.1 L1605.4 169.0 L1606.9 170.0 L1608.4 171.0 L1609.9 172.0 L1611.4 173.0 L1612.9 174.1 L1614.4 175.1 L1615.9 176.1 L1617.4 177.2 L1618.9 178.2 L1620.4 179.2 L1621.9 180.3 L1623.4 181.3 L1624.9 182.2 L1626.4 183.2 L1627.9 184.2 L1629.4 185.1 L1630.9 186.0 L1632.4 186.9 L1633.9 187.8 L1635.4 188.6 L1636.9 189.5 L1638.4 190.3 L1639.9 191.2 L1641.4 192.0 L1642.9 192.8 L1644.4 193.6 L1645.9 194.3 L1647.4 195.1 L1648.9 195.9 L1650.4 196.6 L1651.9 197.4 L1653.4 198.1 L1654.9 198.8 L1656.4 199.5 L1657.9 200.2 L1659.4 200.9 L1660.9 201.6 L1662.4 202.3 L1663.9 203.0 L1665.4 203.7 L1666.9 204.4 L1668.4 205.1 L1669.9 205.8 L1671.4 206.5 L1672.9 207.2 L1674.4 207.8 L1675.9 208.5 L1677.4 209.2 L1678.9 209.8 L1680.4 210.5 L1681.9 211.2 L1683.4 211.8 L1684.9 212.5 L1686.4 213.1 L1687.9 213.7 L1689.4 214.4 L1690.9 215.0 L1692.4 215.6 L1693.9 216.2 L1695.4 216.8 L1696.9 217.4 L1698.4 218.0 L1699.9 218.6 L1701.4 219.2 L1702.9 219.8 L1704.4 220.4 L1705.9 220.9 L1707.4 221.5 L1708.9 222.0 L1710.4 222.6 L1711.9 223.1 L1713.4 223.7 L1714.9 224.2 L1716.4 224.7 L1717.9 225.2 L1719.4 225.7 L1720.9 226.2 L1722.4 226.7 L1723.9 227.2 L1725.4 227.7 L1726.9 228.2 L1728.4 228.6 L1729.9 229.1 L1731.4 229.5 L1732.9 230.0 L1734.4 230.4 L1735.9 230.8 L1737.4 231.3 L1738.9 231.7 L1740.4 232.1 L1741.9 232.5 L1743.4 232.9 L1744.9 233.3 L1746.4 233.7 L1747.9 234.1 L1749.4 234.5 L1750.9 234.8 L1752.4 235.2 L1753.9 235.5 L1755.4 235.9 L1756.9 236.2 L1758.4 236.6 L1759.9 236.9 L1761.4 237.2 L1762.9 237.5 L1764.4 237.8 L1765.9 238.1 L1767.4 238.4 L1768.9 238.7 L1770.4 239.0 L1771.9 239.3 L1773.4 239.6 L1774.9 239.8 L1776.4 240.1 L1777.9 240.3 L1779.4 240.6 L1780.9 240.8 L1782.4 241.0 L1783.9 241.3 L1785.4 241.5 L1786.9 241.7 L1788.4 241.9 L1789.9 242.1 L1791.4 242.3 L1792.9 242.5 L1794.4 242.7 L1795.9 242.8 L1797.4 243.0 L1798.9 243.2 L1800.4 243.3 L1801.9 243.5 L1803.4 243.6 L1804.9 243.7 L1806.4 243.9 L1807.9 244.0 L1809.4 244.1 L1810.9 244.2 L1812.4 244.3 L1813.9 244.4 L1815.4 244.5 L1816.9 244.6 L1818.4 244.7 L1819.9 244.7 L1821.4 244.8 L1822.9 244.8 L1824.4 244.9 L1825.9 245.0 L1827.4 245.0 L1828.9 245.1 L1830.4 245.1 L1831.9 245.2 L1833.4 245.2 L1834.9 245.3 L1836.4 245.4 L1837.9 245.4 L1839.4 245.5 L1840.9 245.6 L1842.4 245.7 L1843.9 245.9 L1845.4 246.0 L1846.9 246.1 L1848.4 246.3 L1849.9 246.5 L1851.4 246.7 L1852.9 246.9 L1854.4 247.2 L1855.9 247.5 L1857.4 247.8 L1858.9 248.1 L1860.4 248.5 L1861.9 248.8 L1863.4 249.3 L1864.9 249.7 L1866.4 250.2 L1867.9 250.7 L1869.4 251.2 L1870.9 251.8 L1872.4 252.5 L1873.9 253.1 L1875.4 253.8 L1876.9 254.6 L1878.4 255.3 L1879.9 256.1 L1881.4 257.0 L1882.9 257.9 L1884.4 258.8 L1885.9 259.8 L1887.4 260.8 L1888.9 261.9 L1890.4 263.0 L1891.9 264.1 L1893.4 265.3 L1894.9 266.5 L1896.4 267.8 L1897.9 269.1 L1899.4 270.5 L1900.9 271.9 L1902.4 273.3 L1903.9 274.8 L1905.4 276.3 L1906.9 277.9 L1908.4 279.5 L1909.9 281.2 L1911.4 282.9 L1912.9 284.6 L1914.4 286.4 L1915.9 288.2 L1917.4 290.0 L1918.9 291.9 L1920.4 293.8 L1921.9 295.7 L1923.4 297.7 L1924.9 299.7 L1926.4 301.7 L1927.9 303.8 L1929.4 305.9 L1930.9 308.0 L1932.4 310.2 L1933.9 312.4 L1935.4 314.6 L1936.9 316.8 L1938.4 319.2 L1939.9 321.5 L1941.4 323.9 L1942.9 326.4 L1944.4 328.9 L1945.9 331.4 L1947.4 334.0 L1948.9 336.7 L1950.4 339.5 L1951.9 342.3 L1953.4 345.1 L1954.9 348.1 L1956.4 351.1 L1957.9 354.2 L1959.4 357.4 L1960.9 360.7 L1962.4 364.0 L1962.6 364.5" stroke="#70b400"/>
<path d="M1177.9 129.5 L1179.4 129.9 L1180.9 130.4 L1182.4 130.9 L1183.9 131.5 L1185.4 132.1 L1186.9 132.7 L1188.4 133.4 L1189.9 134.1 L1191.4 134.8 L1192.9 135.6 L1194.4 136.3 L1195.9 137.1 L1197.4 137.9 L1198.9 138.7 L1200.4 139.5 L1201.9 140.3 L1203.4 141.1 L1204.9 141.9 L1206.4 142.7 L1207.9 143.5 L1209.4 144.2 L1210.9 145.0 L1212.4 145.7 L1213.9 146.4 L1215.4 147.1 L1216.9 147.7 L1218.4 148.3 L1219.9 148.8 L1221.4 149.2 L1222.9 149.5 L1224.4 149.6 L1225.9 149.6 L1227.4 149.4 L1228.9 148.9 L1230.4 148.3 L1231.9 147.4 L1233.4 146.3 L1234.9 145.0 L1236.4 143.7 L1237.9 142.3 L1239.4 140.8 L1240.9 139.4 L1242.4 138.1 L1243.9 136.8 L1245.4 135.7 L1246.9 134.7 L1248.4 133.9 L1249.9 133.2 L1251.4 132.7 L1252.9 132.2 L1254.4 131.9 L1255.9 131.7 L1257.4 131.5 L1258.9 131.5 L1260.4 131.6 L1261.9 131.7 L1263.4 131.9 L1264.9 132.2 L1266.4 132.5 L1267.9 132.9 L1269.4 133.4 L1270.9 133.8 L1272.4 134.3 L1273.9 134.9 L1275.4 135.5 L1276.9 136.0 L1278.4 136.6 L1279.9 137.2 L1281.4 137.8 L1282.9 138.4 L1284.4 138.9 L1285.9 139.4 L1287.4 139.9 L1288.9 140.4 L1290.4 140.8 L1291.9 141.2 L1293.4 141.6 L1294.9 142.0 L1296.4 142.3 L1297.9 142.6 L1299.4 142.9 L1300.9 143.1 L1302.4 143.3 L1303.9 143.5 L1305.4 143.7 L1306.9 143.8 L1308.4 143.9 L1309.9 144.0 L1311.4 144.0 L1312.9 144.1 L1314.4 144.1 L1315.9 144.0 L1317.4 143.9 L1318.9 143.9 L1320.4 143.7 L1321.9 143.6 L1323.4 143.4 L1324.9 143.2 L1326.4 143.0 L1327.9 142.7 L1329.4 142.4 L1330.9 142.1 L1332.4 141.7 L1333.9 141.3 L1335.4 140.9 L1336.9 140.5 L1338.4 140.0 L1339.9 139.6 L1341.4 139.1 L1342.9 138.6 L1344.4 138.1 L1345.9 137.5 L1347.4 137.0 L1348.9 136.5 L1350.4 136.0 L1351.9 135.5 L1353.4 135.0 L1354.9 134.5 L1356.4 134.0 L1357.9 133.6 L1359.4 133.2 L1360.9 132.8 L1362.4 132.4 L1363.9 132.1 L1365.4 131.8 L1366.9 131.6 L1368.4 131.4 L1369.9 131.3 L1371.4 131.2 L1372.9 131.1 L1374.4 131.2 L1375.9 131.3 L1377.4 131.4 L1378.9 131.6 L1380.4 131.9 L1381.9 132.2 L1383.4 132.6 L1384.9 133.1 L1386.4 133.5 L1387.9 134.0 L1389.4 134.5 L1390.9 135.1 L1392.4 135.6 L1393.9 136.2 L1395.4 136.8 L1396.9 137.4 L1398.4 138.0 L1399.9 138.5 L1401.4 139.1 L1402.9 139.6 L1404.4 140.2 L1405.9 140.7 L1407.4 141.1 L1408.9 141.6 L1410.4 142.0 L1411.9 142.3 L1413.4 142.6 L1414.9 142.8 L1416.4 143.0 L1417.9 143.0 L1419.4 143.0 L1420.9 142.8 L1422.4 142.5 L1423.9 142.1 L1425.4 141.5 L1426.9 140.8 L1428.4 139.9 L1429.9 138.8 L1431.4 137.5 L1432.9 135.9 L1434.4 134.2 L1435.9 132.2 L1437.4 130.0 L1438.9 127.6 L1440.4 125.0 L1441.9 122.4 L1443.4 119.6 L1444.9 116.7 L1446.4 113.8 L1447.9 110.9 L1449.4 108.0 L1450.9 105.1 L1452.4 102.3 L1453.9 99.6 L1455.4 97.0 L1456.9 94.5 L1458.4 92.2 L1459.9 90.1 L1461.4 88.2 L1462.9 86.5 L1464.4 85.0 L1465.9 83.7 L1467.4 82.6 L1468.9 81.7 L1470.4 80.9 L1471.9 80.3 L1473.4 79.9 L1474.9 79.6 L1476.4 79.4 L1477.9 79.3 L1479.4 79.4 L1480.9 79.5 L1482.4 79.8 L1483.9 80.2 L1485.4 80.7 L1486.9 81.4 L1488.4 82.1 L1489.9 82.9 L1491.4 83.9 L1492.9 84.9 L1494.4 86.0 L1495.9 87.2 L1497.4 88.5 L1498.9 89.9 L1500.4 91.4 L1501.9 92.9 L1503.4 94.5 L1504.9 96.2 L1506.4 98.0 L1507.9 99.8 L1509.4 101.7 L1510.9 103.7 L1512.4 105.7 L1513.9 107.8 L1515.4 109.9 L1516.9 112.1 L1518.4 114.3 L1519.9 116.5 L1521.4 118.7 L1522.9 121.0 L1524.4 123.2 L1525.9 125.4 L1527.4 127.6 L1528.9 129.8 L1530.4 131.9 L1531.9 134.0 L1533.4 136.0 L1534.9 138.0 L1536.4 139.9 L1537.9 141.7 L1539.4 143.4 L1540.9 145.1 L1542.4 146.6 L1543.9 148.0 L1545.4 149.2 L1546.9 150.4 L1548.4 151.4 L1549.9 152.2 L1551.4 153.0 L1552.9 153.6 L1554.4 154.0 L1555.9 154.4 L1557.4 154.7 L1558.9 154.9 L1560.4 155.0 L1561.9 155.0 L1563.4 155.0 L1564.9 155.0 L1566.4 154.8 L1567.9 154.7 L1569.4 154.5 L1570.9 154.3 L1572.4 154.1 L1573.9 154.0 L1575.4 153.8 L1576.9 153.6 L1578.4 153.5 L1579.9 153.4 L1581.4 153.3 L1582.9 153.3 L1584.4 153.4 L1585.9 153.5 L1587.4 153.7 L1588.9 154.0 L1590.4 154.3 L1591.9 154.8 L1593.4 155.3 L1594.9 156.0 L1596.4 156.7 L1597.9 157.5 L1599.4 158.5 L1600.9 159.5 L1602.4 160.5 L1603.9 161.6 L1605.4 162.8 L1606.9 164.0 L1608.4 165.2 L1609.9 166.4 L1611.4 167.6 L1612.9 168.8 L1614.4 170.0 L1615.9 171.2 L1617.4 172.3 L1618.9 173.4 L1620.4 174.5 L1621.9 175.5 L1623.4 176.5 L1624.9 177.5 L1626.4 178.4 L1627.9 179.3 L1629.4 180.2 L1630.9 181.0 L1632.4 181.9 L1633.9 182.7 L1635.4 183.4 L1636.9 184.2 L1638.4 184.9 L1639.9 185.6 L1641.4 186.3 L1642.9 187.0 L1644.4 187.7 L1645.9 188.4 L1647.4 189.2 L1648.9 189.9 L1650.4 190.7 L1651.9 191.5 L1653.4 192.4 L1654.9 193.3 L1656.4 194.3 L1657.9 195.2 L1659.4 196.2 L1660.9 197.2 L1662.4 198.1 L1663.9 199.0 L1665.4 199.9 L1666.9 200.7 L1668.4 201.5 L1669.9 202.3 L1671.4 203.0 L1672.9 203.6 L1674.4 204.2 L1675.9 204.8 L1677.4 205.4 L1678.9 206.0 L1680.4 206.5 L1681.9 207.0 L1683.4 207.5 L1684.9 208.0 L1686.4 208.5 L1687.9 208.9 L1689.4 209.4 L1690.9 209.9 L1692.4 210.4 L1693.9 210.9 L1695.4 211.5 L1696.9 212.0 L1698.4 212.6 L1699.9 213.1 L1701.4 213.7 L1702.9 214.3 L1704.4 215.0 L1705.9 215.6 L1707.4 216.2 L1708.9 216.8 L1710.4 217.5 L1711.9 218.1 L1713.4 218.8 L1714.9 219.4 L1716.4 220.1 L1717.9 220.7 L1719.4 221.4 L1720.9 222.0 L1722.4 222.7 L1723.9 223.3 L1725.4 223.9 L1726.9 224.5 L1728.4 225.1 L1729.9 225.7 L1731.4 226.2 L1732.9 226.8 L1734.4 227.3 L1735.9 227.8 L1737.4 228.3 L1738.9 228.8 L1740.4 229.3 L1741.9 229.8 L1743.4 230.2 L1744.9 230.7 L1746.4 231.1 L1747.9 231.5 L1749.4 231.9 L1750.9 232.3 L1752.4 232.6 L1753.9 233.0 L1755.4 233.4 L1756.9 233.7 L1758.4 234.0 L1759.9 234.4 L1761.4 234.7 L1762.9 235.0 L1764.4 235.3 L1765.9 235.5 L1767.4 235.8 L1768.9 236.1 L1770.4 236.3 L1771.9 236.6 L1773.4 236.8 L1774.9 237.0 L1776.4 237.3 L1777.9 237.5 L1779.4 237.7 L1780.9 237.9 L1782.4 238.1 L1783.9 238.3 L1785.4 238.5 L1786.9 238.7 L1788.4 238.8 L1789.9 239.0 L1791.4 239.2 L1792.9 239.3 L1794.4 239.5 L1795.9 239.7 L1797.4 239.8 L1798.9 240.0 L1800.4 240.1 L1801.9 240.2 L1803.4 240.4 L1804.9 240.5 L1806.4 240.7 L1807.9 240.8 L1809.4 240.9 L1810.9 241.1 L1812.4 241.2 L1813.9 241.3 L1815.4 241.4 L1816.9 241.6 L1818.4 241.7 L1819.9 241.8 L1821.4 241.9 L1822.9 242.1 L1824.4 242.2 L1825.9 242.3 L1827.4 242.5 L1828.9 242.6 L1830.4 242.7 L1831.9 242.9 L1833.4 243.0 L1834.9 243.2 L1836.4 243.3 L1837.9 243.4 L1839.4 243.6 L1840.9 243.7 L1842.4 243.9 L1843.9 244.1 L1845.4 244.2 L1846.9 244.4 L1848.4 244.6 L1849.9 244.8 L1851.4 244.9 L1852.9 245.1 L1854.4 245.3 L1855.9 245.6 L1857.4 245.8 L1858.9 246.1 L1860.4 246.4 L1861.9 246.7 L1863.4 247.0 L1864.9 247.4 L1866.4 247.8 L1867.9 248.3 L1869.4 248.8 L1870.9 249.4 L1872.4 250.0 L1873.9 250.7 L1875.4 251.4 L1876.9 252.2 L1878.4 253.0 L1879.9 253.9 L1881.4 254.8 L1882.9 255.8 L1884.4 256.8 L1885.9 257.8 L1887.4 258.9 L1888.9 260.0 L1890.4 261.2 L1891.9 262.4 L1893.4 263.7 L1894.9 265.0 L1896.4 266.3 L1897.9 267.7 L1899.4 269.1 L1900.9 270.5 L1902.4 272.0 L1903.9 273.5 L1905.4 275.1 L1906.9 276.7 L1908.4 278.3 L1909.9 280.0 L1911.4 281.7 L1912.9 283.4 L1914.4 285.2 L1915.9 287.0 L1917.4 288.9 L1918.9 290.8 L1920.4 292.7 L1921.9 294.7 L1923.4 296.8 L1924.9 298.8 L1926.4 301.0 L1927.9 303.1 L1929.4 305.3 L1930.9 307.6 L1932.4 309.9 L1933.9 312.3 L1935.4 314.7 L1936.9 317.1 L1938.4 319.6 L1939.9 322.2 L1941.4 324.8 L1942.9 327.5 L1944.4 330.2 L1945.9 332.9 L1947.4 335.7 L1948.9 338.6 L1950.4 341.5 L1951.9 344.5 L1953.4 347.5 L1954.9 350.6 L1956.4 353.8 L1957.9 357.0 L1959.4 360.2 L1960.9 363.5 L1962.4 366.9 L1962.6 367.4" stroke="#62b9e0"/>
<path d="M1177.9 94.2 L1179.4 94.4 L1180.9 94.6 L1182.4 94.7 L1183.9 94.8 L1185.4 94.9 L1186.9 95.0 L1188.4 95.1 L1189.9 95.2 L1191.4 95.3 L1192.9 95.4 L1194.4 95.6 L1195.9 95.8 L1197.4 96.1 L1198.9 96.5 L1200.4 96.9 L1201.9 97.4 L1203.4 98.0 L1204.9 98.7 L1206.4 99.5 L1207.9 100.3 L1209.4 101.2 L1210.9 102.2 L1212.4 103.2 L1213.9 104.1 L1215.4 105.1 L1216.9 106.1 L1218.4 107.0 L1219.9 107.9 L1221.4 108.6 L1222.9 109.4 L1224.4 110.0 L1225.9 110.5 L1227.4 111.0 L1228.9 111.3 L1230.4 111.6 L1231.9 111.8 L1233.4 111.8 L1234.9 111.9 L1236.4 111.8 L1237.9 111.6 L1239.4 111.3 L1240.9 111.0 L1242.4 110.6 L1243.9 110.1 L1245.4 109.6 L1246.9 109.0 L1248.4 108.5 L1249.9 108.0 L1251.4 107.5 L1252.9 107.0 L1254.4 106.7 L1255.9 106.4 L1257.4 106.3 L1258.9 106.2 L1260.4 106.3 L1261.9 106.5 L1263.4 106.8 L1264.9 107.2 L1266.4 107.6 L1267.9 108.1 L1269.4 108.6 L1270.9 109.1 L1272.4 109.7 L1273.9 110.3 L1275.4 110.8 L1276.9 111.4 L1278.4 111.8 L1279.9 112.3 L1281.4 112.7 L1282.9 113.0 L1284.4 113.2 L1285.9 113.3 L1287.4 113.3 L1288.9 113.2 L1290.4 113.0 L1291.9 112.8 L1293.4 112.5 L1294.9 112.2 L1296.4 111.9 L1297.9 111.6 L1299.4 111.3 L1300.9 111.0 L1302.4 110.8 L1303.9 110.6 L1305.4 110.4 L1306.9 110.3 L1308.4 110.3 L1309.9 110.3 L1311.4 110.3 L1312.9 110.4 L1314.4 110.6 L1315.9 110.8 L1317.4 111.0 L1318.9 111.3 L1320.4 111.7 L1321.9 112.0 L1323.4 112.4 L1324.9 112.9 L1326.4 113.3 L1327.9 113.8 L1329.4 114.3 L1330.9 114.8 L1332.4 115.3 L1333.9 115.8 L1335.4 116.3 L1336.9 116.8 L1338.4 117.2 L1339.9 117.6 L1341.4 118.0 L1342.9 118.3 L1344.4 118.6 L1345.9 118.9 L1347.4 119.1 L1348.9 119.4 L1350.4 119.5 L1351.9 119.7 L1353.4 119.9 L1354.9 120.0 L1356.4 120.1 L1357.9 120.2 L1359.4 120.3 L1360.9 120.3 L1362.4 120.4 L1363.9 120.4 L1365.4 120.5 L1366.9 120.5 L1368.4 120.6 L1369.9 120.6 L1371.4 120.7 L1372.9 120.7 L1374.4 120.8 L1375.9 120.9 L1377.4 120.9 L1378.9 121.0 L1380.4 121.2 L1381.9 121.3 L1383.4 121.4 L1384.9 121.6 L1386.4 121.8 L1387.9 122.0 L1389.4 122.3 L1390.9 122.6 L1392.4 122.8 L1393.9 123.1 L1395.4 123.4 L1396.9 123.7 L1398.4 124.0 L1399.9 124.3 L1401.4 124.6 L1402.9 124.9 L1404.4 125.2 L1405.9 125.5 L1407.4 125.8 L1408.9 126.1 L1410.4 126.3 L1411.9 126.5 L1413.4 126.7 L1414.9 126.9 L1416.4 127.1 L1417.9 127.2 L1419.4 127.3 L1420.9 127.3 L1422.4 127.3 L1423.9 127.3 L1425.4 127.2 L1426.9 127.0 L1428.4 126.6 L1429.9 126.2 L1431.4 125.5 L1432.9 124.7 L1434.4 123.7 L1435.9 122.5 L1437.4 121.0 L1438.9 119.3 L1440.4 117.4 L1441.9 115.2 L1443.4 112.9 L1444.9 110.5 L1446.4 108.0 L1447.9 105.5 L1449.4 102.9 L1450.9 100.3 L1452.4 97.8 L1453.9 95.3 L1455.4 92.8 L1456.9 90.5 L1458.4 88.3 L1459.9 86.3 L1461.4 84.5 L1462.9 82.8 L1464.4 81.4 L1465.9 80.1 L1467.4 79.0 L1468.9 78.0 L1470.4 77.2 L1471.9 76.6 L1473.4 76.1 L1474.9 75.7 L1476.4 75.5 L1477.9 75.5 L1479.4 75.6 L1480.9 75.8 L1482.4 76.1 L1483.9 76.6 L1485.4 77.1 L1486.9 77.8 L1488.4 78.6 L1489.9 79.5 L1491.4 80.5 L1492.9 81.6 L1494.4 82.8 L1495.9 84.0 L1497.4 85.3 L1498.9 86.7 L1500.4 88.2 L1501.9 89.7 L1503.4 91.3 L1504.9 93.0 L1506.4 94.7 L1507.9 96.4 L1509.4 98.1 L1510.9 99.9 L1512.4 101.8 L1513.9 103.6 L1515.4 105.4 L1516.9 107.3 L1518.4 109.2 L1519.9 111.0 L1521.4 112.9 L1522.9 114.8 L1524.4 116.6 L1525.9 118.5 L1527.4 120.3 L1528.9 122.1 L1530.4 123.9 L1531.9 125.6 L1533.4 127.3 L1534.9 128.9 L1536.4 130.5 L1537.9 132.0 L1539.4 133.3 L1540.9 134.6 L1542.4 135.8 L1543.9 136.8 L1545.4 137.7 L1546.9 138.5 L1548.4 139.1 L1549.9 139.6 L1551.4 139.9 L1552.9 140.1 L1554.4 140.2 L1555.9 140.2 L1557.4 140.2 L1558.9 140.1 L1560.4 139.9 L1561.9 139.7 L1563.4 139.5 L1564.9 139.4 L1566.4 139.2 L1567.9 139.1 L1569.4 139.1 L1570.9 139.1 L1572.4 139.1 L1573.9 139.2 L1575.4 139.4 L1576.9 139.6 L1578.4 139.9 L1579.9 140.2 L1581.4 140.6 L1582.9 141.0 L1584.4 141.5 L1585.9 142.0 L1587.4 142.5 L1588.9 143.1 L1590.4 143.7 L1591.9 144.3 L1593.4 145.0 L1594.9 145.7 L1596.4 146.4 L1597.9 147.1 L1599.4 147.9 L1600.9 148.7 L1602.4 149.5 L1603.9 150.3 L1605.4 151.1 L1606.9 151.9 L1608.4 152.8 L1609.9 153.6 L1611.4 154.5 L1612.9 155.4 L1614.4 156.2 L1615.9 157.1 L1617.4 157.9 L1618.9 158.8 L1620.4 159.6 L1621.9 160.5 L1623.4 161.3 L1624.9 162.2 L1626.4 163.0 L1627.9 163.8 L1629.4 164.7 L1630.9 165.5 L1632.4 166.4 L1633.9 167.2 L1635.4 168.0 L1636.9 168.9 L1638.4 169.7 L1639.9 170.5 L1641.4 171.3 L1642.9 172.2 L1644.4 173.0 L1645.9 173.8 L1647.4 174.6 L1648.9 175.4 L1650.4 176.3 L1651.9 177.1 L1653.4 177.9 L1654.9 178.7 L1656.4 179.5 L1657.9 180.3 L1659.4 181.1 L1660.9 181.9 L1662.4 182.7 L1663.9 183.5 L1665.4 184.3 L1666.9 185.1 L1668.4 185.9 L1669.9 186.7 L1671.4 187.5 L1672.9 188.3 L1674.4 189.0 L1675.9 189.8 L1677.4 190.6 L1678.9 191.3 L1680.4 192.1 L1681.9 192.8 L1683.4 193.6 L1684.9 194.3 L1686.4 195.0 L1687.9 195.8 L1689.4 196.5 L1690.9 197.2 L1692.4 197.9 L1693.9 198.6 L1695.4 199.3 L1696.9 200.0 L1698.4 200.7 L1699.9 201.3 L1701.4 202.0 L1702.9 202.7 L1704.4 203.3 L1705.9 203.9 L1707.4 204.6 L1708.9 205.2 L1710.4 205.8 L1711.9 206.4 L1713.4 207.0 L1714.9 207.6 L1716.4 208.2 L1717.9 208.7 L1719.4 209.3 L1720.9 209.8 L1722.4 210.4 L1723.9 210.9 L1725.4 211.4 L1726.9 211.9 L1728.4 212.4 L1729.9 212.9 L1731.4 213.4 L1732.9 213.9 L1734.4 214.4 L1735.9 214.8 L1737.4 215.3 L1738.9 215.7 L1740.4 216.2 L1741.9 216.6 L1743.4 217.0 L1744.9 217.4 L1746.4 217.9 L1747.9 218.3 L1749.4 218.6 L1750.9 219.0 L1752.4 219.4 L1753.9 219.8 L1755.4 220.1 L1756.9 220.5 L1758.4 220.8 L1759.9 221.2 L1761.4 221.5 L1762.9 221.8 L1764.4 222.2 L1765.9 222.5 L1767.4 222.8 L1768.9 223.1 L1770.4 223.4 L1771.9 223.6 L1773.4 223.9 L1774.9 224.2 L1776.4 224.5 L1777.9 224.7 L1779.4 225.0 L1780.9 225.2 L1782.4 225.5 L1783.9 225.7 L1785.4 225.9 L1786.9 226.1 L1788.4 226.3 L1789.9 226.6 L1791.4 226.8 L1792.9 227.0 L1794.4 227.1 L1795.9 227.3 L1797.4 227.5 L1798.9 227.7 L1800.4 227.9 L1801.9 228.0 L1803.4 228.2 L1804.9 228.3 L1806.4 228.5 L1807.9 228.6 L1809.4 228.8 L1810.9 228.9 L1812.4 229.0 L1813.9 229.1 L1815.4 229.3 L1816.9 229.4 L1818.4 229.5 L1819.9 229.6 L1821.4 229.7 L1822.9 229.8 L1824.4 229.9 L1825.9 230.0 L1827.4 230.0 L1828.9 230.1 L1830.4 230.2 L1831.9 230.3 L1833.4 230.4 L1834.9 230.5 L1836.4 230.6 L1837.9 230.7 L1839.4 230.9 L1840.9 231.0 L1842.4 231.1 L1843.9 231.3 L1845.4 231.4 L1846.9 231.6 L1848.4 231.8 L1849.9 232.0 L1851.4 232.2 L1852.9 232.4 L1854.4 232.7 L1855.9 232.9 L1857.4 233.2 L1858.9 233.5 L1860.4 233.9 L1861.9 234.2 L1863.4 234.6 L1864.9 235.0 L1866.4 235.4 L1867.9 235.9 L1869.4 236.3 L1870.9 236.8 L1872.4 237.4 L1873.9 237.9 L1875.4 238.5 L1876.9 239.2 L1878.4 239.8 L1879.9 240.5 L1881.4 241.3 L1882.9 242.0 L1884.4 242.8 L1885.9 243.7 L1887.4 244.6 L1888.9 245.5 L1890.4 246.5 L1891.9 247.5 L1893.4 248.5 L1894.9 249.6 L1896.4 250.8 L1897.9 252.0 L1899.4 253.2 L1900.9 254.5 L1902.4 255.8 L1903.9 257.2 L1905.4 258.7 L1906.9 260.1 L1908.4 261.7 L1909.9 263.2 L1911.4 264.9 L1912.9 266.6 L1914.4 268.3 L1915.9 270.1 L1917.4 271.9 L1918.9 273.8 L1920.4 275.7 L1921.9 277.7 L1923.4 279.7 L1924.9 281.8 L1926.4 283.9 L1927.9 286.1 L1929.4 288.3 L1930.9 290.6 L1932.4 292.9 L1933.9 295.3 L1935.4 297.7 L1936.9 300.1 L1938.4 302.7 L1939.9 305.2 L1941.4 307.8 L1942.9 310.5 L1944.4 313.2 L1945.9 316.0 L1947.4 318.8 L1948.9 321.7 L1950.4 324.6 L1951.9 327.6 L1953.4 330.6 L1954.9 333.6 L1956.4 336.8 L1957.9 339.9 L1959.4 343.1 L1960.9 346.4 L1962.4 349.7 L1962.6 350.2" stroke="#a00020"/>
<path d="M1177.9 127.3 L1179.4 127.1 L1180.9 127.1 L1182.4 127.0 L1183.9 127.1 L1185.4 127.1 L1186.9 127.3 L1188.4 127.4 L1189.9 127.6 L1191.4 127.9 L1192.9 128.2 L1194.4 128.5 L1195.9 128.8 L1197.4 129.2 L1198.9 129.6 L1200.4 130.1 L1201.9 130.5 L1203.4 131.0 L1204.9 131.6 L1206.4 132.1 L1207.9 132.6 L1209.4 133.0 L1210.9 133.4 L1212.4 133.8 L1213.9 134.0 L1215.4 134.1 L1216.9 134.1 L1218.4 134.0 L1219.9 133.7 L1221.4 133.1 L1222.9 132.4 L1224.4 131.5 L1225.9 130.4 L1227.4 129.2 L1228.9 127.8 L1230.4 126.4 L1231.9 124.9 L1233.4 123.3 L1234.9 121.6 L1236.4 120.0 L1237.9 118.4 L1239.4 116.7 L1240.9 115.2 L1242.4 113.7 L1243.9 112.3 L1245.4 111.1 L1246.9 109.9 L1248.4 108.9 L1249.9 108.0 L1251.4 107.2 L1252.9 106.5 L1254.4 106.0 L1255.9 105.5 L1257.4 105.2 L1258.9 105.1 L1260.4 105.0 L1261.9 105.0 L1263.4 105.2 L1264.9 105.5 L1266.4 105.9 L1267.9 106.4 L1269.4 107.0 L1270.9 107.6 L1272.4 108.4 L1273.9 109.2 L1275.4 110.0 L1276.9 111.0 L1278.4 111.9 L1279.9 112.9 L1281.4 114.0 L1282.9 115.0 L1284.4 116.1 L1285.9 117.2 L1287.4 118.2 L1288.9 119.3 L1290.4 120.3 L1291.9 121.4 L1293.4 122.3 L1294.9 123.3 L1296.4 124.2 L1297.9 125.0 L1299.4 125.8 L1300.9 126.6 L1302.4 127.2 L1303.9 127.7 L1305.4 128.2 L1306.9 128.6 L1308.4 128.9 L1309.9 129.1 L1311.4 129.2 L1312.9 129.2 L1314.4 129.2 L1315.9 129.1 L1317.4 128.8 L1318.9 128.5 L1320.4 128.1 L1321.9 127.7 L1323.4 127.1 L1324.9 126.5 L1326.4 125.8 L1327.9 125.1 L1329.4 124.3 L1330.9 123.5 L1332.4 122.7 L1333.9 121.9 L1335.4 121.1 L1336.9 120.3 L1338.4 119.5 L1339.9 118.7 L1341.4 118.0 L1342.9 117.3 L1344.4 116.7 L1345.9 116.0 L1347.4 115.5 L1348.9 114.9 L1350.4 114.4 L1351.9 114.0 L1353.4 113.6 L1354.9 113.2 L1356.4 112.9 L1357.9 112.6 L1359.4 112.4 L1360.9 112.2 L1362.4 112.1 L1363.9 112.0 L1365.4 112.0 L1366.9 112.0 L1368.4 112.1 L1369.9 112.2 L1371.4 112.4 L1372.9 112.6 L1374.4 112.9 L1375.9 113.3 L1377.4 113.7 L1378.9 114.2 L1380.4 114.7 L1381.9 115.3 L1383.4 115.9 L1384.9 116.7 L1386.4 117.4 L1387.9 118.3 L1389.4 119.2 L1390.9 120.1 L1392.4 121.1 L1393.9 122.1 L1395.4 123.1 L1396.9 124.1 L1398.4 125.1 L1399.9 126.2 L1401.4 127.2 L1402.9 128.2 L1404.4 129.2 L1405.9 130.1 L1407.4 131.1 L1408.9 131.9 L1410.4 132.8 L1411.9 133.5 L1413.4 134.2 L1414.9 134.8 L1416.4 135.4 L1417.9 135.8 L1419.4 136.2 L1420.9 136.4 L1422.4 136.6 L1423.9 136.6 L1425.4 136.5 L1426.9 136.2 L1428.4 135.7 L1429.9 135.1 L1431.4 134.3 L1432.9 133.2 L1434.4 132.0 L1435.9 130.5 L1437.4 128.7 L1438.9 126.7 L1440.4 124.4 L1441.9 121.8 L1443.4 119.0 L1444.9 116.1 L1446.4 113.0 L1447.9 109.9 L1449.4 106.8 L1450.9 103.8 L1452.4 100.9 L1453.9 98.2 L1455.4 95.7 L1456.9 93.3 L1458.4 91.2 L1459.9 89.2 L1461.4 87.3 L1462.9 85.7 L1464.4 84.2 L1465.9 82.9 L1467.4 81.8 L1468.9 80.8 L1470.4 79.9 L1471.9 79.2 L1473.4 78.7 L1474.9 78.3 L1476.4 78.1 L1477.9 78.0 L1479.4 78.0 L1480.9 78.1 L1482.4 78.4 L1483.9 78.8 L1485.4 79.4 L1486.9 80.0 L1488.4 80.8 L1489.9 81.7 L1491.4 82.7 L1492.9 83.7 L1494.4 84.9 L1495.9 86.2 L1497.4 87.6 L1498.9 89.0 L1500.4 90.5 L1501.9 92.1 L1503.4 93.8 L1504.9 95.5 L1506.4 97.3 L1507.9 99.2 L1509.4 101.1 L1510.9 103.0 L1512.4 105.0 L1513.9 107.0 L1515.4 109.1 L1516.9 111.2 L1518.4 113.3 L1519.9 115.5 L1521.4 117.7 L1522.9 119.8 L1524.4 122.0 L1525.9 124.2 L1527.4 126.4 L1528.9 128.6 L1530.4 130.7 L1531.9 132.8 L1533.4 134.9 L1534.9 137.0 L1536.4 139.0 L1537.9 141.0 L1539.4 142.9 L1540.9 144.8 L1542.4 146.5 L1543.9 148.1 L1545.4 149.6 L1546.9 150.9 L1548.4 152.0 L1549.9 153.0 L1551.4 153.7 L1552.9 154.3 L1554.4 154.7 L1555.9 155.1 L1557.4 155.2 L1558.9 155.3 L1560.4 155.3 L1561.9 155.2 L1563.4 155.1 L1564.9 154.9 L1566.4 154.6 L1567.9 154.4 L1569.4 154.1 L1570.9 153.8 L1572.4 153.5 L1573.9 153.3 L1575.4 153.0 L1576.9 152.8 L1578.4 152.6 L1579.9 152.5 L1581.4 152.4 L1582.9 152.3 L1584.4 152.3 L1585.9 152.3 L1587.4 152.4 L1588.9 152.6 L1590.4 152.9 L1591.9 153.2 L1593.4 153.6 L1594.9 154.1 L1596.4 154.8 L1597.9 155.5 L1599.4 156.2 L1600.9 157.1 L1602.4 158.0 L1603.9 158.9 L1605.4 159.9 L1606.9 160.9 L1608.4 162.0 L1609.9 163.0 L1611.4 164.0 L1612.9 165.1 L1614.4 166.0 L1615.9 167.0 L1617.4 167.9 L1618.9 168.8 L1620.4 169.7 L1621.9 170.5 L1623.4 171.3 L1624.9 172.1 L1626.4 172.8 L1627.9 173.6 L1629.4 174.3 L1630.9 174.9 L1632.4 175.6 L1633.9 176.2 L1635.4 176.8 L1636.9 177.4 L1638.4 178.0 L1639.9 178.5 L1641.4 179.1 L1642.9 179.6 L1644.4 180.1 L1645.9 180.6 L1647.4 181.1 L1648.9 181.6 L1650.4 182.1 L1651.9 182.5 L1653.4 183.0 L1654.9 183.5 L1656.4 183.9 L1657.9 184.3 L1659.4 184.8 L1660.9 185.2 L1662.4 185.6 L1663.9 186.1 L1665.4 186.5 L1666.9 186.9 L1668.4 187.3 L1669.9 187.7 L1671.4 188.1 L1672.9 188.5 L1674.4 188.9 L1675.9 189.3 L1677.4 189.6 L1678.9 190.0 L1680.4 190.4 L1681.9 190.7 L1683.4 191.1 L1684.9 191.5 L1686.4 191.8 L1687.9 192.1 L1689.4 192.5 L1690.9 192.8 L1692.4 193.2 L1693.9 193.5 L1695.4 193.8 L1696.9 194.1 L1698.4 194.5 L1699.9 194.8 L1701.4 195.1 L1702.9 195.4 L1704.4 195.7 L1705.9 196.0 L1707.4 196.3 L1708.9 196.6 L1710.4 196.8 L1711.9 197.1 L1713.4 197.4 L1714.9 197.7 L1716.4 197.9 L1717.9 198.2 L1719.4 198.5 L1720.9 198.7 L1722.4 199.0 L1723.9 199.3 L1725.4 199.5 L1726.9 199.8 L1728.4 200.0 L1729.9 200.2 L1731.4 200.5 L1732.9 200.7 L1734.4 200.9 L1735.9 201.2 L1737.4 201.4 L1738.9 201.6 L1740.4 201.8 L1741.9 202.1 L1743.4 202.3 L1744.9 202.5 L1746.4 202.7 L1747.9 202.9 L1749.4 203.1 L1750.9 203.3 L1752.4 203.5 L1753.9 203.7 L1755.4 203.9 L1756.9 204.1 L1758.4 204.3 L1759.9 204.5 L1761.4 204.7 L1762.9 204.9 L1764.4 205.0 L1765.9 205.2 L1767.4 205.4 L1768.9 205.6 L1770.4 205.7 L1771.9 205.9 L1773.4 206.1 L1774.9 206.3 L1776.4 206.4 L1777.9 206.6 L1779.4 206.8 L1780.9 206.9 L1782.4 207.1 L1783.9 207.2 L1785.4 207.4 L1786.9 207.5 L1788.4 207.7 L1789.9 207.9 L1791.4 208.0 L1792.9 208.2 L1794.4 208.3 L1795.9 208.5 L1797.4 208.6 L1798.9 208.8 L1800.4 208.9 L1801.9 209.0 L1803.4 209.2 L1804.9 209.3 L1806.4 209.5 L1807.9 209.6 L1809.4 209.8 L1810.9 209.9 L1812.4 210.0 L1813.9 210.2 L1815.4 210.3 L1816.9 210.5 L1818.4 210.6 L1819.9 210.7 L1821.4 210.9 L1822.9 211.0 L1824.4 211.1 L1825.9 211.3 L1827.4 211.4 L1828.9 211.6 L1830.4 211.7 L1831.9 211.8 L1833.4 212.0 L1834.9 212.1 L1836.4 212.2 L1837.9 212.4 L1839.4 212.5 L1840.9 212.6 L1842.4 212.8 L1843.9 212.9 L1845.4 213.1 L1846.9 213.2 L1848.4 213.4 L1849.9 213.5 L1851.4 213.7 L1852.9 213.9 L1854.4 214.1 L1855.9 214.4 L1857.4 214.6 L1858.9 214.9 L1860.4 215.2 L1861.9 215.5 L1863.4 215.8 L1864.9 216.2 L1866.4 216.6 L1867.9 217.0 L1869.4 217.5 L1870.9 218.0 L1872.4 218.5 L1873.9 219.1 L1875.4 219.7 L1876.9 220.3 L1878.4 221.0 L1879.9 221.8 L1881.4 222.6 L1882.9 223.4 L1884.4 224.3 L1885.9 225.2 L1887.4 226.2 L1888.9 227.3 L1890.4 228.4 L1891.9 229.5 L1893.4 230.7 L1894.9 231.9 L1896.4 233.2 L1897.9 234.5 L1899.4 235.9 L1900.9 237.3 L1902.4 238.8 L1903.9 240.3 L1905.4 241.8 L1906.9 243.4 L1908.4 245.0 L1909.9 246.7 L1911.4 248.4 L1912.9 250.1 L1914.4 251.8 L1915.9 253.6 L1917.4 255.5 L1918.9 257.3 L1920.4 259.2 L1921.9 261.1 L1923.4 263.1 L1924.9 265.1 L1926.4 267.1 L1927.9 269.2 L1929.4 271.3 L1930.9 273.5 L1932.4 275.7 L1933.9 278.0 L1935.4 280.3 L1936.9 282.6 L1938.4 285.0 L1939.9 287.4 L1941.4 289.9 L1942.9 292.5 L1944.4 295.0 L1945.9 297.7 L1947.4 300.4 L1948.9 303.1 L1950.4 306.0 L1951.9 308.9 L1953.4 311.9 L1954.9 315.1 L1956.4 318.4 L1957.9 321.8 L1959.4 325.3 L1960.9 329.1 L1962.4 333.0 L1962.6 333.5" stroke="#000000"/>
</g>
<rect x="139.0" y="231.3" width="278.2" height="265.3" fill="#fff" stroke="#262626" stroke-width="1.6"/>
<path d="M142 248.45H178" stroke="#1a6db5" stroke-width="3"/>
<text x="179.8" y="259.85" class="lg" textLength="234.5" lengthAdjust="spacingAndGlyphs">P1: white noise 10%</text>
<path d="M142 282.5H178" stroke="#de4f00" stroke-width="3"/>
<text x="179.8" y="293.9" class="lg" textLength="234.5" lengthAdjust="spacingAndGlyphs">P1: white noise 20%</text>
<path d="M142 315.5H178" stroke="#ebab0b" stroke-width="3"/>
<text x="179.8" y="326.9" class="lg" textLength="234.5" lengthAdjust="spacingAndGlyphs">P1: white noise 30%</text>
<path d="M142 348.5H178" stroke="#7300a0" stroke-width="3"/>
<text x="179.8" y="359.9" class="lg" textLength="234.5" lengthAdjust="spacingAndGlyphs">P1: white noise 40%</text>
<path d="M142 381H178" stroke="#70b400" stroke-width="3"/>
<text x="179.8" y="392.4" class="lg" textLength="234.5" lengthAdjust="spacingAndGlyphs">P1: white noise 50%</text>
<path d="M142 413.5H178" stroke="#62b9e0" stroke-width="3"/>
<text x="179.8" y="424.9" class="lg" textLength="234.5" lengthAdjust="spacingAndGlyphs">P1: white noise 60%</text>
<path d="M142 446.5H178" stroke="#a00020" stroke-width="3"/>
<text x="179.8" y="457.9" class="lg" textLength="234.5" lengthAdjust="spacingAndGlyphs">P1: white noise 70%</text>
<path d="M142 479H178" stroke="#000000" stroke-width="3"/>
<text x="179.8" y="490.4" class="lg" textLength="234.5" lengthAdjust="spacingAndGlyphs">P1: white noise 80%</text>
<rect x="1172.8" y="267.2" width="639.3" height="229.8" fill="#fff" stroke="#262626" stroke-width="1.6"/>
<path d="M1176 282.2H1211.6" stroke="#1a6db5" stroke-width="3"/>
<text x="1213.8" y="288.8" class="lb">P1:</text>
<text x="1260.3" y="288.8" class="lb" font-style="italic" textLength="113.2" lengthAdjust="spacing">Chippin’ in</text>
<text x="1382.1" y="288.8" class="lb">by</text>
<text x="1413.8" y="288.8" class="lb" textLength="84.7" lengthAdjust="spacing">Samurai</text>
<path d="M1176 310.6H1211.6" stroke="#de4f00" stroke-width="3"/>
<text x="1213.8" y="317.2" class="lb">P1:</text>
<text x="1258.5" y="317.2" class="lb" font-style="italic" textLength="227.6" lengthAdjust="spacing">Etude Op. 10, No. 12</text>
<text x="1495.7" y="317.2" class="lb">by</text>
<text x="1527.4" y="317.2" class="lb" textLength="103.4" lengthAdjust="spacing">F. Chopin</text>
<path d="M1176 339H1211.6" stroke="#ebab0b" stroke-width="3"/>
<text x="1213.8" y="345.6" class="lb">P1:</text>
<text x="1259.4" y="345.6" class="lb" font-style="italic" textLength="161.9" lengthAdjust="spacing">Symphony No.9</text>
<text x="1429.9" y="345.6" class="lb">by</text>
<text x="1464.4" y="345.6" class="lb" textLength="104.5" lengthAdjust="spacing">A. Dvorak</text>
<path d="M1176 367.4H1211.6" stroke="#7300a0" stroke-width="3"/>
<text x="1213.8" y="374" class="lb">P1:</text>
<text x="1258.5" y="374" class="lb" font-style="italic" textLength="223.8" lengthAdjust="spacing">Piano Concerto no. 4</text>
<text x="1493.7" y="374" class="lb">by</text>
<text x="1525.5" y="374" class="lb" textLength="169.1" lengthAdjust="spacing">S. Rachmaninoff</text>
<path d="M1176 395.8H1211.6" stroke="#70b400" stroke-width="3"/>
<text x="1213.8" y="402.4" class="lb">P1:</text>
<text x="1261.5" y="402.4" class="lb" font-style="italic" textLength="382.9" lengthAdjust="spacing">You Can’t Teach Old Dog New Tricks</text>
<text x="1653.4" y="402.4" class="lb">by</text>
<text x="1686.4" y="402.4" class="lb" textLength="123.7" lengthAdjust="spacing">Seasic Steve</text>
<path d="M1176 424.2H1211.6" stroke="#62b9e0" stroke-width="3"/>
<text x="1213.8" y="430.8" class="lb">P1:</text>
<text x="1259.5" y="430.8" class="lb" font-style="italic" textLength="38.6" lengthAdjust="spacing">SiC</text>
<text x="1308" y="430.8" class="lb">by</text>
<text x="1338.1" y="430.8" class="lb" textLength="67.6" lengthAdjust="spacing">silence</text>
<path d="M1176 452.6H1211.6" stroke="#a00020" stroke-width="3"/>
<text x="1213.8" y="459.2" class="lb">P1:</text>
<text x="1259.5" y="459.2" class="lb" font-style="italic" textLength="104" lengthAdjust="spacing">Stargazers</text>
<text x="1371.4" y="459.2" class="lb">by</text>
<text x="1403.5" y="459.2" class="lb" textLength="103.5" lengthAdjust="spacing">Nightwish</text>
<path d="M1176 481H1211.6" stroke="#000000" stroke-width="3"/>
<text x="1213.8" y="487.6" class="lb">P1:</text>
<text x="1258.5" y="487.6" class="lb" font-style="italic" textLength="214.3" lengthAdjust="spacing">Ride of the Valkyries</text>
<text x="1481.7" y="487.6" class="lb">by</text>
<text x="1513.7" y="487.6" class="lb" textLength="110.4" lengthAdjust="spacing">R. Wagner</text>
<text x="403.56" y="588.3" class="sr" font-size="35px" textLength="242.9" lengthAdjust="spacingAndGlyphs">(wavelet radius)</text>
<text x="648.41" y="588.3" class="sr" font-size="35px">[</text>
<text x="656.66" y="588.3" class="sr" font-size="35px" textLength="29.19" lengthAdjust="spacingAndGlyphs">m</text>
<text x="686.95" y="575" class="sr" font-size="25px" textLength="17.83" lengthAdjust="spacingAndGlyphs">−</text>
<text x="704.8" y="575" class="sr" font-size="25px">1</text>
<text x="715.93" y="588.3" class="sr" font-size="35px">]</text>
<text x="1392.96" y="588.3" class="sr" font-size="35px" textLength="242.3" lengthAdjust="spacingAndGlyphs">(wavelet radius)</text>
<text x="1641.31" y="588.3" class="sr" font-size="35px">[</text>
<text x="1649.97" y="588.3" class="sr" font-size="35px" textLength="29.5" lengthAdjust="spacingAndGlyphs">m</text>
<text x="1679.85" y="575" class="sr" font-size="25px" textLength="18.19" lengthAdjust="spacingAndGlyphs">−</text>
<text x="1697.6" y="575" class="sr" font-size="25px">1</text>
<text x="1708.84" y="588.3" class="sr" font-size="35px">]</text>
<g transform="translate(33.4,485) rotate(-90)" class="sr"><text x="-0.8" y="0" font-size="38px" font-style="italic">S</text><text x="8.8" y="-24.5" font-size="28px">~</text><text x="21" y="4.5" font-size="28px" font-style="italic" textLength="21" lengthAdjust="spacingAndGlyphs">N</text><text x="22" y="-18" font-size="26.5px">1D</text><text x="67.5" y="0" font-size="35px" textLength="390" lengthAdjust="spacingAndGlyphs">(wavelet power spectrum)</text></g>
<g transform="translate(1066.9,486.2) rotate(-90)" class="sr"><text x="-0.8" y="0" font-size="38px" font-style="italic">S</text><text x="8.8" y="-24.5" font-size="28px">~</text><text x="21" y="4.5" font-size="28px" font-style="italic" textLength="21" lengthAdjust="spacingAndGlyphs">N</text><text x="22" y="-18" font-size="26.5px">1D</text><text x="67.5" y="0" font-size="35px" textLength="390" lengthAdjust="spacingAndGlyphs">(wavelet power spectrum)</text></g>
<text x="540.4" y="659.5" text-anchor="middle" class="cap">(a)</text>
<text x="1573.4" y="659.5" text-anchor="middle" class="cap">(b)</text>
</svg>
</body></html>
